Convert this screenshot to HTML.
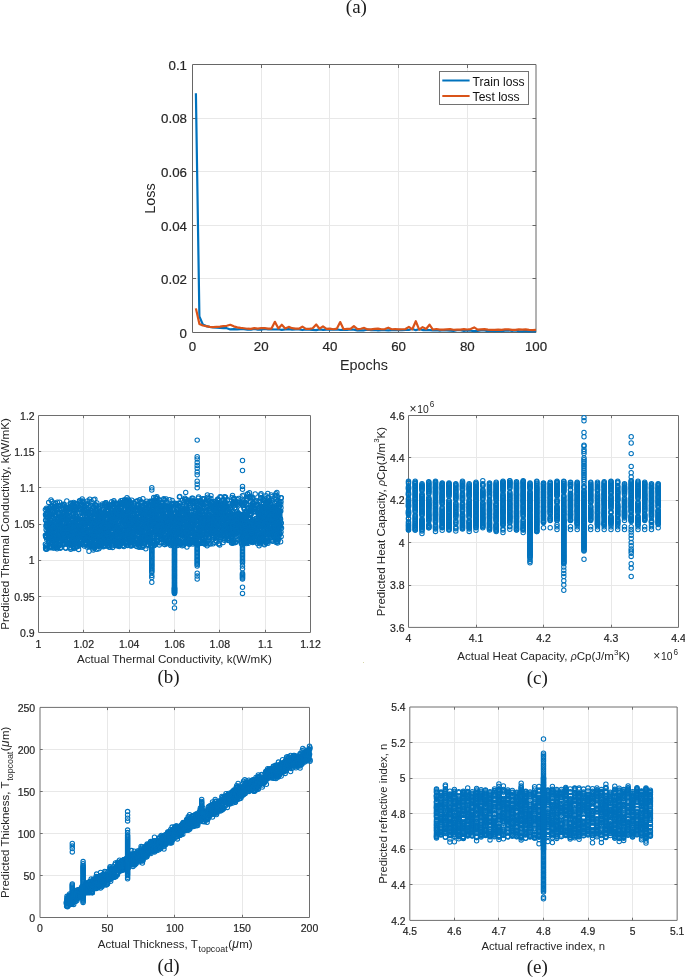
<!DOCTYPE html>
<html lang="en"><head><meta charset="utf-8"><title>Figure</title>
<style>html,body{margin:0;padding:0;background:#fff}svg{display:block}</style></head><body>
<svg width="685" height="977" viewBox="0 0 685 977">
<defs><marker id="mk" markerUnits="userSpaceOnUse" markerWidth="8" markerHeight="8" refX="4" refY="4" overflow="visible"><circle cx="4" cy="4" r="2.2" fill="none" stroke="#0072BD" stroke-width="1.05"/></marker></defs>
<rect width="685" height="977" fill="#fff"/>
<g font-family="'Liberation Serif', 'Times New Roman', Times, serif" font-size="19" fill="#1a1a1a" text-anchor="middle">
<text x="356.4" y="13.3">(a)</text>
<text x="168.5" y="682.6">(b)</text>
<text x="537.3" y="683.6">(c)</text>
<text x="168.6" y="971.9">(d)</text>
<text x="537.3" y="973.2">(e)</text>
</g>
<path d="M261.5 64.5V332.5M329.5 64.5V332.5M398.5 64.5V332.5M467.5 64.5V332.5M192.5 278.5H536.5M192.5 225.5H536.5M192.5 171.5H536.5M192.5 118.5H536.5" stroke="#e8e8e8" stroke-width="1" fill="none" shape-rendering="crispEdges"/>
<path d="M192.50 64.50H536.00V332.50H192.50Z" stroke="#666666" stroke-width="1" fill="none"/>
<path d="M261.5 332.50v-3.5M261.5 64.50v3.5M329.5 332.50v-3.5M329.5 64.50v3.5M398.5 332.50v-3.5M398.5 64.50v3.5M467.5 332.50v-3.5M467.5 64.50v3.5M192.50 278.5h3.5M536.00 278.5h-3.5M192.50 225.5h3.5M536.00 225.5h-3.5M192.50 171.5h3.5M536.00 171.5h-3.5M192.50 118.5h3.5M536.00 118.5h-3.5" stroke="#666666" stroke-width="1" fill="none"/>
<polyline points="195.9,93.18 199.4,316.42 202.8,324.46 206.2,326.07 209.7,326.87 213.1,327.41 216.5,327.68 220,327.94 223.4,328.21 226.8,328.21 230.3,329.43 233.7,329.16 237.2,329.35 240.6,329.15 244,329.15 247.5,329.70 250.9,329.77 254.3,329.02 257.8,329.58 261.2,329.63 264.6,328.93 268.1,329.45 271.5,329.28 274.9,329.49 278.4,329.28 281.8,329.83 285.2,329.40 288.7,329.20 292.1,329.55 295.6,329.37 299,329.45 302.4,330.04 305.9,329.41 309.3,329.59 312.7,329.89 316.2,330.16 319.6,329.40 323,329.79 326.5,329.58 329.9,329.45 333.3,329.63 336.8,329.45 340.2,329.97 343.6,329.55 347.1,329.97 350.5,329.53 353.9,329.60 357.4,330.36 360.8,330.34 364.2,330.29 367.7,329.61 371.1,330.12 374.6,329.97 378,330.29 381.4,330.12 384.9,330.26 388.3,330.31 391.7,330.11 395.2,330.13 398.6,329.86 402,330.09 405.5,329.88 408.9,329.97 412.3,329.02 415.8,330.18 419.2,329.28 422.6,330.05 426.1,329.97 429.5,330.05 432.9,330.38 436.4,330.27 439.8,330.76 443.3,330.20 446.7,330.47 450.1,330.76 453.6,330.99 457,330.27 460.4,330.16 463.9,331.03 467.3,330.38 470.7,330.77 474.2,331.03 477.6,330.92 481,330.50 484.5,330.42 487.9,331.22 491.3,330.71 494.8,331.26 498.2,330.65 501.7,331.04 505.1,330.54 508.5,330.47 512,330.94 515.4,330.50 518.8,331.16 522.3,331.40 525.7,330.94 529.1,331.49 532.6,331.36 536,331.18" fill="none" stroke="#0072BD" stroke-width="2.2" stroke-linejoin="round"/>
<polyline points="195.9,308.38 199.4,323.92 202.8,325.53 206.2,326.07 209.7,326.87 213.1,327.14 216.5,326.87 220,326.60 223.4,326.07 226.8,325.80 230.3,324.73 233.7,326.34 237.2,327.41 240.6,327.94 244,328.28 247.5,328.72 250.9,328.85 254.3,328.09 257.8,328.63 261.2,328.04 264.6,328.11 268.1,328.61 271.5,328.55 274.9,321.78 278.4,328.41 281.8,324.73 285.2,328.52 288.7,326.87 292.1,328.20 295.6,328.62 299,328.71 302.4,326.60 305.9,328.92 309.3,328.88 312.7,328.26 316.2,324.46 319.6,328.69 323,326.34 326.5,328.85 329.9,328.71 333.3,329.25 336.8,328.71 340.2,322.05 343.6,329.27 347.1,328.75 350.5,328.92 353.9,326.07 357.4,329.06 360.8,328.74 364.2,327.94 367.7,329.41 371.1,329.39 374.6,328.83 378,328.58 381.4,329.26 384.9,329.09 388.3,327.68 391.7,329.25 395.2,329.22 398.6,329.29 402,329.25 405.5,329.05 408.9,326.87 412.3,329.29 415.8,321.24 419.2,329.65 422.6,327.14 426.1,329.02 429.5,324.73 432.9,329.53 436.4,329.00 439.8,329.55 443.3,329.61 446.7,329.40 450.1,329.17 453.6,329.74 457,329.55 460.4,329.56 463.9,329.10 467.3,329.49 470.7,329.11 474.2,327.41 477.6,329.63 481,329.35 484.5,329.15 487.9,329.57 491.3,329.80 494.8,329.92 498.2,329.55 501.7,329.88 505.1,329.32 508.5,329.31 512,329.94 515.4,329.86 518.8,329.38 522.3,329.56 525.7,329.42 529.1,329.87 532.6,330.08 536,329.95" fill="none" stroke="#D95319" stroke-width="2.2" stroke-linejoin="round"/>
<g font-family="'Liberation Sans', Arial, Helvetica, sans-serif" font-size="13.3" fill="#262626" stroke="#262626" stroke-width="0.2">
<g text-anchor="middle">
<text x="192.5" y="350.7">0</text>
<text x="261.2" y="350.7">20</text>
<text x="329.9" y="350.7">40</text>
<text x="398.6" y="350.7">60</text>
<text x="467.3" y="350.7">80</text>
<text x="536" y="350.7">100</text>
</g><g text-anchor="end">
<text x="187" y="337.7">0</text>
<text x="187" y="284.1">0.02</text>
<text x="187" y="230.5">0.04</text>
<text x="187" y="176.9">0.06</text>
<text x="187" y="123.3">0.08</text>
<text x="187" y="69.7">0.1</text>
</g></g>
<g font-family="'Liberation Sans', Arial, Helvetica, sans-serif" font-size="14.4" fill="#262626" text-anchor="middle">
<text x="364" y="369.7">Epochs</text>
<text transform="translate(155.2 198.5) rotate(-90)">Loss</text>
</g>
<rect x="439.5" y="71.5" width="89" height="33" fill="#fff" stroke="#727272" stroke-width="1" shape-rendering="crispEdges"/>
<path d="M442.3 80.5H469.6" stroke="#0072BD" stroke-width="2"/>
<path d="M442.3 96H469.6" stroke="#D95319" stroke-width="2"/>
<g font-family="'Liberation Sans', Arial, Helvetica, sans-serif" font-size="12.1" fill="#111"><text x="472.6" y="85.6">Train loss</text><text x="472.6" y="101.2">Test loss</text></g>
<path d="M83.5 415.5V632.5M129.5 415.5V632.5M174.5 415.5V632.5M219.5 415.5V632.5M265.5 415.5V632.5M38.5 596.5H310.5M38.5 560.5H310.5M38.5 524.5H310.5M38.5 487.5H310.5M38.5 451.5H310.5" stroke="#e8e8e8" stroke-width="1" fill="none" shape-rendering="crispEdges"/>
<path d="M38.50 415.50H310.50V632.50H38.50Z" stroke="#6e6e6e" stroke-width="1" fill="none"/>
<path d="M83.5 632.50v-2.7M83.5 415.50v2.7M129.5 632.50v-2.7M129.5 415.50v2.7M174.5 632.50v-2.7M174.5 415.50v2.7M219.5 632.50v-2.7M219.5 415.50v2.7M265.5 632.50v-2.7M265.5 415.50v2.7M38.50 596.5h2.7M310.50 596.5h-2.7M38.50 560.5h2.7M310.50 560.5h-2.7M38.50 524.5h2.7M310.50 524.5h-2.7M38.50 487.5h2.7M310.50 487.5h-2.7M38.50 451.5h2.7M310.50 451.5h-2.7" stroke="#6e6e6e" stroke-width="1" fill="none"/>
<polyline points="152.1,505.6 155.3,519.8 88.9,520 232.6,529.5 66.7,530.5 277.3,541.5 190.7,543 170.1,536.2 102.4,526.6 149.3,540.4 163.3,528.2 153.3,502.5 280.5,525.3 99.5,543.3 226.3,506.6 136.6,546.4 45.4,509.6 156.3,498.6 229.2,538.8 123.9,546.5 73.2,542.8 59.4,524.5 151,513.8 76.2,518.4 72.8,538.1 109,547 95.1,510.4 196.9,501.5 95.7,513.8 123,542.5 66.6,511.1 102.7,535.6 271.8,516.8 250,535.4 259.9,516.3 104.2,514.9 267.4,500.9 253.7,527.8 54.4,504.9 211.7,508 186.2,536.3 215.4,533.2 177.4,532 262,540.9 108.9,543.4 86.9,522.5 76.4,509.4 276.9,528.2 208.6,523.7 49.5,528.1 210.9,498.4 217.8,500.4 63.1,516.3 257.9,531.9 211.5,517.6 207.1,529.8 251,508.2 249.2,515.3 135.6,530.4 196.3,543.8 217.3,511.6 182.5,508.3 65.1,517.1 158.9,515 162.7,524.3 262.7,541.1 116.4,526.4 259.2,518.3 149.7,533.5 92.2,512.5 261.2,511.4 136.1,529.5 162.6,522 245.8,517 85.2,535.1 95.9,520 161.9,508.9 277.2,538 52.7,532.3 55.1,537.2 232.2,536.7 152.7,509.6 101.4,544.2 193.9,516.8 200,529 271.7,520 87.5,526.7 214,531.4 127,517.6 168.2,526.1 232.3,534 65.9,548.3 193,518.2 134.3,508.1 233.5,498.7 215.8,530.2 196.8,521 276.9,492.4 232.1,503.7 247.4,538.5 149.4,512.3 160.4,510.2 60.4,525.8 231.4,536.1 167.3,519 243.7,513.9 269.5,531.9 169.7,513.4 196.2,507.7 177.6,527.8 244.9,527.8 94.5,517.5 180.6,521.2 164.1,528.9 51.9,501.4 178.2,514.7 60.9,530 271.3,513.5 108.9,540.6 147.7,518.4 120.2,519.6 263.8,508.3 50.7,538.1 207.6,528 191.7,512.6 74.3,536.4 92,528.1 134,522.9 83,520.2 196.1,507.3 189.8,532.1 100.3,521 119.9,506.7 96.8,549.2 76.9,516.3 106.6,511 144.9,520.5 207.1,534.6 206.5,518.5 274,519.6 224.4,513.5 89.9,542.1 54.1,525.9 179.6,536.1 93.5,507.3 67.8,507.2 154.4,528.2 122.5,523.8 146.9,512.6 244.7,522.7 219.9,534.5 84.3,546 256.3,522.6 211.7,531.8 186.9,502.1 235.4,503.6 221.1,531.9 237.7,504.1 253.1,522.2 141.1,543.2 62,527.6 47.8,520.9 192.7,503.5 202.6,515.3 179.8,527.4 281.5,527.9 276.8,514.9 219.8,525.7 57.2,531.7 68.6,509.1 175.2,503.1 179.4,496.9 236.5,516.9 224.6,503.1 83.1,539.6 162.3,505.5 144.7,519.7 131.6,517.7 177.7,513.6 115.2,535.5 55.4,515.8 137.4,519.3 222.1,500.7 268.4,502.8 146.7,503.7 102.9,506.7 216,501.3 238.2,514.5 152.9,542.5 170,525.5 203,532.1 182.8,510.9 170.7,545.5 218.7,538 256.1,530.1 109.4,534.5 178.7,536.7 90.1,505.3 261.6,535.4 54.6,536.2 145.7,517.8 62.4,518.9 175.4,519.2 133.4,536.4 126.5,525.8 73.6,532.5 192.6,523.5 106.3,518.7 132.4,519.2 174.9,526.9 262.8,525.8 68.2,526 178.6,514.9 115.9,526.2 63.3,519.5 64.6,516.8 209.2,537 129.8,530.8 212.8,504 267.3,520 148.7,529.8 139.7,546.3 103.9,530.7 131.1,529 91.3,512.9 173,531.8 224.6,527 111.8,524.1 173.8,503.2 199.1,514.7 231.4,539 219.4,520.3 65.3,520 198.6,534 226.1,510.1 138.4,504.2 204.1,520.4 215.6,512.8 261.4,506.4 202.8,519.3 255.2,494 169,523.3 144.6,513.6 279.4,533.9 93.6,534.1 274.3,528.1 72.4,538.7 228.6,539.9 153.7,524.8 71,537.9 100.9,529.9 185.8,535.9 111.7,514 118.9,511.2 158.5,507 261.2,518.3 271.3,531.9 57,548.8 167.1,502.4 200.6,542.9 156.9,510.9 213.8,517.5 82.4,533.2 106.6,541.7 279.9,518.2 80.9,530.5 45.6,520.2 64.8,517.1 68.2,527.4 271,537.8 247.8,508.4 143.8,512.4 94.5,524.3 82.5,519.5 118.9,542.5 117.5,515.6 130.3,520.2 154.4,545.6 199.8,527.4 213,519 153.5,502.7 234.1,516.2 113.9,523.1 115.7,529.2 202.8,534.8 218.1,502.7 178.2,534.8 67.1,543.2 205.4,510 87.8,511.4 185.3,534.2 82.4,529.6 62.5,539.8 198.2,520.6 239.2,528.1 142.6,528.1 210.6,544.1 49.7,533.3 199,527.4 165.6,537.4 240.2,515.6 258.6,526.6 163.5,514.2 278.4,510.6 242.6,501.9 193.4,540 103.1,516.8 123,514.4 130.6,540.1 275.2,502.6 173.6,520.4 107.7,511 187.4,508.7 113.5,529 102.2,511.2 89.1,543.3 52.9,506.1 267.2,528.5 219.5,517.6 235.2,533.9 155.8,528.3 179.8,521.9 107.6,532 196.9,515 79.5,500.7 156.3,518.2 208.1,525.2 280.2,534 247.3,523.5 179,537.5 147.4,529 121,515 257.9,536.6 117.3,537 61.8,528.6 164,542.2 209.4,532.9 117.6,535.8 61.5,516.1 250,507.6 97.7,531.5 179.2,512.6 74.5,507 45.4,535.2 122,507.8 237.9,527.1 183.6,542.5 257.5,520.5 265.9,495.8 94.1,507.5 257.1,506 128.9,538.1 253.1,497.9 253.2,537.3 216.7,504.6 250.7,528.5 77.2,519.8 64,534.4 213.1,535.3 100.9,532.4 232,514.3 254.2,522.9 264.2,515.7 110.7,505.5 149.3,522.4 56,515.5 112.5,512 65.9,515.5 103.4,523 89.3,526.4 154.3,527.1 136.2,533.4 176.6,526.2 130.2,525.3 164.7,537.7 206.9,502.7 86.4,522.4 100.9,513.6 231.1,513.5 101,536.9 182.3,542.4 186.3,543.1 87.8,545.8 162.5,525.7 107.4,536.7 62.4,540.4 232.3,536.2 118.8,532.4 192,532.4 184.3,509 85.8,539.9 208.4,530.2 231.1,525 131.4,504.3 55.2,515.6 278.2,521.7 221.2,532.5 255.5,525 115.7,542.6 53.4,547.7 105.1,535.9 154.3,500.3 124.9,500.5 198.8,528.8 209.4,522.9 184.8,535.1 244.4,508.8 96.2,538.6 175.1,535.4 96,533.4 150.9,545.1 249.1,525.6 62.5,534.6 49.7,536.7 138.1,521.7 214.2,527.6 81.6,504.2 259.5,527.9 136.1,507.9 122.1,542.9 168,527.6 101.6,539.8 185.9,530.5 145.5,539.2 212.2,512.2 202.6,534.6 111.5,535.9 249.8,529.5 126.8,543.7 51.1,524.8 179,518.3 203.7,526.6 96.4,540.4 250.4,515 66.5,530.7 59.5,533.6 162.7,537.7 140.4,538 202.4,539.3 126,539.1 182.9,543.9 176,517 131.3,528.3 58.2,522.8 156.1,533.9 50.9,510.2 178.9,515.7 89.2,520.6 270.8,516.7 267.9,522.1 193.5,534 110.5,523 253.1,503.1 54.3,526.3 118.2,504.5 80.7,537.2 205.9,543.2 173.7,534 161.9,539.2 177.7,530.1 274.1,526.4 254.6,511.3 209.5,508.2 83,533 161.2,528.8 112.8,534.9 104.2,538.6 166.6,541.6 61.5,517.7 71.9,514.6 158.8,507.9 250.7,531.1 165.2,528 138,527.6 122.5,513.5 244.3,509.3 179.3,514 192.4,524.2 134.3,532.1 99.9,545.7 183.6,545.3 144.3,516.5 139,547.3 73.3,535 218,499 123.3,522.7 159.4,531.4 234.4,526.5 191.2,516.6 277,511.5 174.2,522.8 70.6,503.6 160.6,530.8 49.8,541.6 193,533.9 159.2,533.5 57.4,510 118.4,538 159.5,500 143.2,535.3 138.8,521.9 200.4,529.3 249.5,492.6 242.2,523.3 85.2,543.5 130.1,525.7 118.5,545.3 94.9,499.1 232.4,527.5 139.6,519.8 278.2,500.5 140.3,541.5 104.5,516.2 99,530.7 200.5,523.7 131.4,532.2 259.1,537.7 124.4,521.8 95.2,542.3 87.2,540.6 128,545 164,530.8 172.2,500.5 253.3,509.7 70.9,503 141.7,528.8 87.3,518.1 269.1,533.5 129.7,501.3 197.4,517.3 254.9,530.7 193.8,519.4 72.3,533.2 202.5,527 99.6,538.2 180.6,542.6 193.5,518.4 185.7,492.4 219.6,511.5 279,504 75.2,503.1 100.6,541.6 241.2,542.2 166.1,498.9 104.5,539.2 152.5,508.1 91.6,519.4 62.7,514.2 161.2,510.6 247.3,542 233.5,526.8 69,532.6 249.6,530.3 73,530.7 245.9,521.2 278.6,514.2 252.3,526.1 91.8,530.3 125.5,518.9 111.1,527.5 209.4,537.7 209.2,537.6 72.7,503.8 280.3,518.3 219.2,529.6 141.7,518.4 145.6,535.9 164.9,500.3 211.5,518.4 112.6,532.4 205.1,503.6 136.9,509.5 187.3,541 144.3,526.3 270.7,511.7 204,525.8 76.5,529.3 126,517.9 246.1,528.3 257,526.2 133.7,528.7 203.4,505.1 269.6,514.3 156.1,525 119.9,545.7 275.9,493.8 241,534.2 61,530.5 200.3,501.3 94.8,540.4 138.5,545.1 65,520 192.4,526.1 217.9,507.8 73.6,546.3 248.3,543.3 171.9,539.5 231.7,520.9 74.7,541.5 66.2,534.9 228.9,524.9 58.1,528.5 177.1,508 69.9,528.1 81.9,501.4 249.3,497.1 47.8,513.4 218.8,518.6 52,535 273.5,513.7 245.5,524.3 63.8,542.6 262.3,520.7 199.8,514 163.6,530.6 138.5,513.9 106.3,528 157.9,526.4 151.8,509.4 59.9,524.4 139.7,540.9 133.1,524.8 99.7,529.8 141.3,502.7 185.4,499.1 116.4,533.3 184.5,522.7 167.2,522.6 104.8,512.6 145.8,525.8 140.3,516.3 65.5,547.8 238.8,517.1 197,511 56.6,547.5 196.1,503.8 223.1,542.5 219.3,513.9 277.6,530.1 63,544.3 134.5,526.8 73.2,516.1 62.2,512.3 202.7,538.5 73.3,506.9 177.6,520.5 95.2,523.8 243.5,504.9 156.9,526.3 134.5,517.6 208.2,510.1 70.2,534.2 84.6,526.4 84,521.8 168.1,520 244.2,517.2 158.8,499.7 210,532 217.8,531.9 60.5,540.5 147.5,516.7 177.5,545.6 99.9,525.6 69.5,511.5 53.6,540.8 124,505.4 225.9,529.7 68.4,528.3 171.7,520.2 73.8,546.8 263.5,533.6 131.3,546.1 217,532.3 50.1,537 114.5,540.3 159.8,532.5 110.9,509.1 83.1,511.1 247.2,538.8 171.6,530.5 262.4,523.8 266.5,507.9 100.4,530.6 217.5,499.4 179,534.1 269.6,501.2 200.5,505.1 69.4,542.1 278.8,503.9 59.8,527.6 180.1,544.1 247.3,527.8 169.8,521.9 129,537.1 211.8,522.4 63.9,523.8 275,535.4 116.2,516.1 267.1,541.5 263.9,521.9 161,527.5 207.3,541.9 65.7,506.9 52.8,511.1 271.4,539.9 241.3,538.6 168.1,525.7 45.5,514.5 275.7,540.3 141.6,530.4 48.8,531 169.6,515.6 152.7,507.4 86.8,535.9 158.4,514.3 123.9,517.9 106.8,535.3 252.4,532 116.5,515.1 204.5,529.1 225.6,533.4 143.2,502.4 129.5,518.4 77.3,529.8 230.1,508.9 134.9,520.2 220.4,508 48.6,531.7 60.7,525.8 252.7,542.6 126.1,501.7 90.8,517.9 253.7,541.8 269.5,525.5 73.7,507.5 62.2,532.7 56.9,539.8 74.3,524.2 179.4,544 64.5,544 118.4,531.8 263.6,534.7 123.3,533.1 232.5,495.4 155.1,504.7 276.3,508.6 139.9,538.2 86.2,539.9 95.3,537.1 234.1,514.6 155.1,544 117.2,534.7 191.4,523.5 192.7,528.4 254.1,534.1 154,506 100.4,547.1 253.6,520.1 277.8,533.8 216.2,518.1 82.5,501 127.3,524.5 263.2,525.4 45.7,536.5 180.9,517.9 154.5,523.6 159.1,519.3 149.9,511 100.7,529.9 233.8,504 164.3,520.9 268.7,520.8 113.9,536.7 91.7,511.3 235.1,542.4 207.1,529.4 234.6,507.7 116.9,507 50.7,533.2 232.3,541.2 260.5,495 71.1,547.9 118.7,516.4 224.4,496.8 59.1,519 226.8,516.2 268.1,532.2 161.5,529.5 50.7,514.2 99.3,526.3 167.1,532.7 89.5,543.1 207.4,495 113.9,500.8 272.6,527.2 168.7,542.8 249,521.8 221.2,534.3 182.5,530 61.8,532.4 169.7,499.8 143.2,535 157.2,498.3 225.4,515.4 266.9,517.7 104.6,504.1 169.9,511.8 58.8,524.3 109.7,529.4 226.4,532.9 212,524.6 70.5,506.9 255.1,538.7 108.9,532.8 145.8,513.5 140.5,525.4 206.2,511.2 75.7,527 49.3,531.3 156,504.3 246.6,517 119.8,502.2 117.1,509.2 165.5,527.5 254.8,508.1 212.5,527.5 148.5,531.5 192.6,530.7 227.8,522.4 253,525.8 257.4,543.5 220.3,512 269.6,515.3 203.3,515.5 98.7,546.3 126,534.2 49.3,515.5 106.6,526.6 280,502.1 59.4,520.4 239.3,534.1 213.5,517.2 221.6,532 211.9,519.9 278.4,507.8 122,520.7 179.3,523 84.8,531.3 256.3,528 144.5,519.3 154,502.7 179.8,496.5 224.5,529.9 208.7,520.9 109.9,523.3 51,520.1 80.4,510.1 265.8,533.9 73.1,513.6 219.8,522 209.5,508.3 248.3,512 210.5,505.7 96.9,533.1 149.7,535.1 179.9,519.5 97.9,529.1 80.8,501.9 240.8,520.6 205.2,528.1 212.1,505.5 251.3,526.4 99.3,514.7 60.1,525.5 173.6,524 128.7,502.7 249,537.6 50.2,526.7 202.8,518.7 121.4,533.4 177.9,528.7 104.1,535.1 49.1,522.8 108.8,510.3 156.1,531.4 254.8,533.8 208.8,525.6 137.4,525.4 170.2,510.8 256.1,540.8 116.4,512.2 191.8,535.5 250.5,533.6 206.8,525.7 139.2,507.9 279.4,533.5 242.6,531.6 274.6,519.2 118.5,545.7 63.1,504.3 80.3,519.9 71.4,507.6 148.2,537.5 86.2,508.7 204.5,524.2 173.7,519.6 194.5,534.2 200.4,540.3 225.2,501.9 177.3,517 107.2,535.1 216.3,522.7 233.7,533.8 52.4,527.7 271.6,530.2 240.8,515.1 190.6,500.9 178.3,509.1 104.9,524 274,529.3 262,513.6 60.9,537.4 113.8,536.2 203.5,543.3 135.8,530.7 161.5,522 56.8,506.2 133,539 185.2,525.8 87.9,525.5 226.2,532.4 90.1,512.2 53.2,527.9 244.6,515.3 221.4,525.4 240.2,535.3 54.2,510.7 135.3,543.2 245.2,527.2 261.7,536.8 113,541.1 92.7,525.9 171.8,537.8 179.5,527.5 157.3,518.6 91,546.1 255,518.9 137.9,505.4 76.5,517.1 133.2,525.3 112.5,514.2 230.5,526.1 263.7,524.8 246.7,504.2 220.2,507.8 130.8,508.2 181.6,531.2 281.2,536.4 79.2,523.1 76.4,546.9 60,531.3 188.6,524.7 247.8,496.9 131.7,520.8 92.2,532.2 45.6,547.7 122.8,503.7 195.9,513.1 100.2,515.8 247.6,494.2 120.3,532.5 220.5,513.6 81.2,522.9 190.9,542.1 143.1,514.1 180.5,527.4 273.9,537 53.7,512.9 206.8,506.8 133.2,518.2 51.3,546.4 83.5,524.3 75.6,525.4 73.7,537 217.4,536.7 249.1,528.2 275.6,508.1 194.8,543.1 157.8,519.1 165.6,541.9 76.4,541.1 232.5,523 164.7,544.4 138.5,536.8 158.6,502.2 56.2,544.2 205.4,536.9 145.3,526.2 225.7,530.1 132.2,527.2 254.5,536.2 77.4,527.8 222.2,514 95.8,520.9 57.3,502.3 71.1,519.7 156.3,514 232,540.5 187.8,530.9 261.9,514.1 62.7,517.3 121,532 258.7,513 78.3,506.9 249.6,518.4 120.3,514.3 224.6,524.8 209.8,522.4 154.8,540.6 85.3,542.5 131.4,537.9 275.5,522.9 75.7,539.9 227.1,532.2 252.3,497.6 142.3,517.7 128.6,509.7 234.2,531.8 244.6,514.7 104.6,541.9 233.9,527.5 72.9,520.2 256,530.9 224.6,505.3 128.6,536.9 114,534.1 217.5,515.7 234.9,534.2 73.6,513.7 187.7,524.5 186.7,542.3 144.7,503.8 130.3,519 250.3,536.5 236.1,518.6 68.3,529.9 82.2,498.9 224.3,539 157,529.5 170.5,522.4 213.7,529.9 179.9,524.3 79.6,540.1 271.8,522.6 155.2,532.8 229.2,506.5 235.1,519 67.3,533.2 61.7,515 184.9,535.7 93.3,535.6 204.8,537.4 92,522 46,548.7 135,510.3 276,508.9 238.5,498.4 99.9,524.7 260.2,536.2 128.6,518 215.4,534.7 155.8,525.4 207.2,521.3 122.4,539.5 56,532.4 53,529.7 267.9,515.4 132.4,539.5 184.7,524.4 135.5,540.8 48.9,528.3 232.1,534.4 119.8,513 219.3,523.6 129.2,511.9 107.1,517.2 271.8,496.7 279.5,506.7 73.9,528.4 243.5,518.5 249.7,539.8 112.8,528.2 267.9,504.2 238.9,531.8 218,533.2 60.2,530.1 174.3,520.2 114,517.4 124.6,529.6 109.1,533.5 115.7,544.5 158.8,507.3 130.4,523.2 51,514.7 176.7,529.5 222.7,509 242.7,526.4 154.3,520.2 169.4,540.4 248,509.9 190.8,523.3 157.5,504.4 84.2,540.6 223.4,511.4 117.8,529.6 47,517 252.9,524.5 212.8,521.3 59.6,502.2 125.2,508.1 266,522.5 109.9,526 71.2,529.8 157,519.4 267.4,541.9 103,519 188.5,501.6 119.1,541.9 94.8,534.6 243.9,532 102.5,522.6 69.5,547.8 214.6,511.2 226.5,531.1 169.3,532.5 80,501 98.8,548.7 245.7,532.3 179.1,512.9 242.7,521 217.9,504.9 279.3,512.2 202.4,524.6 132.1,509.2 216.2,516.7 154.5,525.6 206,538.6 46.2,537.5 98.9,528.8 209.5,526.1 250.2,525.7 218.1,530.2 62.2,522.9 58.1,518 188.5,533.3 272,513 48.8,530.7 196.1,532.5 46.4,535.9 192.8,498.1 279.3,502.8 139,531.3 128.3,499.2 110.2,521.7 138.6,519.9 145.2,522.6 125.5,501.3 48.7,510.1 114.2,523.7 108.1,543.2 127.8,511 227.2,526 185.8,526.1 76.1,532.4 243.7,543.1 192.8,515.6 77.1,503.9 136.2,516.9 106.6,533.3 188.7,515.5 259.1,545.7 262.9,506.4 66.5,525.7 269.4,510.8 169.8,510.6 59.6,527.8 238.6,523.3 51.9,518.8 263.9,520.8 72.8,531.9 227.5,525 169.5,532.1 255.2,508.9 131.9,545.3 272.9,531.4 277.2,518 56.9,527.7 192.2,500.9 80.1,526 144.5,504.7 119.4,521.3 171.1,542.9 189.2,511.9 100.2,524 242.1,524.1 273.7,517.8 263.4,539.4 132.4,520.4 55.3,526.7 128.8,530.4 93.4,520.5 200.7,520.7 58.6,513.5 107.3,528 232.5,518.9 172,517 269.2,522.4 159.1,521.1 66.5,523.4 143.7,539.9 266.2,516.7 277.8,510.1 267.8,541.2 75.2,513.2 188.5,538.8 197,537.8 185.6,532.3 234.5,519.3 79.3,545.6 250.2,517.9 236.3,503.5 242.5,522 126.9,513.2 157.1,500.4 147.1,511.6 253.7,527 109.5,515.2 270.3,535.1 179.7,524.4 64.2,512.9 219.9,519.4 153.3,542.4 231.7,525.1 79.6,544.2 73.6,529.1 77.7,543.8 176,532.3 243.6,536.3 197.9,519.6 147.2,525.3 268.1,523.7 177.3,504.6 94.1,545.7 52.1,527.1 251.1,541.2 181.4,517.8 260.7,526.1 113.7,515.5 106.3,537 127,497.7 106.1,530.1 54.7,525.6 102.4,513.4 78.8,530.5 265.6,514.7 242.4,495.8 182.8,527.8 179.9,516.7 249.4,529.2 98.5,530.8 147.8,538 188.4,514.9 177,534 74.5,509.7 268.9,516.9 167.7,536.7 231.7,532.8 111.1,537.8 64.1,540 197.1,528.9 192.8,517.6 115.1,516.8 96.2,546.3 190.9,511 113.4,527.6 218.8,538 89,551.3 192,539.9 49.4,529.2 215,523 220.6,534.8 195.1,515.2 177.6,515.4 211.5,501.8 158.9,522.9 129.9,507.9 87.2,523.5 280.7,504.4 46.7,549.3 151.2,532.4 129.3,508.7 72.2,527.2 175.9,524.9 186.9,503.2 186.8,520.5 250.2,514.3 160.5,537.8 100,528.5 187.3,517.4 157.1,524.5 276,526.9 105.4,534.9 148.5,527.8 107.8,509.7 148.9,520.4 168.8,520.5 269.7,500.1 49,513.3 110.4,538.5 162.3,511.4 50,547.1 57.9,526.8 274.1,515.6 260.3,533.7 102,526 71.3,535.7 161.4,526 109.9,522.4 89.6,517.6 99,524.8 183.7,517.6 280.6,519.3 87.3,519.4 69.6,543.6 173.4,533 226.5,536.3 205.8,500.7 150.4,515.1 243.3,524 69.8,525.8 88.9,534.6 268.1,506.6 268.4,508.6 161.6,539.2 200.8,509.1 207.8,520.8 129.5,512.8 46.9,526.3 80,529.4 103.8,518.9 147,541.8 175.5,523.2 105,506.1 158.7,519.3 82.1,524.2 75.4,508.8 273.1,540.7 218.7,520.5 56,523.6 229.2,521.8 100.6,512.5 187.9,535.9 61.4,525.3 186.1,516.8 178.5,541.5 170.8,516.8 278.2,521.2 175.7,539.7 201.4,517.3 175,540.5 146.7,532.1 209.9,528.7 151.1,518 223.8,517.4 236.4,514.3 150.8,528.8 119.4,538.4 168.1,543.8 111,505.8 77.7,523.3 275,523.6 253.3,529.1 267,521.7 239.9,519.5 67.6,526.3 238.3,513.9 78.6,544.4 182.5,516 213.7,503.2 215.9,505.8 87.8,523.4 186.9,547.1 155.7,512.4 193.7,519.2 175.5,524.1 155.4,520.1 80.5,541.8 51.7,516.7 140.4,538 112.9,536.8 127.5,526.9 206.6,512.1 82,530.8 124.4,538.8 139.8,511.5 128.9,504.5 146.4,545.7 261.1,493.6 185.3,528.3 122.8,512.1 62.9,526.9 244.2,523.5 80.2,527.9 142.9,498.7 109.5,505.6 127.6,522.8 203.6,498.6 162.3,513.4 204.6,541.1 87.2,538.9 113.1,544.8 169.2,524.2 217.3,536.9 161.2,511.2 164.9,528.5 51.8,526.5 137.3,519.5 172.8,541 266.2,542.4 173.9,534.9 85.9,535.3 150,519.5 71.9,527.3 158.5,511.5 168.3,527.7 45.7,546.2 272.5,541.3 172.7,532.5 70,521.4 141.9,534.9 94.4,528.4 169.6,534 214.3,522.7 280.2,511.7 218.7,515.8 138.8,529.2 51.3,536.2 176.8,519 208.7,515.1 264.9,532.1 161.1,527 87.6,513.1 167.1,518.3 241.5,514.5 88.3,527.2 84.5,538.8 84.9,519.5 202.7,502.9 145.3,505.7 198.6,511.7 220.2,539.8 218.2,504 187.1,512.2 86.7,538.6 63,516.5 71.6,529.7 246.7,533.4 99.6,511 244.3,520 47.6,534.3 271.3,534.5 218.7,509.9 108.6,510 274.5,526.9 220.1,526.5 241.7,542.2 154.4,517.7 231.5,525 267.5,503.2 252.7,540.6 187.3,514.3 216.3,528 85.1,535.1 110.2,515 175.7,541.7 231.3,522.1 242.8,517.2 154.6,509.8 93.6,527.4 57.2,522 188.1,540.7 177.7,531.1 98,525.9 131.9,524.6 204.5,517.4 106.3,524.8 219.2,512.8 170.7,509.8 130,518.9 75.6,543 199,504.3 235.8,527.8 121,541 251.2,541.5 276.8,508.1 152.3,502 157.1,506.1 125.2,524.6 64,543.6 231.6,543.1 228.9,509.2 195.1,536.2 79.1,528.7 113.5,503.4 224.6,538.3 263.3,516.2 183.4,529 78.5,538 238.7,524.2 128.6,500.4 91.8,545.9 166.7,538.5 165.4,535.3 183.1,514.1 57.7,535.3 114,526.3 67.7,527.8 62.4,506.9 89.4,523.5 196.5,534.2 188,542.5 209.3,515.7 235.7,522.6 187,518 193.2,533.6 101.6,543.8 182.6,506.7 271.8,500.1 192.7,527.3 130.6,542.5 102.8,527.3 159.1,505.4 254.5,507.6 128.8,526.1 220.1,535.4 144.3,514.6 104.8,512 186.6,534.6 216.7,525.9 262.3,538 201.4,520.7 267.6,533.3 163.7,514.2 195.5,534.6 191.5,514.8 156.2,515.4 275.2,514.9 190.2,537 279,523.5 148,535.5 281,532 100.1,543.3 263.6,520.8 255.4,540.9 263.5,500.3 114.1,538.4 223.2,529.7 259.1,519.6 193.2,526.3 271.2,524.2 86.2,522.6 121.5,542 207.2,521.1 74.5,505.7 130.5,511.1 50.9,527.7 126.3,505.8 59.8,520.5 270.3,533.3 153.9,542.1 178.5,520.2 183.6,524 66.9,534 143.2,537.8 62.8,516.9 262.4,515.3 131.5,531.4 186.7,505.8 77.7,543.3 177.6,514.4 129.3,507.9 75.1,525.1 58.8,541.8 214.5,516.6 75.7,543 111.9,522.9 199.7,530 94.7,521.2 132,537.2 144.6,543.1 156.7,520.3 105.6,515.5 65.2,536.6 114,537.5 181.4,533.8 107.6,510.8 207.4,521.2 119.3,510.5 242.4,519.8 49.4,533.6 146.5,530.1 75.5,527.2 86.6,521 71.9,537.8 103.5,546.3 276.2,495.8 98.9,523.3 160.2,509.4 102.5,504 54.3,507.3 233.2,525.6 266.6,508.5 172.7,521.8 262.3,525.4 138.5,523.4 121.1,528.7 45.8,549 158.5,533.4 227.8,538.5 146.2,539.6 134.3,513.8 141.5,502.8 261.4,534.2 237.8,528.2 76,520.7 232,526.8 179.2,530.7 238,521.1 179.9,527.3 96.7,508.7 229.7,529.6 237.2,511.5 212.3,502.5 194.5,516.9 91.2,534.2 163,506 246.7,542.2 219.4,525.5 160.8,506.3 133.3,541.8 172.1,504 195.1,536.8 56.8,538.2 164.9,506 58.4,514.1 119.8,527.4 115.2,535.2 67.9,517.1 126.4,535.8 69.5,523.5 189.7,542.1 172.7,516 109.5,519.8 100.1,543.1 192.9,524.1 251.9,536.4 108.7,504.9 267.9,529.4 66.7,537.5 194.5,532 194,519.3 68.9,508.7 155.8,526.8 88.5,512.9 114.5,539.2 52.2,506.3 134,503 184.6,534 159.6,532.5 114.1,516.5 66,525.9 279.1,518.3 203.3,522.4 49.4,546.3 72.6,532.5 157.5,541.3 74,548.6 261.1,533 252.9,535.5 198.6,544.1 218.6,543.9 274.6,519.9 145.2,505.6 180.4,525 251,538.2 159.3,544.9 250.7,502 147.3,512.7 48.2,535 96.7,524.8 260.2,529.4 140.1,540.4 219.7,545.1 238.6,513.3 246.9,527 82.4,517 238,506 224.1,536.1 200.7,514.5 96.2,511.3 268.6,511.5 175.1,535.4 100.4,525.2 120.9,508.7 49.8,525.8 269.6,516.1 143,509.5 161.9,521.2 99.6,527.3 50.8,531.8 136.6,523 220.6,510.2 201.1,523.4 145.3,521.5 208.4,521 240.7,529.7 90.9,535.1 270,503.8 273.2,533.9 163.8,498.6 195.6,529.7 179.5,515.1 228.2,526.8 105.8,502.6 151.6,545.8 75.2,543.4 139.8,524.8 276.4,534.1 87.5,537.5 167.1,523.4 142.1,529.8 162.4,519.8 154.6,528.5 273.1,531.6 72,536.9 91.8,521.9 107.8,546 50.6,534.1 181.1,533.3 184.9,498.1 176.2,505 98.6,523.6 260.4,512.3 238.1,532.2 84.3,511.6 176.2,544.1 173.7,544.1 242,503.8 205.2,511.6 144.8,517.1 164.5,509.2 158.7,514.3 202.9,521.6 111.3,537.6 84.8,536.1 111.5,509.5 196.7,524.9 146.4,536.5 94.1,511.7 60.7,539 98.2,520.3 127.2,519.8 172,522.5 191,528.5 240.7,515 71.9,528 206.1,502.4 113.6,526.1 274.6,530.5 195.1,528.9 76.4,543.7 149.7,534.4 266.3,511.7 60.8,533.7 269.9,505.5 52.2,506.2 132.6,534.3 131,529.2 117.3,525.9 88.5,522.3 180.8,532.3 268,528.4 143.8,536.1 248.6,518.7 189.2,525.4 76.6,516.2 247,498.8 153.7,542.8 162.1,510.6 61.2,518.1 243.1,505.6 224.8,512.5 167.3,506.2 244.7,522.7 54.4,534.8 164.7,521.1 147.8,510.9 200.7,534.9 101.4,528.3 164.4,519.3 115,545.5 195.3,518.3 183.9,501.8 119,541.2 102.1,529.3 219.9,505.2 83.8,522.7 171.1,533.7 194.5,506.8 181,520 268,527.3 118.1,513.2 198.4,513.5 252.8,541 187.4,536.5 141.4,506.5 186.5,529.4 155.3,525.5 116.6,504.5 196.4,521.4 146.2,538.3 112.2,545.7 106.6,526.4 174.3,525.7 267.8,518.6 131.1,533.9 150.4,541.5 131.6,517.3 67.7,532.6 175.1,513.4 117.1,521.2 55.2,510.5 207.9,515.8 130.4,533.8 172.8,522.2 179.9,506.9 158.7,532.7 263.7,524.2 274.2,518.6 229,538.3 107.1,545.7 215.5,526.6 219.1,543.8 263,504.1 233.5,533.5 218.1,519.8 52.4,539.7 248.1,541.4 138.7,506.8 254.9,501.7 107.6,528 225.6,537.7 103.3,521.9 265.4,535 198.9,509.9 131.6,521.2 240.3,518.9 150.5,506.2 126.1,506.3 276.9,514.7 76.1,539.7 96.9,510.7 188,523.8 219.9,519.4 116.8,543 114.2,542.4 54.5,546.8 145.5,507.6 55.4,503.4 241.4,531.7 189.5,543 76.1,534.9 105.1,546.1 126.2,533.7 142.5,527.4 259.9,507 171.5,513.7 199.5,501 67,519.6 215.6,540.5 55.7,527.3 249.8,510.4 209.6,510.4 159.7,522.4 223.2,523.1 242.5,505.4 128.2,515.9 180.8,537.3 144.7,512.2 209.7,525.7 261.2,535.4 244.6,519.8 140.4,532.1 60.5,524.2 155.7,531.6 59.9,512.5 113.5,538.3 267,530.5 132.2,522.8 259.9,541.9 267.8,509.9 129.6,517.6 105.5,532.6 88,531.6 111.9,513.2 227.5,499.7 95.2,532.9 94,517.1 76.7,534.6 154.5,544.7 146.8,501.1 227.2,512.3 165.1,538 220.2,505.1 172.8,544.1 150,501.2 167.2,521 244.5,518.1 169.5,539.3 260.1,543.7 180.2,530.3 123,529.7 131.9,542.4 76.5,504.5 131.1,537.9 221.1,497.1 271.9,534.5 208.5,539.9 152.1,529.6 204.7,508.1 56.4,540 116.2,519.8 213.2,528.4 54.3,542.2 86.8,540.3 246.2,521.6 230.6,521.2 55,508.5 179.2,517.1 163.9,517.5 213.3,525.3 276,542.2 91.1,511 148.2,513.3 77,508.1 90.1,544.2 108.3,537.2 206.8,517.1 94.3,525.2 229.1,524.9 72.2,523.3 86.7,505.4 150.5,543.4 107.3,519.9 81.7,540.7 220.2,527.1 110.5,521.9 76.6,520.6 111.4,520.3 86.8,543.7 247.8,541.2 129.4,524.2 46.5,523.7 89.8,499.1 76.2,515.2 242.5,521.7 50.7,512.8 245.3,502.5 237.4,504.6 48.5,538.9 94.9,544.4 273.4,512.1 128.4,537.9 224.9,523.5 86.2,533 193.7,501.6 155,522.3 194.3,501.2 279.2,515.5 215.1,510.1 248.6,517.9 199.9,541.4 88.3,519.8 247.4,534.9 144.4,534 160.8,522.1 156.6,537.2 201.2,502.4 270.6,519.8 66.2,535.8 111.1,516.8 200.3,533.6 279.7,511.3 103.4,546.8 148.4,536 229.9,533.8 126,503.2 143.6,543.1 178.3,530.4 121.5,502.6 116.2,532.4 208.6,533.4 54.4,521.9 115.7,510 274.2,538.3 242.8,516.5 242.5,534.6 277.9,533.4 209.3,543.2 50,538.7 202.4,498.7 52.3,542.3 119.3,512.2 173.6,514.1 80.5,524.5 228.2,540.5 241.2,542.2 130.3,503.1 60.4,522.4 279.7,532.1 49.8,532.5 127.7,508.3 281.3,497.7 154.5,531.3 230.5,508.3 226.2,530.1 63.3,513.4 271.7,512.9 224.3,520.6 60.1,524.9 129.9,520.8 109.7,521.1 269.8,507.9 57.2,518.2 64.9,518.1 255.2,511.6 198.6,496.9 108.4,514.1 130.9,510.1 224,514.7 278.8,517.3 200.2,532.6 87.1,523.1 123.3,512.6 83.2,524.7 239.7,538 95,505.2 235.8,542 177.3,520.6 244,507.8 153.7,538.3 101.7,534.4 173.8,532.7 71.4,508.8 148.9,539.3 277.7,507.6 55.6,527.1 152.8,508.4 180,519 110.1,528.3 70.8,544.5 58.3,526.6 272.9,519.2 162.2,510.4 107.4,544.1 102.5,516.2 158.5,534.1 129,532.4 167,527.9 72.6,524.7 260.5,523.2 256.3,529.2 245.5,525.9 59.9,530.4 89.2,546.5 210,524.2 235.6,502.1 263.8,518.5 146.8,521.3 132.1,517.3 202.4,533 168.4,515.8 209.1,524.8 237.8,502.8 274.2,520.6 89.7,524.1 256.3,502 241.5,540.9 281,507.8 248.8,541.3 250,497.6 201.4,503.4 189.7,544.2 166.8,522 171.5,534.9 80,534 156.8,501.6 266.8,528.7 143.2,541.1 175.6,534.2 235.5,518.3 200.2,510.2 262.8,498.9 73.5,541.6 81.3,512.6 231.1,519.1 221.9,527 63.5,538.8 156.5,500.6 201,526.6 163.1,515.5 57,547.5 137.5,534.8 50.8,520.4 123.1,504.1 177.7,532.8 278.2,540.1 145.7,536.2 146.3,505.1 168.3,521.1 185,509.5 152.8,529.8 226.3,517.1 276.6,510.7 55.7,547.4 202.4,530.9 173.4,539.1 174.4,520.4 193.9,519.7 261.5,510.3 215.1,516.3 273.5,532 149.2,533.2 125.1,537.4 167,529.4 242.8,526 45.4,544.3 165.1,524.3 223.9,505.5 130.2,534.2 76.2,541.7 80.2,516.2 276.5,530.9 274.3,530.1 233.4,542.5 256.1,500.5 198.5,523.3 116.5,503.6 139.7,507.5 123.5,516 76.1,533.8 270.8,521.8 58.5,540.5 227.6,529.2 86,542.8 269.1,513 275.9,522.4 111.7,501.7 51.7,525.4 101.2,545.1 203.2,531 69.3,512.4 96.7,544.9 179,505.5 91.1,509.9 59.7,527 114,524.8 52.2,535.6 134.5,515.2 143.4,539.7 265.4,511.9 176.8,508.7 170.2,512.7 163.7,499.6 156.6,512.3 150.3,513.7 257.2,511.8 177.9,534.9 111.9,504.4 51.4,539.1 238,531.4 118.1,517.3 221.6,527.7 52.3,542.4 251,525.6 277.6,541.6 252,528.6 92.5,520.6 257.4,534.5 235.6,527.5 231.7,542.5 139.7,515.7 280.5,527.1 89.5,523.1 215.3,511.3 188.1,521.4 142.4,522.3 201.7,512.1 83.2,531.3 143.1,545.4 56.9,528.2 161.5,532.4 67.7,516.3 99.3,518.9 277.5,542.9 213.8,536.3 182.8,508.4 52.5,515.8 66.4,514.7 278,516.3 230,515.3 173.2,518.9 150.4,512.5 198.1,543.6 164.2,510.9 260.2,541.2 250.7,498 187.2,527.4 195.8,518.4 162.1,502.7 167.4,531.7 274.1,508.3 71.7,520.6 63.9,518.2 127.5,528.7 81.3,507.2 195.7,509.3 242.9,533.8 121.4,506.6 64.3,511.5 118.6,521.1 50.4,528.9 195.4,511.8 89.1,501.2 155.5,543.6 93.3,549.9 219.7,517.2 93.7,516.2 94.3,546.2 121.2,540.8 68.3,543.7 266.4,525.8 60.4,505.4 90,530.9 260.8,535.8 62.6,527.1 223.4,507 83.1,534.7 179.3,520.9 105.6,541.3 231.6,520.6 201.1,535.3 141.7,528.5 188.7,503.5 196.5,536 132.5,515.3 171,528.7 120.4,539.6 140.6,511 52.5,524.8 200.7,531.3 187.6,520.6 111.6,524.5 275.5,508.7 192.5,520.3 278.8,537 115.6,538.7 245.7,542.1 155.8,531.1 246.8,499.9 125.4,519.8 118.8,510.1 70.2,523 248,524.1 179.4,512.3 231.4,523.6 66.7,535.6 210.2,517 252.8,503.2 109.8,542.4 224.1,506.1 148.2,510.3 122.7,545.4 116.6,524.8 182.9,543.7 254.8,511 256.6,524.2 95.3,504.8 274.7,514.1 113.8,534 280.4,521.2 65.7,536.2 65.5,529.1 55.2,507.4 130.7,513.9 99.6,521.7 273.6,507.4 231.7,520.5 181.9,515.2 182.5,511.3 88.4,520 257.1,541.8 169.3,540.9 131.8,500.1 253,541.8 275.9,516 270.6,525.8 81.2,531 178.4,542.6 167.4,525.4 124.6,499.8 162.1,517.4 55.7,538.6 137.9,535.7 148.6,534.2 215.3,506.9 142.5,512.4 134.2,545.2 87.4,501 66.4,511 194.4,506.9 114.1,512.7 246.5,500.2 94.9,524.7 178,524.2 229.4,524 204.9,520.4 105.4,526.3 108.6,506.4 100.4,520.2 128.2,522.2 244.8,531.2 241,518.2 226.3,530.1 186.7,515.4 233.2,531.5 228.1,531.1 203.1,517.5 59.6,545.3 172.4,542.6 259.9,526.8 228.3,531 96.9,502.9 198.1,498.2 179.4,513.7 107.1,522.7 84.3,506.3 88.4,518.4 164.3,529.2 122.6,545.6 262.3,525.7 157.3,519.6 208.4,515.5 239.8,530.7 104.9,512.9 73.7,534.3 208,530.4 128.9,503.3 154.1,528.4 103.4,540.1 136.9,535.3 75.6,514.6 87,547 85.2,512 55.5,539.6 182.7,512.1 243.9,530.1 243.7,535.9 235.4,542.4 91.1,546.1 73.2,506.6 223.7,525.8 174.9,541.6 90.4,544.9 275.5,495.1 242.4,503 271.3,516.6 271.1,499 163.6,521.8 67.9,519.6 93.7,499.7 119.1,534.6 218.4,528.5 183,523.8 179.1,518.4 79.1,541.5 167.7,504.9 94,514.1 112.1,536.1 211.8,502.9 82,525.9 124.2,541.2 164.7,544.4 192.2,528.1 111,526 171.5,506.6 63.8,509.1 130.4,522.2 87.3,534.2 116.7,545.7 183,535 90.8,522.3 120.3,531.1 135.8,501.5 131.1,519.5 124,532.6 260.5,511.6 264.9,509.2 229.1,503.5 78,505.7 169.3,524.1 140.2,542.1 218.8,523.6 224.7,514.9 232.9,519.4 48.7,502.4 103.3,533 231.1,513.5 277.3,534.2 81.1,509.4 275.3,525.9 89.8,526.1 232.1,497.5 229.4,526.4 128.1,532.7 93.4,526.3 85.5,540.1 95.4,529 125.2,538 140.6,532.5 55.8,522.2 77.5,521.9 275.2,517.9 84.3,525.8 65,527.3 145.8,530 199.5,513.4 148.6,544.7 186.8,525.8 100.1,519.4 146.7,524.4 69.7,524.4 119.2,503.5 59.7,524.1 207.3,535.2 150.6,530.8 87,535.4 232.8,543.2 177.3,507.6 223.7,528.9 255.4,538.5 203.1,538.3 247.5,533.9 170.2,530.1 151.7,501.3 147.3,508.3 51.3,539.3 228.5,526.6 94.2,548.5 102.1,538.3 100.9,527.7 191.2,524.9 259.8,528.4 73.6,527.5 156.7,531.9 191.8,520.7 95,539.7 165.3,506.9 114.4,518.6 202.1,543.3 205,544.3 109.9,537.2 194.5,524 131.9,520.4 216.7,537.4 190.5,542.7 267.6,528.8 186.7,499.4 121.4,534.4 110,541.6 176.7,510 216.5,525.7 260.3,513.6 264,535.6 50.2,507.9 253,541.6 70.6,534.8 130.2,518.5 267.4,523.5 213.9,514.2 193.4,542.4 99.4,508.6 184.3,537.6 274.4,513.8 170.7,505.8 62.9,508.5 180.5,535.1 133.3,517 206.3,516.8 112.5,530.9 264.9,512.5 50.5,543.8 103.4,524.5 90.4,539.9 240.9,540.8 177.3,512.8 152.5,504.4 228,518.6 94.2,544.1 202,525.9 147.4,512.9 103.7,529.1 248.2,517.9 72.8,544.8 203.3,521.6 246.5,510.9 240.9,517.7 120.5,517.3 192.2,531.4 264.8,542.2 160.5,515.7 160,536.1 222.3,510 90.9,541.6 86.1,535.1 270.5,519.4 67.2,529.2 69.7,533 68.5,521.4 62.3,537.1 198.8,527.1 60.7,517.8 263.4,536 147.2,539 205.8,511.3 236.1,514.7 251.1,508.3 180,523.1 89.8,533.2 127.4,545.4 150,501.9 187.1,536.5 169.3,514.8 75.9,508.6 222.6,516 187.7,537.4 150.4,537.8 64.1,504.5 137.2,518.9 151.8,529.9 160.7,535.3 125.1,542.8 256.4,520 127.6,501.1 147.5,513.4 207.1,545.7 186.5,522.2 108.7,541.4 234.6,514.7 197.4,518.1 71.1,531.9 129.3,523.7 71.5,543.9 210.8,522.5 46.2,520.3 267.9,533.6 223.7,527.6 158.8,525.2 128.2,520.6 148.3,522.2 98.6,532.8 214.9,522.2 45.9,516 124.9,513.9 222.8,522.3 65.6,536.2 233.7,540.9 194.2,537.9 129.5,523.3 252.5,503.4 136.6,538.5 146.9,540.2 119.2,546.6 144.6,524 123.9,530.3 226.4,533.2 179.2,506.6 237.3,521.3 231.4,537.3 135.4,516.9 229.6,511.8 58.2,546.7 206.7,520.8 57,508.6 96.4,514.4 266,533.1 140.2,511.9 168.2,523.8 158.5,533.6 73.3,538.6 275.7,526 97.9,535.8 166.1,524.4 242.6,516.3 166.1,502 265.1,533.2 94.4,522.8 245.6,512.1 138.1,505.2 248.3,536.3 176.4,504 122.7,543.2 160.6,539.1 210.7,508.2 262.5,518.5 149,517.9 141.5,534.6 80.5,520.1 260.7,498.6 70.1,525.6 127.1,537.2 210.8,502.5 50.8,538.6 163.7,505.6 167.8,507.4 201.4,520 73.3,538.1 166.2,506.3 94.7,529.3 120.3,544.7 128.5,526.9 242.3,502.2 264.4,518 251,504.9 116.9,544.2 252.5,541.3 191.5,531.1 261.6,519 98.4,512.8 171.8,504.4 110.9,515.4 144.5,537.9 215.1,519.7 84,526.5 81.6,533.9 65.5,532 108,534.1 216.3,521.4 198.6,508.6 224.2,540.2 62.5,522.2 55.2,541.7 151.3,525.1 224.1,531.2 161.9,518.6 138,500.7 262.9,506.9 69.5,529.3 260.2,519.9 232.1,511.7 281.3,523.1 174.9,517.9 276.9,520.8 213.4,537.8 234.3,532.8 141.4,501.8 212.5,532.4 279,515.6 85.1,527.8 248.7,522.3 90.4,524.1 207.5,533.6 166.1,543.5 185.7,508.1 225.5,517.9 181,519.2 202.6,523.5 61.7,535.7 213,522.4 96.8,521.7 270.1,507.1 188.4,516.5 55.5,547.6 213.5,524.4 277.8,522.8 48.1,508.8 91.5,515.9 217.7,513.5 242.4,525.7 181.4,531 179.5,533.6 129.7,533.2 179.1,503 209.3,530.3 137.6,511.8 88,526.8 180.4,543.9 52.1,542.6 60.2,544.8 162.1,536.5 234.5,498.4 145.6,531.1 62.3,537.1 98,515.4 125.3,502.6 227.3,500.7 103.8,537.1 121.6,522.9 75.1,528.6 172.5,523.4 196.9,506.2 236.1,518.1 46.7,539.2 253.7,524.9 94.7,521.1 223.3,533.1 166.3,513.5 237.5,540.1 133.4,509.4 270.5,516.2 168.9,534 190.5,516.9 115.1,527.1 56.9,526 247.3,507.7 277.9,524.5 123,516.1 219.9,507.9 197.6,507.6 252.9,506 107.5,528.1 242.1,519.1 174.8,528 271.9,519.9 83.7,513.9 179.6,503.2 88.5,509.3 240.5,517.6 268,543.2 139.5,545.1 247.3,538.8 224.2,535.1 259.4,520.4 162.1,532.5 251.2,496.8 167.4,521.6 265.6,513.5 238.2,523.9 213.8,528.6 99.9,536 241.7,528.1 166.5,517.7 247.6,528.1 240.7,521.7 209.1,503.8 60.3,548.2 233.3,499.2 191.5,536.6 252.6,538.2 256.2,504.4 271.2,508.6 95,541.2 193.4,525.5 51,499.9 125.1,512.4 161.2,542.7 131.6,509.8 93.5,523.8 96.6,541.8 158.8,533.3 211.6,530.5 162.3,503.5 125.3,505.4 168.1,524.1 279.4,524.5 263.8,538.1 144.5,523.8 133.1,514.6 253.6,529.3 65.3,530.2 257.2,511.7 56.8,519.8 262.3,533.2 225,507.7 151.6,501.5 102.5,531.8 57.5,535.8 187.1,510.2 262.2,508 67.4,544.3 151.3,522.4 250.2,523.2 159.9,513.8 254.7,505 123.4,519.4 171.7,544.6 156,518.1 120.4,535.1 246.2,528.3 217.5,528.8 216.2,541.3 105.4,523.7 142,533.1 151.5,520.1 215.1,526.3 236.4,512.2 214.9,542.4 118.3,517.7 63.3,517 54.7,535.8 141.8,511.5 261.5,512.4 244.7,522.1 51.7,523.9 256.4,523.7 192.1,541.3 141.8,519.6 256.2,518.7 154.4,536.5 151.9,516.2 114.8,527.8 89.7,522.4 243.8,537.6 129.4,540.6 251.3,521.4 69.6,538.9 277.6,526 63.8,526.2 61.3,531 186.9,533.2 125,516.6 278.5,512 233.6,540.3 166.2,518.5 225,508.3 213.6,533.1 152.2,518.8 170.2,512.5 50.6,538.2 167.1,508.1 70.8,507.1 103.2,531.2 196.2,537.6 127.2,511.8 268,537.6 153.7,497.5 149.6,517.5 95.3,538.5 169.2,508.5 95.5,526.7 161.3,528.1 106.4,529.3 106,502.8 74.6,532.9 202,512.6 184.6,519.9 277.3,536.3 54.4,507.7 267.5,522.5 95.6,513.9 52.6,538.6 191.5,516.7 226.1,504.5 48.6,541.5 206.8,517.6 58.7,515.9 198.5,537.2 146.6,522 115.1,512.6 133.4,541.1 272.4,521.2 84.3,531.9 89.3,531.6 196.8,501.3 244.5,522.7 218.7,505 274,527.4 274,509.8 234.7,522 123.2,515.5 51.1,523.3 157.5,509.4 210.3,517.9 145.5,528.6 275.8,516.1 170.9,516.9 121.2,516.3 188.1,518.2 99.4,527.9 170.4,533.2 271.7,518.3 94.8,530.4 233.4,502.8 147.9,528.3 209.8,515.1 99.2,526 48,527.5 274.1,538 274.2,514.4 179.3,524.5 197.4,519.8 164.1,539.8 197.4,544.5 120.2,504 239.3,520 222.2,514.6 84.1,526.6 166.6,538.9 104.2,523.4 268.8,533.1 170.7,544 164.8,516.8 165.6,525.7 67,511.1 259.5,543 168.9,507.3 154.8,534.2 130.6,518.4 211.6,533.7 65.1,517.5 153.9,513.3 109.2,526.6 60.4,505.4 115.9,503.2 226.2,526.5 201.9,531.1 91.9,535.8 51.3,530 220.1,496.6 200.6,515.6 249.3,522.3 105.4,530.8 104.8,527.4 49.2,525 257.2,523.8 50.4,530.3 49.8,533.2 276.9,511.3 95.3,513 263.5,500 248.4,521.4 46.5,545.4 126.6,542.5 60.2,544.9 77.4,528.1 145.7,508.3 85.9,544.8 243.1,517.4 166.1,512.8 171,536.2 96.5,530.8 123.3,503.3 73.6,502.5 106.7,506.7 160.8,530.7 190.4,505.2 262,539.5 216.7,506 160.4,532.8 176.4,543.3 171.7,531.7 245.8,533 132.2,541.5 234.2,514.5 88.8,538 263.1,533.1 126.9,529.3 207,514.8 239.4,532 64.1,537.3 70.7,518.9 220.9,519.6 196.8,533.7 168.5,522.6 77.5,525.8 225,501.9 216,530.8 125.8,525.4 62.6,505.4 47.2,530.8 278.5,528.8 159.9,526.8 252.2,506 259.7,506.7 261.2,514.4 265.3,514.3 229.2,540.2 201.3,503.1 142.2,506.4 133,539.4 254.7,527 165.2,510.1 119.4,513 72.1,537.1 176.1,529.2 255.2,530.2 129.6,536.7 53.6,541.8 52.4,543.3 96.7,533.3 70.4,522.7 134,525.9 111.7,535.2 66.8,501 45.9,526.1 99,530.5 124.5,512.7 135.4,526 211.1,533 182.4,500.4 206.3,529.9 281,501.7 157.4,522 115,508.2 258.1,513.7 202.3,510.7 188.7,543.9 254.8,521.9 81.1,543.7 250.5,518.2 240.6,522.6 69.2,522.5 277.9,535.2 103.2,514.7 174.1,512.1 135.7,542.2 228.9,526.5 213.1,543.8 164.1,529.4 96.4,505.3 161.8,513.1 218.2,524.8 230.4,532.1 163.9,528.9 73.9,530.8 87.2,533.5 47.3,509.8 174.9,512.7 142.6,507.6 163.5,530.3 81.5,528.8 151.8,511.6 50.5,534.4 70.8,509.5 263.2,520 47.9,523.2 191.9,498.3 105.2,514.4 128.9,522.5 203.9,507.6 201.5,524.1 203.2,526.6 265.8,502.6 106.8,505.4 196.5,543.1 138.5,521.2 276.3,501.5 263.6,503.8 213.2,536.9 190.3,517.2 116.6,531.1 211.9,535.8 153.5,507.7 53.8,548.1 255.6,521 132.9,538.4 207.6,525.5 150.8,530.8 247.9,493.6 211.8,521.7 131.1,502.6 264.8,526.7 170.3,527.1 119.6,510.3 180.8,531.4 111.1,519.4 117.6,511.1 76,503.6 204.4,498.9 171.8,521.3 206.8,531.2 134.9,519.5 156.3,536.9 188.8,527.9 264.9,527.3 200.7,533.4 245.9,530.9 86.8,530 226.9,519.9 89.8,541.2 101.5,514.5 214.9,505.2 71.6,518.7 75.8,529 86.9,535.6 173.6,520 123,518.5 242.4,538.6 257.1,538.5 221.6,521 146.4,525.7 72.2,538.4 244.2,518.3 138.1,520.6 186.1,504.9 58.5,532 174.3,536.5 169.8,527.8 274.2,530.8 121.3,508.8 235,503.6 162.6,537.3 95.5,523.2 194.2,537.2 98.5,517.8 145.8,548.8 254.5,530.4 57.7,526.7 71.5,534.3 86.3,531.6 127.8,537.5 153.2,516.5 267.1,521.2 51.9,539.5 81.6,504.7 49,533.5 133.6,506.7 155.3,497.4 155.8,503.5 257.2,526.7 275,533.7 156.5,519.2 66.7,508.9 52.2,530.1 186.6,529.8 270.6,506.9 71.6,519.1 139.6,528.4 59.5,543.9 151.1,537.9 152.6,524.6 127.4,516.3 133.2,536.7 72.6,524 46.6,524.7 68.9,532.6 128.9,539.4 59.7,541.4 91.6,540.3 79.8,537.6 179,514.1 171.1,507.7 179.8,522.8 56.4,510.2 137.9,543.8 149.4,518.2 278,496.7 239.2,516.5 157.9,536.3 278.2,537.9 210.3,508.4 244.2,503.1 129.7,507.8 233.6,520 82.5,520 70.8,549.2 152.2,511.3 259.5,541.4 119.1,514.6 92.7,546.3 46.4,508.1 144.4,537.2 149.3,535.8 152.6,503.5 145,542.4 214.1,517.8 271.6,533.7 142.4,547.2 117.6,536.8 186.9,532.1 177.5,525.1 212.5,508.6 175.2,527.8 215.1,501.5 211,495.6 274.5,503.6 266.3,526 69.8,530.7 147.2,536.4 244.5,502.6 77.4,535.7 59.5,542.6 49.6,534.5 176.9,544 142.1,528.5 101.5,536.6 134.3,503.7 223.3,530.6 218.2,504.1 62.6,533.5 66.3,534.4 100.8,537.3 158.3,522.3 277,536.8 82.9,506.2 237.9,499.8 55.9,540 234.9,535.2 139.7,510.5 229,532.5 84.7,506.3 279.8,526.4 216.4,522.2 277.9,513.5 188.8,516 162,504.2 135.4,520 76.3,542.3 99.7,545.2 258.7,514.3 272.5,523.3 272.4,525.6 232.5,504.1 49.9,524.8 55.4,506.5 127.6,508.9 86.5,534.2 239.2,501.2 62.8,541.3 269.5,531.1 131.6,520.1 143.9,522.1 245.2,516.3 268.6,501.3 171.9,536.8 225.4,497 244.3,525.8 186.1,526.5 182.2,545.8 114.1,502.2 245,503 233.5,523.8 222.9,515.8 187.6,524.6 118.2,508 87.9,503.6 227.1,538.6 102.5,544.4 74.5,541.5 52.9,530.3 186.9,541.1 75.1,521.2 112.7,531.5 249.8,532.5 232.6,516.4 263.1,526.9 127.5,543.7 130.9,509.4 277.2,519 58.9,534.3 275,521.8 132.3,523 232.6,512.3 246.5,540.5 241.8,539.6 49.4,535.1 213.3,506.7 240,516.5 80.8,517.7 143.3,512.1 157.1,530.7 47.5,514.3 53.8,503 275.4,530.1 264.3,521.5 264.3,498.2 179.8,511.6 215.1,528.6 241.2,529 60.8,516.3 52.7,505.9 130.3,545.7 235.1,517.6 112.6,516.4 202.8,543.3 194.6,502.5 184.5,541.7 58.7,517.9 167.1,537.3 84.1,526.6 199.5,534.1 133.9,520.6 243.9,528.8 260.5,528.6 238.1,539.7 75.8,524.3 166.7,533.7 48.9,538.6 153.8,519.1 259.2,513 179.7,533.1 73,527.1 116.9,527.1 136.9,523 132.8,529.1 138.6,512.6 110.4,513 133.6,527.6 72.9,546.4 86.6,537.8 256.3,530.6 108,533.4 136.3,531.3 58.6,530.5 259.1,516.2 160,509.4 88.3,537.1 129.1,536 92.2,537.3 87.8,538.3 240.8,529.3 75,535.5 206.1,517.7 169.5,516.3 103.9,523.9 206.7,530.1 141.7,513.3 71.7,539 212.6,514.1 232.1,516.7 259.1,501.3 113.9,508.5 66.8,516.9 183.9,527.8 240.5,528.3 104.2,513.2 112.2,510.8 234.6,520 86.2,509.9 178.1,526.9 136.6,526.7 222.4,534.9 110.4,524.1 58.8,535.2 254.4,536.7 253.5,502.9 181.5,510.9 108.3,507.7 65.7,508.2 159.7,542.8 279.9,515.1 249,535.8 108.7,507.8 254.8,525 192.2,536.2 146.5,503.1 94.6,521.3 167,528.4 250.3,535.4 138,532.2 106.2,503.9 120.4,529.9 191.4,500 173.7,525 261.1,497.7 267.3,526.8 276.3,499.1 61.2,520.9 251.8,533.3 51,525.8 101.1,517.8 78.6,549.4 261.2,536.8 108.9,542.1 46.1,529.7 213.4,539.3 141,529 144.7,528.5 86.3,513.4 244.5,538.9 100,528.6 124.2,524.9 127,529 173.9,531.6 45.8,535.6 234.3,533.5 152.4,513 52.5,543.4 51.6,543.3 74.2,505.1 277.1,530.9 138.3,513.7 158.3,523.4 147.2,539 83.2,526.4 53.2,537.8 207.9,497.2 184.9,519.9 242.6,526.7 221.6,513.5 86.1,512.7 227.6,511 86.8,524.2 178,545.1 86.6,504.2 109.7,543.8 265.9,517.1 202.7,508.2 247.5,513.9 96.9,529.5 225.6,497.6 268.5,513 114.4,528.7 70.2,516.6 90.6,543.3 159.4,534.8 213.4,521.1 92.2,528.3 128.3,507.1 180.2,522.7 172.1,533.4 135.2,520.5 279,526.1 61,537 176.4,520.1 136.8,518.6 245.5,532.1 78,518.4 135.5,528.3 215.2,527.2 196.1,516.1 122.4,500.4 275.1,531.3 108.2,541.6 279.3,524.9 200.5,503.1 167.6,522.2 54.1,529.6 269.1,517.9 147.5,506.8 50.8,521.2 151.8,520.6 234.9,530.2 127.8,505.9 83.3,536.1 104.1,521.5 173.8,520.9 73.4,547.2 101.3,533.1 193,543.9 268.2,522.7 62.2,515.4 257,522.6 248.9,528.7 140.9,546.9 168.2,522.3 177,525.5 258.2,508.7 96.3,528 280.6,541.7 118.5,536.5 235.6,523.9 49.9,536 135.8,530.6 249.4,527.5 177.2,516.2 221.2,513.2 116.3,511.6 70.3,526.1 225.5,514.6 173.9,535.9 252.6,531.3 239.4,528.7 125,529.7 77.9,536.2 196.3,540.1 54.1,517.7 114.4,520.8 83.5,522.3 233.9,504.9 153.1,541.3 119,529.3 263.5,509.4 208.1,544 180.5,503.4 251.7,525.3 187.4,500.7 78.2,509.8 246.5,543.6 170.4,507.3 76.3,535.5 157.4,522.2 59.2,533.9 48.8,541.7 140.5,517.1 138.9,539.4 196.2,527 249.9,519.1 224.1,499.8 168.4,528.6 71.8,528 54.1,525.8 158,538.9 236.8,530.6 107.2,543.4 258.5,514.9 65.3,537.1 199.5,539.4 146.6,520.4 49.3,507.8 83.9,528.4 66.1,520.8 134,518.7 106,538.6 219.8,518.2 73.7,547.7 139.4,541 206.6,524.7 49.2,547.7 223.3,523.2 232.2,519.5 54.1,546.4 265.8,541.5 94.4,547.5 148.7,544.9 64.2,537 169.6,535.4 106.4,518.4 190.8,537.4 117.4,534 141.3,525.4 147.9,544.2 153.3,520.3 68.4,533.7 157.2,506.2 98.3,535.9 187.6,521.1 90.6,545 65.9,528.4 239.1,518.9 208.9,500.8 238.1,513.8 99,507.2 247.2,531.9 274.5,535.8 92.4,505.8 118.9,519 207.9,522.1 190,507.6 246.7,535.9 91.1,502.9 96.7,544.7 231.3,529.9 101.1,519.6 260.8,528 189,527.3 247.1,538.1 93.6,537.5 201.9,519.5 206.4,503.6 103.4,509.2 131.9,514.4 108.3,546 189,529.3 268.6,540 131.5,533.8 74.6,524.2 207.1,513.6 264.7,501.2 89.7,530.8 232.4,515.8 88.4,511.2 171.8,524 163.6,522 236.8,525 55.5,542.6 71,544.3 112.9,527.2 203,504.6 64.1,506.2 105,523.9 183.4,535.8 255,527.7 230,528.3 252.8,537 236.9,522.4 116.6,507.9 184.9,512.4 85,513 184.7,499.7 142.4,529.3 208,519.9 199.1,511 255.5,534.8 53.1,527.6 133.7,511.2 159.5,528.3 91.6,536.6 244.5,542.9 203.6,519.1 68,530.2 251.5,513.7 205.6,521.5 264.5,544.8 243.9,495.3 221.2,504.3 74.5,524.1 156.9,496.6 214.4,507.5 85,527.4 259.3,526.8 83.9,519.4 266.7,537.3 226.1,527.7 227.7,519.6 214.7,512.6 60.1,534.8 195.1,515 79.7,540.4 195.8,529.8 120.9,500.8 108.6,528.6 138.1,528 121,530.5 169.5,542.4 268.5,497.8 62.4,512.6 268.8,521.1 85.2,521.5 144.2,516.4 231.7,507 266.3,524.3 266,530 185,516.5 111.1,517.1 216.8,533.2 199.9,512.5 96.3,534.3 243,500.8 261.3,503.8 246.5,519.4 234.3,501.5 134.9,543.7 228.1,535.4 258.2,527.4 162.2,511.3 154.1,524.6 229.3,540.2 125.3,531.6 149.6,523.8 70.1,536.2 46.3,514 224.3,507.7 122.8,517.9 94.8,546.4 141.3,531.2 275.2,513.7 215.9,536 266.5,525 261.1,511.9 168.9,515.9 107.8,515.7 275.2,507.1 56.6,521.2 236.6,518.4 100.3,505.9 139.3,532.8 98.8,511.7 117.5,544.4 223.1,531.2 216.6,525.3 280.8,511.1 133.7,533.9 72.2,529.3 95,541.9 186.3,526.7 182.7,525.2 85.2,531.4 171.2,512 70.8,503.8 133.4,523.8 161.6,531.8 174,542.3 227.7,517.6 226.8,509.9 251.3,539.5 109,526.2 253.6,528.7 140.2,539.2 241.4,543.7 133.1,535.6 209,498.1 166.1,514.9 142.7,519.3 219.5,502.8 256.2,526.4 220.5,537.6 263.1,509.8 266.6,536 268.4,534.9 253.8,511.9 122.3,525.8 244.1,523.4 177.4,508.6 156.5,528.9 82.1,511.7 71.3,534.8 69.2,515.2 198.4,539.3 180.7,534.1 104.4,530.6 176.5,538.3 218.1,526.1 171.3,515.9 141.1,524.2 279.7,524.1 232.5,525.6 47.9,518.4 50.5,531.1 271.4,514.5 190.4,507 98.3,544.6 216.1,506 156.5,543.2 81.8,521.7 223.5,500.3 184.9,523.2 137.4,505.1 279.2,513.9 262,521.8 75.2,527.2 236.8,522.9 54.2,521.3 76.6,532.8 213.8,523 121,540.8 202.8,524.9 221.6,529.3 112.6,547.4 157.1,515 192.2,528.3 58.9,536.8 196.6,536.1 264.3,523.9 187.7,526 78.1,535.2 141.7,509.6 127.1,524.4 63.5,531.2 136.8,501.1 46.9,514.2 159.8,505.7 271.1,495 225,505.5 264,543.9 56.8,509.8 141.6,514 186,527 139.7,499.8 250.7,521.2 232.5,529.9 104.8,503.6 102,505.7 212,501.4 70.8,532.2 180.9,532.2 138.6,543.5 202.7,519.4 195.3,517.1 95.9,527.9 275.1,505.9 229.7,516.8 139.7,530.3 65.4,528.6 139.7,531 186.8,513.8 271.9,508.5 115.5,524.7 144,515.1 168,532 137,525.6 135,524.4 242.3,534 183.6,540.4 149.8,532.5 64.2,534.3 216.3,524.8 227.2,521.8 80.5,520.1 57.6,505.5 125.3,503.3 220.8,537.9 260,518.3 151.1,512.5 251.6,510.9 47.1,533.7 275.6,527.1 255.3,529.4 281,498 221.6,522.8 65.4,529.1 96.3,530.9 77,526.2 60.5,529.6 267.8,493.4 170.5,535.8 268.7,514.4 51.3,547.8 245,529.6 163.7,527.3 129.6,524.4 107.3,527.7 192.2,503 188.4,501.5 186.1,519 105,527.6 189.7,504.7 92.8,517.4 265.8,537.8 195.8,543.1 256.5,518.4 109.9,547.2 74.4,542.2 133.4,508.1 276.4,534.9 104.6,545.3 138.9,523.8 192,527.2 55.7,540.3 97.1,519.2 158.3,518.8 93.4,517 183.4,513.5 77.7,546.4 131.3,543.9 54.7,529.7 178.4,517.3 100.9,527.8 59.7,526.3 256.2,526.2 245.4,511.7 272.4,518.1 98.3,521.1 211.7,517.8 217.7,513.8 251,513.2 190.8,531.7 233.6,530.2 125.9,541.7 131.6,519.9 205,528 71.4,505.4 251.8,532.6 224.5,527.4 48,517 259.2,525.1 84,506.8 130.7,522.8 70.3,527.8 142.5,516.7 94.9,530.5 208.3,537 279.2,526.1 129.3,520.4 59.1,534 217.7,522.5 202.6,524.2 179.1,533.3 278,511 67.9,528.4 128.9,532.8 82.8,544.6 264.5,513.5 103,535.2 123.4,535.5 60.5,547.4 151.8,516.8 236.3,509.1 137.7,526.8 215.9,513.5 66.6,512.4 196.2,535.4 65.9,542.3 68.3,509.4 49.7,522 164.4,517.4 234.4,518.2 76.5,536.3 251.9,530.4 68.4,542.4 151.8,545.7 151.8,546.9 151.8,548 151.8,549.2 151.8,550.4 151.8,551.5 151.8,552.7 151.8,553.8 151.8,555 151.8,556.2 151.8,557.3 151.8,558.5 151.8,559.7 151.8,560.8 151.8,562 151.8,563.2 151.8,564.3 151.8,565.5 151.8,566.6 151.8,567.8 151.8,569 151.8,570.1 151.8,571.3 151.8,572.5 151.8,490 151.8,487.8 151.8,575.4 151.8,577.5 151.8,582.2 174.5,545.7 174.5,546.6 174.5,547.6 174.5,548.5 174.5,549.5 174.5,550.4 174.5,551.3 174.5,552.3 174.5,553.2 174.5,554.2 174.5,555.1 174.5,556 174.5,557 174.5,557.9 174.5,558.9 174.5,559.8 174.5,560.7 174.5,561.7 174.5,562.6 174.5,563.6 174.5,564.5 174.5,565.4 174.5,566.4 174.5,567.3 174.5,568.3 174.5,569.2 174.5,570.1 174.5,571.1 174.5,572 174.5,573 174.5,573.9 174.5,574.9 174.5,575.8 174.5,576.7 174.5,577.7 174.5,578.6 174.5,579.6 174.5,580.5 174.5,581.4 174.5,582.4 174.5,583.3 174.5,584.3 174.5,585.2 174.5,586.1 174.5,587.1 174.5,588 174.5,589 174.5,589.9 174.5,590.8 174.5,591.8 174.5,592.7 174.5,587.7 174.5,588.4 174.5,589.1 174.5,589.8 174.5,590.5 174.5,591.3 174.5,592 174.5,592.7 174.5,593.4 174.5,602.1 174.5,607.9 197.2,545.7 197.2,547.1 197.2,548.4 197.2,549.8 197.2,551.1 197.2,552.5 197.2,553.8 197.2,555.2 197.2,556.5 197.2,557.9 197.2,559.2 197.2,560.6 197.2,561.9 197.2,563.3 197.2,564.6 197.2,566 197.2,573.2 197.2,576.1 197.2,579 197.2,487.8 197.2,484.2 197.2,481.3 197.2,474.8 197.2,471.9 197.2,468.3 197.2,465.4 197.2,462.5 197.2,458.9 197.2,456.7 197.2,440.1 242.5,545.7 242.5,547.1 242.5,548.6 242.5,550 242.5,551.5 242.5,552.9 242.5,554.4 242.5,555.8 242.5,557.3 242.5,558.7 242.5,560.2 242.5,561.6 242.5,563.1 242.5,573.2 242.5,574.2 242.5,575.1 242.5,576.1 242.5,577 242.5,578 242.5,579 242.5,566 242.5,568.8 242.5,587.2 242.5,593.4 242.5,489.3 242.5,486.4 242.5,470.5 242.5,460.5" fill="none" stroke="none" marker-start="url(#mk)" marker-mid="url(#mk)" marker-end="url(#mk)"/>
<g font-family="'Liberation Sans', Arial, Helvetica, sans-serif" font-size="10.5" fill="#262626" stroke="#262626" stroke-width="0.2">
<g text-anchor="middle">
<text x="38.5" y="647.5">1</text>
<text x="83.8" y="647.5">1.02</text>
<text x="129.2" y="647.5">1.04</text>
<text x="174.5" y="647.5">1.06</text>
<text x="219.8" y="647.5">1.08</text>
<text x="265.2" y="647.5">1.1</text>
<text x="310.5" y="647.5">1.12</text>
</g><g text-anchor="end">
<text x="34.7" y="636.7">0.9</text>
<text x="34.7" y="600.5">0.95</text>
<text x="34.7" y="564.3">1</text>
<text x="34.7" y="528.2">1.05</text>
<text x="34.7" y="492">1.1</text>
<text x="34.7" y="455.8">1.15</text>
<text x="34.7" y="419.7">1.2</text>
</g></g>
<g font-family="'Liberation Sans', Arial, Helvetica, sans-serif" font-size="11.6" fill="#262626" text-anchor="middle">
<text x="174.4" y="663.2">Actual Thermal Conductivity, k(W/mK)</text>
<text transform="translate(9.1 524) rotate(-90)">Predicted Thermal Conductivity, k(W/mK)</text>
</g>
<path d="M476.5 415.5V627.5M543.5 415.5V627.5M611.5 415.5V627.5M408.5 585.5H678.5M408.5 542.5H678.5M408.5 500.5H678.5M408.5 457.5H678.5" stroke="#e8e8e8" stroke-width="1" fill="none" shape-rendering="crispEdges"/>
<path d="M408.50 415.50H678.50V627.40H408.50Z" stroke="#6e6e6e" stroke-width="1" fill="none"/>
<path d="M476.5 627.40v-2.7M476.5 415.50v2.7M543.5 627.40v-2.7M543.5 415.50v2.7M611.5 627.40v-2.7M611.5 415.50v2.7M408.50 585.5h2.7M678.50 585.5h-2.7M408.50 542.5h2.7M678.50 542.5h-2.7M408.50 500.5h2.7M678.50 500.5h-2.7M408.50 457.5h2.7M678.50 457.5h-2.7" stroke="#6e6e6e" stroke-width="1" fill="none"/>
<polyline points="408.5,481.2 408.5,482.3 408.5,483.4 408.5,486.6 408.5,487.5 408.5,488 408.5,488.6 408.5,489.4 408.5,492.2 408.5,493.3 408.5,493.9 408.5,494.4 408.5,494.9 408.5,498.6 408.5,499.2 408.5,500.2 408.5,501.4 408.5,502.3 408.5,503.4 408.5,504.6 408.5,505.2 408.5,505.8 408.5,506.2 408.5,507.1 408.5,510.5 408.5,511.2 408.5,511.9 408.5,512.7 408.5,513.2 408.5,513.6 408.5,514.7 408.5,518.2 408.5,519.1 408.5,521.7 408.5,522.8 408.5,523.8 408.5,524.9 408.5,525.6 408.5,526.6 408.5,527.6 408.5,528.6 408.5,529.8 408.5,529.9 415.2,481.2 415.2,482.3 415.2,483 415.2,483.5 415.2,484 415.2,485.2 415.2,485.7 415.2,486.5 415.2,487.1 415.2,488.1 415.2,488.9 415.2,490 415.2,490.8 415.2,491.3 415.2,492.4 415.2,493.4 415.2,494.2 415.2,495.2 415.2,496 415.2,497 415.2,497.8 415.2,498.7 415.2,499.4 415.2,499.9 415.2,501.1 415.2,502 415.2,502.6 415.2,503.3 415.2,504.3 415.2,505.3 415.2,506.3 415.2,507.3 415.2,508.2 415.2,509 415.2,509.9 415.2,511.1 415.2,511.9 415.2,515.1 415.2,516.1 415.2,517.1 415.2,518.1 415.2,519 415.2,520.1 415.2,521.1 415.2,522 415.2,523.2 415.2,524 415.2,525 415.2,525.8 415.2,526.8 415.2,527.3 415.2,528.2 415.2,528.9 415.2,529.9 415.2,529.9 422,483.7 422,484.6 422,485.6 422,486 422,486.6 422,487.1 422,487.7 422,488.1 422,488.9 422,489.7 422,490.8 422,493.9 422,494.6 422,495.6 422,496.1 422,496.6 422,497.3 422,498.4 422,499.1 422,500 422,500.6 422,501.4 422,502.5 422,503.2 422,503.6 422,504.5 422,505 422,506.1 422,506.8 422,507.5 422,508.2 422,509.3 422,509.9 422,510.7 422,511.4 422,512.2 422,512.9 422,513.8 422,514.5 422,515.5 422,518.7 422,519.8 422,520.4 422,521 422,521.6 422,522.4 422,523.3 422,523.8 422,524.4 422,525.1 422,525.9 422,526.6 422,527.5 422,528.1 422,529.2 422,530 422,531 422,533.5 428.8,481.6 428.8,482.5 428.8,483.6 428.8,484.3 428.8,484.9 428.8,485.9 428.8,487 428.8,487.7 428.8,488.7 428.8,489.3 428.8,490.1 428.8,490.8 428.8,491.6 428.8,492.1 428.8,493.1 428.8,494 428.8,497.5 428.8,498.7 428.8,499.1 428.8,499.7 428.8,500.8 428.8,501.4 428.8,502.5 428.8,503.3 428.8,503.9 428.8,504.3 428.8,505 428.8,505.5 428.8,506.5 428.8,507 428.8,507.7 428.8,508.5 428.8,509.2 428.8,510.1 428.8,511 428.8,512.1 428.8,513 428.8,513.8 428.8,514.8 428.8,515.3 428.8,516 428.8,516.6 428.8,517.5 428.8,518.4 428.8,518.9 428.8,519.5 428.8,520.3 428.8,521.3 428.8,524.8 428.8,525.3 428.8,526.2 428.8,526.7 428.8,527.7 428.8,527.8 435.5,481.2 435.5,481.9 435.5,482.5 435.5,483.1 435.5,484 435.5,484.7 435.5,485.5 435.5,486.4 435.5,487.1 435.5,487.5 435.5,488 435.5,488.8 435.5,489.2 435.5,490.3 435.5,491 435.5,491.5 435.5,492.1 435.5,492.8 435.5,493.3 435.5,493.9 435.5,494.6 435.5,495.4 435.5,496.5 435.5,497.6 435.5,498.5 435.5,499.6 435.5,500.6 435.5,501.5 435.5,502 435.5,502.5 435.5,502.9 435.5,504.1 435.5,504.7 435.5,505.4 435.5,506.3 435.5,506.9 435.5,508.1 435.5,508.8 435.5,509.2 435.5,510.2 435.5,510.7 435.5,511.8 435.5,512.5 435.5,513 435.5,513.8 435.5,514.3 435.5,514.7 435.5,515.2 435.5,515.9 435.5,516.4 435.5,517.5 435.5,518.3 435.5,519.1 435.5,519.8 435.5,520.6 435.5,521.5 435.5,522.1 435.5,525.3 435.5,526.2 435.5,527 435.5,528.1 435.5,528.9 435.5,531.4 442.2,482.9 442.2,483.4 442.2,484.4 442.2,484.9 442.2,485.5 442.2,486.3 442.2,486.9 442.2,487.8 442.2,488.4 442.2,489.1 442.2,489.8 442.2,490.8 442.2,491.9 442.2,492.9 442.2,493.6 442.2,494.5 442.2,495.5 442.2,496.1 442.2,496.8 442.2,497.3 442.2,497.9 442.2,498.6 442.2,499.6 442.2,500 442.2,500.5 442.2,501.6 442.2,502.5 442.2,503.2 442.2,503.9 442.2,507.2 442.2,508.1 442.2,508.9 442.2,509.9 442.2,511 442.2,511.5 442.2,512.6 442.2,513.4 442.2,514.4 442.2,515.2 442.2,516 442.2,517.1 442.2,517.5 442.2,518 442.2,518.8 442.2,519.5 442.2,520.1 442.2,521 442.2,521.9 442.2,522.6 442.2,523.8 442.2,524.8 442.2,525.5 442.2,526.6 442.2,527 442.2,527.5 442.2,527.8 442.2,530.3 449,482.9 449,483.7 449,484.3 449,484.8 449,485.7 449,486.1 449,487 449,487.8 449,488.7 449,489.7 449,490.8 449,491.3 449,492 449,492.5 449,493.1 449,493.5 449,494.4 449,495.5 449,496.6 449,500.4 449,500.8 449,501.9 449,502.6 449,503.7 449,504.6 449,505.1 449,505.8 449,506.5 449,507.4 449,508.4 449,509 449,509.6 449,510.7 449,511.6 449,512.2 449,512.9 449,513.9 449,515 449,515.7 449,516.7 449,517.5 449,518.4 449,519 449,519.8 449,520.6 449,521.7 449,522.4 449,523 449,523.9 449,524.5 449,525.5 449,526 449,526.6 449,527 449,527.8 449,528.9 449,529.8 449,529.9 455.8,483.7 455.8,484.4 455.8,485.4 455.8,486.1 455.8,487.1 455.8,488.2 455.8,489.1 455.8,490.1 455.8,491.2 455.8,491.8 455.8,492.9 455.8,493.9 455.8,495 455.8,495.5 455.8,496.6 455.8,497 455.8,497.7 455.8,498.5 455.8,499.4 455.8,503 455.8,504 455.8,504.7 455.8,505.8 455.8,506.8 455.8,507.3 455.8,508.4 455.8,509.1 455.8,510.3 455.8,511.3 455.8,512.4 455.8,513.1 455.8,514.2 455.8,514.8 455.8,515.3 455.8,516.3 455.8,517.4 455.8,520.6 455.8,521.7 455.8,522.8 455.8,523.9 455.8,527.1 455.8,527.9 455.8,528.7 455.8,531 462.5,481.2 462.5,482.1 462.5,483 462.5,483.7 462.5,484.7 462.5,485.5 462.5,485.9 462.5,486.5 462.5,487.1 462.5,488.1 462.5,488.8 462.5,489.4 462.5,490.1 462.5,493.4 462.5,494.4 462.5,495.4 462.5,496.1 462.5,497 462.5,497.8 462.5,498.6 462.5,499 462.5,499.9 462.5,503.5 462.5,504 462.5,504.7 462.5,505.3 462.5,506.4 462.5,507 462.5,507.8 462.5,508.9 462.5,509.6 462.5,510.8 462.5,511.2 462.5,514.2 462.5,515.1 462.5,515.6 462.5,516.2 462.5,516.8 462.5,517.8 462.5,518.7 462.5,519.7 462.5,520.5 462.5,521 462.5,521.8 462.5,522.7 462.5,523.4 462.5,524.5 462.5,525.4 462.5,525.9 462.5,526.7 462.5,527.5 462.5,528.2 462.5,528.9 469.2,483.7 469.2,484.6 469.2,485.6 469.2,486.6 469.2,487.3 469.2,488.1 469.2,488.6 469.2,489 469.2,489.6 469.2,490.5 469.2,491.6 469.2,492.7 469.2,493.5 469.2,494.2 469.2,494.9 469.2,495.8 469.2,496.7 469.2,499.8 469.2,500.6 469.2,501.5 469.2,502.4 469.2,503.4 469.2,503.8 469.2,504.5 469.2,505.3 469.2,506.4 469.2,507.1 469.2,507.7 469.2,508.3 469.2,509 469.2,509.8 469.2,510.7 469.2,511.4 469.2,512.1 469.2,513.3 469.2,514 469.2,514.8 469.2,515.9 469.2,516.7 469.2,517.3 469.2,520.4 469.2,521.2 469.2,521.8 469.2,522.4 469.2,523 469.2,523.9 469.2,524.6 469.2,525.4 469.2,526.4 469.2,527.4 469.2,527.9 469.2,528.9 469.2,531.4 476,482.2 476,483.1 476,483.7 476,484.2 476,485.3 476,486 476,487.1 476,487.6 476,488.1 476,489 476,489.8 476,490.2 476,491.3 476,492.3 476,492.9 476,493.4 476,493.9 476,494.8 476,495.7 476,496.4 476,497.1 476,498.1 476,499.2 476,499.7 476,500.3 476,501.4 476,501.8 476,502.9 476,503.6 476,504.6 476,505.2 476,506.1 476,506.8 476,507.3 476,508.1 476,509 476,509.6 476,510.5 476,511.2 476,512.1 476,512.9 476,513.9 476,514.9 476,515.7 476,516.2 476,516.9 476,518 476,518.9 476,519.4 476,520.2 476,520.9 476,521.5 476,522.6 476,523.4 476,524.6 476,525.2 476,526.1 476,527.2 476,527.8 476,530.3 482.8,480.6 482.8,483.8 482.8,484.7 482.8,485.4 482.8,486 482.8,489.8 482.8,490.3 482.8,491.1 482.8,491.9 482.8,492.6 482.8,493.5 482.8,494.1 482.8,494.5 482.8,495.2 482.8,495.8 482.8,496.7 482.8,497.7 482.8,498.7 482.8,499.5 482.8,502.6 482.8,503.1 482.8,503.7 482.8,504.8 482.8,505.4 482.8,506.4 482.8,507.3 482.8,508.2 482.8,509.3 482.8,509.8 482.8,510.6 482.8,511.7 482.8,512.3 482.8,513.4 482.8,514.1 482.8,514.6 482.8,515.6 482.8,516.6 482.8,517.3 482.8,517.9 482.8,518.4 482.8,519 482.8,519.6 482.8,520.6 482.8,521.1 482.8,521.9 482.8,522.9 482.8,523.7 482.8,524.7 482.8,525.3 482.8,526.2 482.8,526.7 482.8,527.8 489.5,482.9 489.5,483.6 489.5,484.5 489.5,485.3 489.5,486.5 489.5,487.4 489.5,488.5 489.5,489.4 489.5,490.2 489.5,491.4 489.5,492.1 489.5,492.7 489.5,493.8 489.5,494.9 489.5,495.6 489.5,496.8 489.5,499.9 489.5,500.7 489.5,501.5 489.5,502.4 489.5,502.9 489.5,503.5 489.5,504.4 489.5,505.3 489.5,506.4 489.5,507.4 489.5,508.4 489.5,509.2 489.5,509.7 489.5,510.5 489.5,511.3 489.5,512.1 489.5,513.2 489.5,513.7 489.5,514.4 489.5,515.3 489.5,516.4 489.5,517.1 489.5,517.8 489.5,518.6 489.5,519.7 489.5,520.8 489.5,521.9 489.5,522.7 489.5,523.5 489.5,524 489.5,525.1 489.5,525.6 489.5,526.7 489.5,527.2 489.5,527.7 489.5,528.4 489.5,528.9 489.5,529.9 496.2,482.2 496.2,483.2 496.2,484.3 496.2,484.9 496.2,485.5 496.2,486.2 496.2,487 496.2,487.8 496.2,488.6 496.2,489.1 496.2,490.2 496.2,490.7 496.2,491.3 496.2,492 496.2,492.5 496.2,493.3 496.2,493.8 496.2,494.6 496.2,495.2 496.2,495.6 496.2,496.3 496.2,496.8 496.2,497.6 496.2,498.3 496.2,498.9 496.2,499.8 496.2,500.8 496.2,503.4 496.2,503.9 496.2,504.6 496.2,505.1 496.2,505.5 496.2,506.1 496.2,507.2 496.2,507.9 496.2,508.3 496.2,509.3 496.2,510.3 496.2,511.3 496.2,512.3 496.2,513.2 496.2,513.9 496.2,514.6 496.2,515.3 496.2,515.9 496.2,516.9 496.2,517.7 496.2,518.2 496.2,519.1 496.2,519.7 496.2,520.2 496.2,521.2 496.2,523.9 496.2,525 496.2,525.6 496.2,526 496.2,526.4 496.2,527.3 496.2,527.9 496.2,528.9 496.2,529.7 496.2,530.5 496.2,531.6 503,481.2 503,481.9 503,482.5 503,483 503,483.6 503,484.4 503,485.3 503,486.1 503,486.7 503,487.5 503,488.4 503,489.3 503,490.5 503,490.9 503,493.6 503,494.7 503,495.7 503,496.6 503,497.1 503,498 503,498.9 503,500 503,500.8 503,501.8 503,502.8 503,503.7 503,504.2 503,505.1 503,506.1 503,507.1 503,507.9 503,508.6 503,509.7 503,510.2 503,510.9 503,511.5 503,512.1 503,512.7 503,513.7 503,514.2 503,515.3 503,516.4 503,517.4 503,518 503,518.8 503,519.8 503,520.8 503,521.6 503,522.2 503,523.2 503,523.7 503,524.5 503,525.4 503,528.8 503,529.9 503,532.5 509.8,480.6 509.8,481 509.8,482.1 509.8,482.6 509.8,483.1 509.8,483.8 509.8,484.6 509.8,485.3 509.8,485.8 509.8,486.9 509.8,487.6 509.8,488.4 509.8,492.2 509.8,493 509.8,494.2 509.8,495.1 509.8,495.6 509.8,496.7 509.8,497.4 509.8,498.2 509.8,499.2 509.8,499.8 509.8,500.9 509.8,502.1 509.8,502.9 509.8,503.7 509.8,504.2 509.8,505.3 509.8,505.9 509.8,507 509.8,507.7 509.8,508.4 509.8,509.1 509.8,510.2 509.8,510.9 509.8,511.4 509.8,512.2 509.8,513.2 509.8,513.9 509.8,514.9 509.8,515.7 509.8,516.1 509.8,517.1 509.8,517.6 509.8,518.1 509.8,518.6 509.8,519.5 509.8,520.2 509.8,521.1 509.8,521.9 509.8,522.9 509.8,526.2 509.8,526.7 509.8,529.3 516.5,481.6 516.5,482.7 516.5,483.3 516.5,483.9 516.5,484.8 516.5,485.6 516.5,486.4 516.5,487.1 516.5,487.7 516.5,488.5 516.5,489 516.5,490 516.5,490.7 516.5,491.8 516.5,492.7 516.5,493.8 516.5,494.3 516.5,494.9 516.5,495.3 516.5,496.3 516.5,497.1 516.5,497.7 516.5,498.6 516.5,499.3 516.5,500.3 516.5,501.3 516.5,502 516.5,502.9 516.5,503.9 516.5,504.5 516.5,505.6 516.5,506 516.5,507.1 516.5,507.9 516.5,508.8 516.5,510 516.5,510.7 516.5,511.4 516.5,512 516.5,512.7 516.5,513.4 516.5,513.9 516.5,515 516.5,515.7 516.5,516.5 516.5,517 516.5,517.7 516.5,518.6 516.5,519.2 516.5,520.4 516.5,521.3 516.5,521.7 516.5,522.6 516.5,523.6 516.5,524.5 516.5,525.5 516.5,526.5 516.5,527.3 516.5,528.3 516.5,528.8 516.5,529.7 516.5,529.9 523.2,480.6 523.2,481.4 523.2,482 523.2,482.6 523.2,483.6 523.2,484.2 523.2,485.3 523.2,486.1 523.2,487 523.2,487.5 523.2,488.4 523.2,489.5 523.2,490.6 523.2,491.3 523.2,492.1 523.2,493.1 523.2,493.6 523.2,494.4 523.2,495.3 523.2,496.1 523.2,496.6 523.2,497.3 523.2,498.4 523.2,499.3 523.2,499.9 523.2,500.4 523.2,501.4 523.2,501.8 523.2,502.8 523.2,504 523.2,504.9 523.2,505.8 523.2,506.4 523.2,507.3 523.2,508.1 523.2,509 523.2,509.8 523.2,510.7 523.2,511.2 523.2,511.8 523.2,512.8 523.2,513.8 523.2,514.5 523.2,515.4 523.2,516.5 523.2,519.7 523.2,520.8 523.2,521.8 523.2,522.9 523.2,523.8 523.2,525 523.2,525.7 523.2,526.6 523.2,527.7 523.2,528.3 523.2,529 523.2,529.7 523.2,529.9 523.2,532.5 530,482.9 530,483.8 530,484.8 530,485.6 530,486.5 530,487.4 530,488 530,488.4 530,491.4 530,492.2 530,493.1 530,493.7 530,494.5 530,495.4 530,496.2 530,496.7 530,497.8 530,498.2 530,499.1 530,500 530,500.5 530,501.5 530,502.1 530,503.2 530,503.8 530,505 530,505.5 530,506.2 530,507.2 530,508 530,508.6 530,509.4 530,509.9 530,510.5 530,511 530,512.2 530,513.2 530,514.2 530,514.9 530,515.5 530,516.1 530,516.9 530,517.5 530,518 530,518.5 530,519.1 530,519.7 530,520.8 530,521.4 530,522.2 530,523 530,523.6 530,524.3 530,525.2 530,525.7 530,526.4 530,527.3 530,530.4 530,531.5 530,531.6 536.8,481.2 536.8,482 536.8,483.1 536.8,483.9 536.8,484.9 536.8,486 536.8,487.1 536.8,487.6 536.8,488.3 536.8,489.1 536.8,489.6 536.8,490.1 536.8,491.1 536.8,491.7 536.8,492.2 536.8,493.1 536.8,494 536.8,494.7 536.8,495.4 536.8,496.5 536.8,497.5 536.8,498 536.8,498.8 536.8,499.4 536.8,500.1 536.8,500.9 536.8,501.7 536.8,502.4 536.8,503 536.8,503.4 536.8,504.5 536.8,505.4 536.8,506.2 536.8,506.8 536.8,507.5 536.8,508.3 536.8,509.2 536.8,509.8 536.8,510.6 536.8,511.4 536.8,512.3 536.8,513 536.8,513.8 536.8,514.4 536.8,515.6 536.8,516.5 536.8,517.3 536.8,517.9 536.8,519 536.8,519.5 536.8,520.2 536.8,521.2 536.8,521.8 536.8,522.5 536.8,523.4 536.8,524.3 536.8,525.1 536.8,525.6 536.8,526.8 536.8,527.7 536.8,528.6 536.8,529.6 536.8,530.4 536.8,531.5 536.8,531.6 543.5,482.9 543.5,483.4 543.5,484.1 543.5,484.7 543.5,485.7 543.5,486.5 543.5,487.2 543.5,487.9 543.5,489 543.5,489.5 543.5,490.5 543.5,491.6 543.5,492.1 543.5,492.8 543.5,493.6 543.5,494.5 543.5,495.1 543.5,495.9 543.5,496.9 543.5,497.5 543.5,498.3 543.5,499.4 543.5,500.2 543.5,500.9 543.5,502 543.5,502.6 543.5,503.5 543.5,504.4 543.5,505.4 543.5,506.5 543.5,507 543.5,507.5 543.5,508.7 543.5,509.3 543.5,510.4 543.5,511 543.5,511.5 543.5,512.3 543.5,512.8 543.5,513.4 543.5,514.6 543.5,515.2 543.5,515.9 543.5,516.6 543.5,517.6 543.5,518.6 543.5,519.1 543.5,520.2 543.5,520.9 543.5,521.6 543.5,522.2 543.5,522.5 543.5,527.8 550.2,482.2 550.2,483.1 550.2,483.8 550.2,484.9 550.2,485.4 550.2,486.4 550.2,487.4 550.2,487.9 550.2,488.5 550.2,489.5 550.2,490.1 550.2,491.1 550.2,491.8 550.2,492.4 550.2,493.4 550.2,494 550.2,494.8 550.2,495.9 550.2,497 550.2,497.7 550.2,498.3 550.2,499.3 550.2,500.3 550.2,501.3 550.2,502.3 550.2,502.9 550.2,504 550.2,504.4 550.2,505.6 550.2,506.4 550.2,507.3 550.2,508.1 550.2,509.2 550.2,510.1 550.2,510.7 550.2,511.3 550.2,512.4 550.2,513.5 550.2,514.2 550.2,517 550.2,517.9 550.2,518.8 550.2,519.7 550.2,520.4 550.2,527.8 557,481.2 557,481.9 557,482.4 557,483.3 557,484.3 557,485.2 557,485.9 557,487 557,488 557,488.7 557,489.3 557,490.2 557,490.6 557,491.8 557,492.4 557,492.9 557,493.6 557,494.2 557,495 557,495.5 557,496.1 557,499.8 557,500.9 557,501.4 557,502.2 557,503.1 557,506 557,507 557,507.8 557,508.4 557,509 557,509.7 557,510.8 557,511.4 557,512.1 557,512.9 557,513.9 557,514.9 557,515.5 557,516.1 557,516.8 557,517.3 557,518.4 557,519.1 557,520 557,520.4 557,526.7 557,529.5 557,524.6 563.8,481.2 563.8,481.8 563.8,482.9 563.8,483.8 563.8,484.3 563.8,485.2 563.8,485.9 563.8,486.7 563.8,487.2 563.8,488 563.8,488.6 563.8,489.4 563.8,490.4 563.8,491.3 563.8,492.1 563.8,495.5 563.8,496.4 563.8,497.1 563.8,498.2 563.8,499.3 563.8,500.4 563.8,501.3 563.8,502 563.8,503.1 563.8,504.1 563.8,505 563.8,506.1 563.8,507 563.8,507.5 563.8,508.5 563.8,509.3 563.8,510.3 563.8,510.8 563.8,511.8 563.8,512.4 563.8,513.3 563.8,513.9 563.8,514.5 563.8,515.3 563.8,516.5 563.8,517.5 563.8,518.6 563.8,519.1 563.8,520 563.8,520.5 563.8,520.9 563.8,521.8 563.8,522.5 563.8,526.7 563.8,529.5 570.5,482.2 570.5,482.8 570.5,483.9 570.5,484.5 570.5,484.9 570.5,485.6 570.5,486.7 570.5,489.6 570.5,490.2 570.5,493.1 570.5,493.9 570.5,495 570.5,495.5 570.5,496.2 570.5,496.8 570.5,497.9 570.5,498.4 570.5,499.4 570.5,500 570.5,500.5 570.5,501.5 570.5,502.3 570.5,503.2 570.5,504 570.5,504.6 570.5,505.5 570.5,506 570.5,507 570.5,507.8 570.5,508.4 570.5,509.5 570.5,510.6 570.5,511.1 570.5,511.8 570.5,512.3 570.5,513.4 570.5,513.9 570.5,514.4 570.5,515 570.5,515.5 570.5,516.5 570.5,517.2 570.5,518.3 570.5,519.3 570.5,519.9 570.5,520.3 570.5,520.4 570.5,526.7 570.5,529.5 577.2,482.2 577.2,483 577.2,483.8 577.2,484.8 577.2,485.6 577.2,486.5 577.2,487.5 577.2,488.1 577.2,488.7 577.2,489.3 577.2,490.4 577.2,491 577.2,492.1 577.2,493.2 577.2,493.8 577.2,494.3 577.2,495.3 577.2,496.4 577.2,497.4 577.2,498.2 577.2,499.4 577.2,499.9 577.2,500.8 577.2,501.8 577.2,502.7 577.2,503.4 577.2,504.2 577.2,505.2 577.2,505.7 577.2,506.3 577.2,507.4 577.2,508.4 577.2,509.5 577.2,510.2 577.2,510.8 577.2,511.6 577.2,512.5 577.2,513.5 577.2,514.6 577.2,515.7 577.2,516.8 577.2,517.6 577.2,518.2 577.2,519.2 577.2,519.8 577.2,520.6 577.2,521.6 577.2,522.6 577.2,523.2 577.2,523.6 577.2,526.7 577.2,529.5 577.2,524.6 584,483.7 584,486.5 584,487.1 584,487.7 584,490.2 584,491.3 584,492 584,492.9 584,493.4 584,494.4 584,495.2 584,496 584,497.2 584,498 584,498.7 584,499.6 584,500.3 584,501.3 584,502 584,502.5 584,503.2 584,503.7 584,504.4 584,504.9 584,506 584,506.4 584,507.4 584,507.9 584,509 584,509.5 584,510.5 584,511.5 584,512.5 584,513.5 584,514.5 584,515.2 584,516.4 584,517.2 584,518.2 584,518.8 584,519.3 584,520.1 584,521 584,522.2 584,522.5 584,526.7 584,529.5 590.7,482.2 590.7,483 590.7,484.1 590.7,485 590.7,485.4 590.7,486.5 590.7,487.2 590.7,488 590.7,488.6 590.7,489.5 590.7,490 590.7,490.5 590.7,491.5 590.7,492.4 590.7,493.4 590.7,494.2 590.7,495.1 590.7,495.7 590.7,496.2 590.7,497.1 590.7,498.2 590.7,498.9 590.7,499.7 590.7,500.3 590.7,501.4 590.7,502 590.7,502.5 590.7,506.3 590.7,506.7 590.7,507.6 590.7,508.7 590.7,509.6 590.7,510.5 590.7,511 590.7,511.7 590.7,512.6 590.7,513.6 590.7,514.3 590.7,515 590.7,515.6 590.7,516.4 590.7,517.2 590.7,518.3 590.7,519.1 590.7,519.5 590.7,520.4 590.7,526.7 590.7,529.5 597.5,482.2 597.5,483.4 597.5,484.5 597.5,485.6 597.5,486.7 597.5,487.5 597.5,488.7 597.5,489.5 597.5,490.1 597.5,490.7 597.5,493.8 597.5,494.7 597.5,495.8 597.5,496.5 597.5,497.4 597.5,497.9 597.5,498.8 597.5,499.9 597.5,500.9 597.5,501.9 597.5,503.1 597.5,504.1 597.5,504.6 597.5,505.5 597.5,506 597.5,506.9 597.5,507.4 597.5,508.2 597.5,509.3 597.5,509.9 597.5,510.7 597.5,511.9 597.5,512.3 597.5,512.9 597.5,513.4 597.5,514.2 597.5,515.4 597.5,516.3 597.5,517.2 597.5,517.6 597.5,518.5 597.5,519.3 597.5,520 597.5,521 597.5,521.6 597.5,522.4 597.5,522.9 597.5,523.5 597.5,524.5 597.5,524.6 597.5,526.7 597.5,529.5 597.5,524.6 604.2,481.6 604.2,482.7 604.2,483.3 604.2,484.3 604.2,485.2 604.2,486.1 604.2,486.6 604.2,487.3 604.2,487.9 604.2,488.9 604.2,490.1 604.2,490.8 604.2,491.6 604.2,492.4 604.2,493.4 604.2,493.9 604.2,494.3 604.2,495.2 604.2,495.7 604.2,496.6 604.2,497.6 604.2,498.5 604.2,499 604.2,499.5 604.2,499.9 604.2,500.6 604.2,501.3 604.2,502 604.2,502.5 604.2,503.5 604.2,504 604.2,504.9 604.2,505.8 604.2,506.9 604.2,508 604.2,508.9 604.2,509.4 604.2,510.4 604.2,511.1 604.2,512.1 604.2,512.8 604.2,513.6 604.2,514.2 604.2,514.7 604.2,515.2 604.2,515.8 604.2,516.4 604.2,517.6 604.2,518.4 604.2,519.6 604.2,520.7 604.2,521.7 604.2,522.3 604.2,523 604.2,523.6 604.2,524.2 604.2,524.6 604.2,526.7 604.2,529.5 604.2,524.6 611,481.2 611,481.8 611,482.8 611,483.6 611,484.7 611,485.6 611,486.6 611,487.1 611,488.1 611,488.9 611,490 611,491.2 611,492.3 611,493.1 611,493.7 611,496.2 611,497 611,497.7 611,498.7 611,499.6 611,500.7 611,501.8 611,502.3 611,502.9 611,503.5 611,504.5 611,505.6 611,506.5 611,507.7 611,508.6 611,511.5 611,512.3 611,513 611,516.4 611,516.9 611,517.8 611,518.5 611,519.4 611,520.2 611,520.9 611,521.3 611,521.9 611,522.5 611,523.6 611,526.7 611,529.5 611,524.6 617.7,481.2 617.7,482.3 617.7,483 617.7,485.5 617.7,486.5 617.7,487.3 617.7,488 617.7,489.1 617.7,490.1 617.7,491.2 617.7,491.8 617.7,492.3 617.7,493 617.7,493.6 617.7,494.3 617.7,495.4 617.7,496.4 617.7,497.4 617.7,498.3 617.7,498.9 617.7,499.5 617.7,500.1 617.7,500.7 617.7,503.8 617.7,504.7 617.7,505.5 617.7,506.4 617.7,506.9 617.7,507.4 617.7,508 617.7,508.9 617.7,509.4 617.7,510.4 617.7,510.9 617.7,511.7 617.7,512.7 617.7,513.7 617.7,514.5 617.7,515.1 617.7,515.5 617.7,516.5 617.7,519.2 617.7,520 617.7,521 617.7,521.4 617.7,522 617.7,523.1 617.7,523.8 617.7,524.6 617.7,526.7 617.7,529.5 624.5,483.7 624.5,484.6 624.5,485.7 624.5,486.8 624.5,487.2 624.5,487.8 624.5,488.4 624.5,489.1 624.5,489.5 624.5,490 624.5,490.8 624.5,491.4 624.5,492.2 624.5,493.2 624.5,494.3 624.5,498.1 624.5,498.6 624.5,499.6 624.5,500.1 624.5,501.1 624.5,501.6 624.5,502.3 624.5,503.1 624.5,503.7 624.5,504.8 624.5,505.8 624.5,506.4 624.5,506.9 624.5,507.4 624.5,508.4 624.5,509.4 624.5,510.4 624.5,510.9 624.5,511.4 624.5,512 624.5,512.8 624.5,513.3 624.5,514 624.5,514.6 624.5,515.2 624.5,515.6 624.5,516.5 624.5,517.1 624.5,518.1 624.5,520.4 624.5,526.7 624.5,529.5 631.2,480.6 631.2,481.3 631.2,482.3 631.2,483.2 631.2,484 631.2,485 631.2,485.7 631.2,486.5 631.2,487.4 631.2,488.1 631.2,488.6 631.2,489.3 631.2,490.3 631.2,491.4 631.2,492 631.2,492.9 631.2,494 631.2,495 631.2,496.1 631.2,497.2 631.2,497.6 631.2,498.4 631.2,499.1 631.2,499.6 631.2,500.2 631.2,501.2 631.2,502.1 631.2,502.6 631.2,503.1 631.2,503.6 631.2,504.4 631.2,505 631.2,505.5 631.2,506 631.2,506.7 631.2,507.6 631.2,508.3 631.2,509.1 631.2,509.9 631.2,510.8 631.2,511.4 631.2,512.1 631.2,515 631.2,515.9 631.2,516.4 631.2,517 631.2,517.9 631.2,518.5 631.2,519.4 631.2,520.1 631.2,520.6 631.2,521.5 631.2,526.7 631.2,529.5 638,481.2 638,482.3 638,483.2 638,484.2 638,484.9 638,485.9 638,486.8 638,487.3 638,488.4 638,488.8 638,489.9 638,490.4 638,490.9 638,491.4 638,492.2 638,493.3 638,493.7 638,494.2 638,495.3 638,496 638,496.8 638,497.7 638,498.5 638,502 638,502.7 638,503.6 638,504.2 638,505.4 638,506 638,506.9 638,507.9 638,508.7 638,509.3 638,509.9 638,510.6 638,511.6 638,512.8 638,516.3 638,516.7 638,517.4 638,518.1 638,518.9 638,519.6 638,520.6 638,521.5 638,522.5 638,523.3 638,524.4 638,524.6 638,526.7 638,529.5 644.7,482.2 644.7,483.2 644.7,483.8 644.7,484.5 644.7,485 644.7,485.8 644.7,486.7 644.7,487.2 644.7,487.9 644.7,488.8 644.7,489.5 644.7,490.4 644.7,491.3 644.7,492.1 644.7,492.9 644.7,493.8 644.7,494.3 644.7,494.9 644.7,495.4 644.7,496 644.7,496.7 644.7,497.8 644.7,498.3 644.7,498.7 644.7,499.1 644.7,499.7 644.7,500.3 644.7,501.4 644.7,502 644.7,503 644.7,504 644.7,504.8 644.7,505.8 644.7,506.6 644.7,507.2 644.7,508.1 644.7,508.9 644.7,509.3 644.7,510.4 644.7,510.9 644.7,513.9 644.7,514.7 644.7,515.2 644.7,516.2 644.7,516.7 644.7,517.7 644.7,518.6 644.7,519.3 644.7,519.8 644.7,520.4 644.7,526.7 644.7,529.5 651.5,483.7 651.5,484.6 651.5,485.5 651.5,486.4 651.5,487.4 651.5,487.8 651.5,488.4 651.5,489.3 651.5,490.4 651.5,491.5 651.5,492 651.5,492.9 651.5,493.8 651.5,494.5 651.5,495.6 651.5,496.3 651.5,496.9 651.5,498 651.5,498.9 651.5,499.8 651.5,500.8 651.5,501.4 651.5,501.9 651.5,502.8 651.5,503.9 651.5,504.8 651.5,505.6 651.5,506 651.5,507 651.5,508 651.5,508.4 651.5,509.5 651.5,510 651.5,510.6 651.5,511.1 651.5,512 651.5,512.9 651.5,513.8 651.5,514.4 651.5,515.2 651.5,516 651.5,516.9 651.5,520.4 651.5,521.4 651.5,522.1 651.5,522.5 651.5,526.7 651.5,529.5 651.5,524.6 658.2,483.7 658.2,484.5 658.2,485.4 658.2,486.3 658.2,487.2 658.2,488.2 658.2,488.7 658.2,489.2 658.2,489.7 658.2,490.6 658.2,491.5 658.2,492 658.2,492.7 658.2,493.8 658.2,494.8 658.2,495.8 658.2,496.8 658.2,497.4 658.2,497.9 658.2,498.9 658.2,499.9 658.2,500.7 658.2,501.6 658.2,502.3 658.2,502.9 658.2,503.6 658.2,504.8 658.2,505.9 658.2,506.4 658.2,507.5 658.2,510.1 658.2,510.8 658.2,511.5 658.2,512.1 658.2,512.7 658.2,513.7 658.2,514.7 658.2,515.2 658.2,516.2 658.2,516.9 658.2,517.5 658.2,518.6 658.2,519 658.2,520.1 658.2,520.8 658.2,521.6 658.2,522.3 658.2,523 658.2,523.6 658.2,527.8 658.2,524.6 530,523.6 530,524.3 530,525.1 530,525.8 530,526.6 530,527.3 530,528.1 530,528.8 530,529.6 530,530.3 530,531.1 530,531.9 530,532.6 530,533.4 530,534.1 530,534.9 530,535.6 530,536.4 530,537.1 530,537.9 530,538.6 530,539.4 530,540.1 530,540.9 530,541.7 530,542.4 530,543.2 530,543.9 530,544.7 530,545.4 530,546.2 530,546.9 530,547.7 530,548.4 530,549.2 530,549.9 530,550.7 530,551.4 530,552.2 530,553 530,553.7 530,554.5 530,555.2 530,556 530,556.7 530,557.5 530,559.6 530,561.3 530,562.8 563.8,521.5 563.8,522.2 563.8,522.9 563.8,523.7 563.8,524.4 563.8,525.2 563.8,525.9 563.8,526.7 563.8,527.4 563.8,528.1 563.8,528.9 563.8,529.6 563.8,530.4 563.8,531.1 563.8,531.9 563.8,532.6 563.8,533.3 563.8,534.1 563.8,534.8 563.8,535.6 563.8,536.3 563.8,537.1 563.8,537.8 563.8,538.6 563.8,539.3 563.8,540 563.8,540.8 563.8,541.5 563.8,542.3 563.8,543 563.8,543.8 563.8,544.5 563.8,545.2 563.8,546 563.8,546.7 563.8,547.5 563.8,548.2 563.8,549 563.8,549.7 563.8,550.4 563.8,551.2 563.8,551.9 563.8,552.7 563.8,553.4 563.8,554.2 563.8,554.9 563.8,555.7 563.8,556.4 563.8,557.1 563.8,557.9 563.8,558.6 563.8,559.4 563.8,560.1 563.8,560.9 563.8,561.6 563.8,562.3 563.8,563.1 563.8,563.8 563.8,567 563.8,570.2 563.8,573.4 563.8,576.5 563.8,580.8 563.8,585 563.8,590.3 584,521.5 584,522.4 584,523.4 584,524.3 584,525.3 584,526.2 584,527.2 584,528.1 584,529.1 584,530.1 584,531 584,532 584,532.9 584,533.9 584,534.8 584,535.8 584,536.8 584,537.7 584,538.7 584,539.6 584,540.6 584,541.5 584,542.5 584,543.5 584,544.4 584,545.4 584,546.3 584,547.3 584,548.2 584,549.2 584,550.2 584,551.1 584,559.2 584,481.2 584,479.4 584,477.6 584,475.8 584,474 584,472.2 584,470.4 584,468.6 584,466.8 584,465.1 584,463.3 584,461.5 584,459.7 584,457.9 584,453.6 584,451.5 584,449.4 584,446.2 584,445.2 584,436.7 584,432.5 584,420.8 584,417.6 631.2,477 631.2,472.7 631.2,466.4 631.2,453.6 631.2,443 631.2,436.7 631.2,532 631.2,535.2 631.2,538.4 631.2,542.6 631.2,545.8 631.2,549 631.2,551.1 631.2,553.2 631.2,556.4 631.2,563.8 631.2,568.1 631.2,576.5" fill="none" stroke="none" marker-start="url(#mk)" marker-mid="url(#mk)" marker-end="url(#mk)"/>
<g font-family="'Liberation Sans', Arial, Helvetica, sans-serif" font-size="10.5" fill="#262626" stroke="#262626" stroke-width="0.2">
<g text-anchor="middle">
<text x="408.5" y="642">4</text>
<text x="476" y="642">4.1</text>
<text x="543.5" y="642">4.2</text>
<text x="611" y="642">4.3</text>
<text x="678.5" y="642">4.4</text>
</g><g text-anchor="end">
<text x="404.7" y="631.6">3.6</text>
<text x="404.7" y="589.2">3.8</text>
<text x="404.7" y="546.8">4</text>
<text x="404.7" y="504.4">4.2</text>
<text x="404.7" y="462">4.4</text>
<text x="404.7" y="419.7">4.6</text>
</g></g>
<g font-family="'Liberation Sans', Arial, Helvetica, sans-serif" font-size="11.55" fill="#262626">
<text x="457.3" y="660.4">Actual Heat Capacity, <tspan font-style="italic" font-size="10.5">ρ</tspan>Cp(J/m<tspan dy="-5.8" font-size="8">3</tspan><tspan dy="5.8">K)</tspan></text>
<text text-anchor="middle" transform="translate(385.2 521.5) rotate(-90)">Predicted Heat Capacity, <tspan font-style="italic" font-size="10.5">ρ</tspan>Cp(J/m<tspan dy="-5.8" font-size="8">3</tspan><tspan dy="5.8">K)</tspan></text>
</g>
<g font-family="'Liberation Sans', Arial, Helvetica, sans-serif" font-size="10.3" fill="#262626">
<text x="653.3" y="660"><tspan font-size="12">×</tspan><tspan dx="0.6">10</tspan><tspan dy="-5.3" dx="1" font-size="8.2">6</tspan></text>
<text x="409.6" y="412.5"><tspan font-size="12">×</tspan><tspan dx="0.6">10</tspan><tspan dy="-5.3" dx="1" font-size="8.2">6</tspan></text>
</g>
<path d="M107.5 707.5V917.5M174.5 707.5V917.5M242.5 707.5V917.5M40.5 875.5H309.5M40.5 833.5H309.5M40.5 791.5H309.5M40.5 749.5H309.5" stroke="#e8e8e8" stroke-width="1" fill="none" shape-rendering="crispEdges"/>
<path d="M40.00 707.40H309.50V917.50H40.00Z" stroke="#6e6e6e" stroke-width="1" fill="none"/>
<path d="M107.5 917.50v-2.7M107.5 707.40v2.7M174.5 917.50v-2.7M174.5 707.40v2.7M242.5 917.50v-2.7M242.5 707.40v2.7M40.00 875.5h2.7M309.50 875.5h-2.7M40.00 833.5h2.7M309.50 833.5h-2.7M40.00 791.5h2.7M309.50 791.5h-2.7M40.00 749.5h2.7M309.50 749.5h-2.7" stroke="#6e6e6e" stroke-width="1" fill="none"/>
<polyline points="66.3,902.3 67.5,906.7 67,901.2 66.3,903.6 67.2,902.9 67.3,905.9 66.6,906.3 67,898 67.1,899.6 66.8,899.9 67,896.2 67.7,903.5 67.9,903.4 68.7,904.2 68.8,897.9 67.7,902.5 68.3,905.8 68.2,897.6 67.8,900.5 67.8,900.7 68.8,904.1 68.3,896.2 69.5,901.4 69.8,904.6 69.8,903.8 69.8,895.6 69,899.8 69.8,904 69.3,895.3 70.3,904.3 69.9,895.7 69.3,899.2 69.6,894 70.4,901 71.5,898.6 70.9,900.5 71.6,898.7 70.3,896.5 70.8,900.2 70.6,900 70.8,903.6 71.2,903.5 71.4,904.2 72.2,901.6 73,900 72.2,895.4 72.2,897.3 71.9,895.6 72,903.4 73,902.2 72.9,894.1 72.5,903.8 71.7,901.9 73.2,897.4 73.2,901.7 73.8,896.2 73.1,898.4 74,895.6 73.5,894.5 73.2,896 74.1,894.5 73.7,901.6 73.1,897.7 73.7,891.7 73.7,904.4 75.1,898.1 74.6,897.2 75.6,896.7 75.6,901.4 75.7,893.4 75.1,896.8 75.1,893.2 74.4,895.7 75.1,898.9 75.3,895 75,890.5 75.8,895.1 76.2,892.4 76,892.9 76.7,894.8 76.9,900.6 76.5,895 76.6,897 75.8,899.1 76.5,899.2 75.8,897.5 77.1,890.2 77.9,890 78.4,891.4 77.2,896.3 77.4,892 77.3,897.6 77.2,898.6 78.3,890 77.6,892.3 77.7,894.5 79.1,896.6 79,890 78.4,897.4 79.5,897.8 78.7,890.8 79.2,896.4 78.5,895.9 78.8,891.3 79.7,891.4 79.6,890.1 80.6,893.1 80.2,890 80.3,895.6 80.1,893.4 80.6,892.4 80.3,895.8 80.3,894.6 80,892.6 80,891.2 80.6,896.2 82.1,888.6 82.1,895 81.8,893.8 81.1,891.8 81.7,888.7 81.5,889 81.8,896.1 82.1,894.3 81.8,896.4 81.1,888.2 81.8,886.7 83,887.3 83.1,894.6 83.4,892.5 82.8,892.8 83,894.2 83.3,887.5 83.2,895.9 83.4,895.8 83.1,887.5 83.4,887.1 84.7,892.6 84.2,887.8 84.3,889.2 84.5,886.1 83.8,893 84.8,888.5 83.9,893.5 84.1,889.7 85,892.7 84.1,888.4 85.2,886 85.7,889.2 86,884.5 85.9,884.9 86.4,892.8 85.6,885.2 86.2,884.5 85.4,888.6 86.4,888.5 86,884.4 85.8,883.6 87.6,890.2 86.7,890 86.5,889.1 87.5,888.7 87.8,892.3 86.7,891.4 87.3,890.9 87.4,888.1 87.3,885.3 87.6,884.6 87.2,882.7 88.1,882.9 88.7,891.8 89.1,886.8 88.2,885.7 89.1,888.8 87.9,890.5 87.9,886.7 88.3,882.9 88.1,892.7 88.5,891.4 90,881.5 89.7,884.6 89.6,881.7 89.9,891 90.2,889.1 89.2,891.1 90.3,883.9 89.7,885.5 90.1,890.5 90.1,883.9 89.9,892.8 91.4,882.5 91,886.8 91.7,892.2 91.8,889.1 91.1,889.4 91.6,886.6 91.5,891.4 91.7,883.4 91.4,890.1 90.9,887.5 91.2,879 92.1,883.9 93,884 92.4,892.5 92.5,887.5 93.2,879.5 93.2,879.4 92.1,892.4 92.3,892.7 92,884.9 92.1,884.4 93.9,882.3 93.4,881.2 94.4,888.5 93.9,882.4 93.9,881.1 94.1,886.9 94.1,880.8 93.9,883.2 94.1,884.7 93.3,885.7 95.2,882.8 95.3,887.2 95.4,881.7 95.3,879.3 95.4,888.5 95,881.7 94.7,879 95.5,881 94.8,888.6 95.8,883.6 96.1,876.5 96.9,885 96.6,877.8 96.4,880.1 97.1,876.7 96.3,878.9 96.7,878.7 96,883.8 96.5,878.6 96.5,888.6 96.6,874.1 97.4,879.3 98.4,885.1 97.9,885.1 97.3,879.7 97.5,887.5 98.5,887.4 98.3,878.7 97.6,884.1 97.6,880 98.6,879.6 98.9,880.3 99,877.2 99.6,885.9 98.6,881.4 98.8,882.5 99.4,879.1 99.1,882 99.7,886.4 99.1,879.1 99.1,877.8 99.3,876.5 100.5,883.7 100.6,875.9 101.2,879 100.3,879.5 100.2,885.6 101,883.2 100.2,876.8 100.1,883.5 100.2,875.9 100.9,884.2 100.6,872.4 100.6,888 101.9,882.4 102.2,883.9 102,882.7 101.8,875.3 102.1,878.2 102.2,885.7 102.4,875.5 102.3,879.6 102.5,874.7 101.7,883.8 102,886.8 102.7,880.7 102.7,879.9 103.8,877.6 102.7,877.4 102.9,876.7 103.5,879.3 103.2,874.9 102.9,875.7 102.9,883.8 102.9,884.4 105.1,878.4 104.4,876.2 104.2,884.1 104.9,875 105,876.8 105.3,874.2 104.8,882.6 104.8,879.8 105,880.7 104.1,882.4 104.7,871.4 105.8,875.2 106,878 105.6,872 106,878.2 105.6,878.5 106,878.8 106.4,879.9 106.2,875.9 105.5,874.1 105.4,880.8 106,885 107,876.2 107.8,878 107.1,883 106.8,884.4 106.8,875.1 107.5,884.1 108,871.5 107.3,880.1 107.9,875.9 107.7,882.5 108.1,877.9 108.4,877.9 109.3,876.6 108.3,879.5 108.1,876.5 108.6,879.8 108.7,877.1 108.1,875.9 108.3,878.8 109.1,876.3 110.4,876.8 110.7,881.2 109.6,879.8 109.9,876.6 109.9,872.8 109.9,874.8 110.3,868.8 110.7,876.4 109.9,867.9 110.5,869.4 110.1,866.7 111.4,869.7 111.3,874.5 111.2,873.6 111.5,878.1 110.8,871.8 111.9,876.3 111,878.9 111.6,873.7 112,872.6 111.5,873.5 112.1,869.4 113.4,873 113.1,871.4 113,874.1 113.4,875 112.2,877.6 113.2,870.2 113.2,870 112.4,874.4 112.5,869.3 112.8,866.9 113.4,876.3 113.7,875 114.1,877.3 114.6,872 114.3,873.3 114.6,876.4 114.6,874.7 114.1,870.8 114.3,871 114.4,877.1 114.9,876.6 114.9,864.8 115,868.5 114.9,869.5 115.1,869.6 115.8,868.6 115.5,868.1 114.8,876.5 115.1,871.5 115.8,876.8 115.5,863 116.5,874.8 116.2,866.7 116.6,867.9 116.5,867.7 117.3,874.9 116.9,866 117.2,873.9 117.1,867.5 116.3,868.5 117,873.1 117.5,868.1 118.7,870.3 118.1,863 118.7,862.8 117.6,862.2 117.9,870 117.7,864.5 118.3,868.8 118.1,868.1 118.3,872.5 120.1,871 119.9,864.5 119.4,866 119.2,869.9 120,864.7 119.9,867.5 118.9,864.4 120.1,868.9 119.7,870.5 120.1,865.1 119.5,860.3 121.1,867.7 121.5,865.5 121.2,866.6 121.2,863.6 120.8,867.8 120.4,865.3 121.2,868.6 120.3,864.5 121,865.3 120.4,862.1 121.9,865.6 121.5,861.1 121.8,869.6 122.6,868.7 122.3,864.4 121.8,870.6 122.5,862.1 122.6,870 122,866.5 121.6,862 123.7,859.8 122.9,868.6 124.2,868.4 124.1,865.2 123.2,865.3 124.1,862.3 123,860.4 123.3,860.3 123.5,860 123.6,865.5 124.9,862.9 125.1,866.9 125.5,865.1 125.6,863.3 125.5,859.1 124.6,869.7 125,863.3 124.7,865.9 124.6,869 124.8,863.9 126.2,865 125.9,862.2 126.7,858.5 126.6,858.5 126.4,865.2 126.9,862.3 125.7,860 126.4,860 126.1,862.9 126.4,863.1 128.2,868 128.1,860.5 127.5,868.7 127.6,867.1 127.2,862.8 127.8,857.5 127.8,859.6 127.6,868.8 127.4,867.7 127.7,865.4 128.9,859.3 129,862 129.2,856 129.1,857.5 128.7,864.5 128.3,861 128.3,864.6 128.9,863.2 128.5,862.6 129.5,860.6 130.9,858.2 130.7,859.2 131,860 130.1,858.7 129.7,861.5 130.9,865 130.2,863 130.4,856.2 130,859.7 129.7,863.8 131.3,854.9 132.1,855.3 131.9,857.2 131.5,857.9 131.5,856.3 132.1,861 131.9,863.4 131.1,862.4 131.3,859.5 131.5,853.9 131.6,850.6 132.9,860 133.1,864.5 133.1,864.4 132.5,861.8 133,856.9 132.3,864.5 132.9,862.4 133.3,856 133.5,854.1 133.6,862.2 133,866.4 134.2,859.9 134.9,854.7 133.9,860.3 134.7,864.9 134.8,853.4 134.5,864.1 134.4,863.6 134.8,862.3 133.7,859.5 134,853.9 134.3,851.3 135.7,853.6 135.5,854.6 135.2,859.1 136.2,855.1 135.9,863.7 136.3,860.5 135.9,863.5 135.1,859.9 136.1,856 135.5,861.7 136.5,854.9 137.6,854.7 137.2,858.2 136.7,857.9 136.9,854.4 137.6,858.6 136.7,855.4 137.6,853 137.7,854.8 137.5,858 138,852.5 138.8,850.9 138.2,856.4 137.7,851 138.5,861.1 138.2,857.7 138.3,858.9 138.1,855.9 138.7,856.6 138.3,857.8 139.6,852.9 139.7,860.7 139.8,852.4 139.3,853.9 139.4,861.7 139.1,856.8 139.4,859.5 139.5,851.7 139.7,854.4 140.3,858.7 141.6,859 140.9,854.2 141.1,848.5 140.7,857.6 141.4,851 140.8,860.4 141.1,853.9 141.5,853.8 141.1,851.1 141.3,853.1 141.1,846.4 142,849.8 141.9,850.5 142.9,860.6 142.5,850.5 142.2,859.1 143,858.2 143.1,856.7 143,853.9 141.8,858.1 142.6,861 142.4,847 142.4,863.1 143.6,855.3 143.2,852.5 144,850.8 144.2,849.4 143.6,856.9 143.2,851.4 144,858.3 144.1,849.1 143.1,852.2 144.1,850.8 145.6,854 145.3,846.8 145.4,855.5 144.9,846.8 144.5,852.1 144.9,856 145.2,854.3 144.8,848.1 145.4,847.4 144.4,848.3 146.5,845.4 146.8,856.7 146.9,853.4 146.5,850.7 146.6,856.7 146.5,848.6 146.2,846.9 146.5,851.5 146,855.4 146.3,851.1 147.2,843.9 148.2,844.8 147.4,845 147.8,850.6 147.5,851.9 148.1,852.7 148.4,845.9 148.3,847.4 148.1,853.1 147.3,855.2 149.2,851.1 149.4,844 149.4,848.7 149.7,849.1 149.8,845 149.4,846.6 149,849.8 148.9,846.5 149.6,851.7 149.1,850.8 150,844.1 150.6,841.6 150.4,849.9 149.9,843.5 150.9,853.6 150.5,844.8 150.3,852.4 150.3,846.2 150.5,845.7 149.8,847.8 152.4,848 152.2,845.3 152.4,849 152.1,847.6 151.7,850.4 151.3,849.8 151.9,841.6 151.4,842.4 152.2,844.3 151.8,847.7 153.6,841.5 152.9,849.1 153.7,841.7 153.1,847.6 152.9,851.2 152.7,849.1 152.8,845.2 153.5,846.1 152.9,850.2 153.1,851 154.9,850.9 154.1,848 154.1,840.7 154.5,851.9 154.3,843.8 155.1,847.8 155.1,849.9 154.2,843.1 154.7,847.2 154,845.5 154.5,837.2 155.3,846.4 155.7,843.6 156.5,845.9 156.2,840.7 155.5,850.2 155.4,842.8 156,843.4 156.5,849.3 156,845.6 155.8,845.6 157.7,847.2 157.8,844.5 157.5,845.4 157.5,846 157.5,841.6 156.6,845.8 157,850.5 156.6,842.6 156.6,843.6 156.6,849.4 158.8,849.8 158.5,844.6 157.9,844.2 158.6,842 158.1,840.7 158.8,846.3 157.9,840.5 158.8,838.6 159.2,847.3 158.7,844.6 159.3,838.9 159.3,844.4 160.3,847.4 159.6,842.2 159.4,844 160.6,846.8 160.2,843.9 159.8,844.1 160.6,848.5 160,845.8 159.9,836.9 160.7,842.4 161.8,836.8 161,846.2 161.6,844 160.7,848.4 161.8,842.7 161.8,839.4 161,844.8 161.1,843.8 160.9,845.3 161.3,835.5 162,840.7 163.2,836.8 163,837.6 162.2,838.3 162.4,844.2 162.5,836.9 162.9,839.7 162.4,839.5 162.2,842.5 163,836.3 164.1,846.6 163.8,843.4 164.5,837.5 163.7,843.5 163.8,845.8 163.6,844 163.5,839.1 163.4,837.5 164.3,844.2 163.8,839.6 164,849.1 165.7,837.3 165.1,843.3 165.1,837.8 165.5,842.9 165,841 164.7,839 165.8,844.2 164.7,837.2 165.6,835.8 165.3,834.7 166.8,838.2 166.7,833.9 167.2,841.3 166,843.4 167.3,841.8 167.3,837.3 166,839.1 166.3,840.9 166.5,842.5 166,844.2 167.5,837.9 168.4,833 167.7,832 168.3,840 167.5,840.7 167.6,842 168.2,833.2 168,834.5 168.5,831.9 168,836.1 169.8,833.5 168.8,832.3 169.2,835.8 169.8,842.8 169.5,835.5 169.4,837.3 169.6,838.3 169.4,833.4 169.7,835.9 170,835.5 171.1,833.1 170.7,842.9 170.6,839.6 171.2,834.5 171,833.6 170.8,837.7 170.1,838.5 171.1,841.4 170.7,840 170.3,840.4 170.7,829.4 172.5,830.4 171.7,842.8 172.4,835.4 171.6,830.5 171.8,840.5 172.4,832.8 171.6,838.7 172.2,833.8 172.5,840.3 172.6,838.5 172.1,827.1 173.5,832.6 173.5,836.1 173.2,839.1 172.9,836.9 172.9,831.2 172.8,833.5 173.4,830.7 173.6,835.7 173,833.4 172.9,838.1 174.2,829.6 175.2,837.2 174.7,828.2 174.4,834.7 174.5,827.7 174.1,836.4 174.5,832.6 174.8,826.8 174.1,834.6 174.8,837.4 176.2,825.9 175.8,828 176.4,826.1 175.7,831.3 176.7,828.6 176.2,833.1 176.6,827.1 175.6,827.7 175.8,827.9 175.8,830.9 176.8,834 177,829.1 176.9,832.8 176.8,836.5 177.7,829.3 177.6,831 176.8,832.7 177.1,829.6 177.7,832.8 177.3,836.7 177.4,838.9 179.2,830.2 178.9,833.9 178.7,832.1 178.5,829.1 178.4,834.5 179,835 179.4,830.3 178.2,827 178.9,834.8 178.8,827.8 180,831.3 180.7,825.5 180.2,827.6 180.6,831.8 180.5,835 179.8,832.7 180.3,835.2 180.8,829.4 180.6,831.6 180.7,828.3 181.8,833 181.2,830.1 181.5,833.9 181.2,831.8 181.9,825.5 182,825.1 182.1,824.3 181.4,832.8 181.2,829.9 181.2,834.4 182.5,824.2 182.9,825.1 182.3,828 182.9,831 182.7,828.1 183.2,822.6 183.1,823 182.9,829.5 182.2,830.8 183.3,824.4 182.8,834.3 183.8,825.7 184.3,823.1 184.2,822.6 184.7,824.1 183.7,826.5 183.6,828.4 184.6,828.1 184.7,823.9 184.3,828.7 184,822.8 184.9,827.8 186.2,822 185.5,824.2 185.8,830.4 186.1,825.4 184.9,825.9 185.2,824.8 186.2,829.5 185.8,822.9 185.6,826.8 187,829.4 187.4,820 186.7,825.1 186.5,825.1 186.4,828.8 186.7,819.7 187.2,828.7 187,823 186.7,819.5 187.5,825.9 188.9,820.9 187.9,822.4 188.2,821.6 188.7,827.7 188.5,818 187.7,820 188.3,821.7 188.2,821.2 187.9,828.2 187.8,828.2 188.2,816.8 188.2,830.2 189.2,821.2 189.7,829.2 189.2,822.9 189.9,818 189,824.3 189.9,824.1 189.3,827.9 189.2,821.4 189,827.8 189.2,820.4 189.6,814.8 191,818.1 190.5,827 190.7,825 191.6,816.2 191,821.1 190.4,825.7 190.6,822.8 191.3,823.8 190.8,827.2 191.3,821.2 192.2,819.8 191.7,819.6 192.3,823.8 192,816.3 191.7,818.4 192.6,822 191.7,823.7 192.9,816.3 191.7,819.6 192.9,825.8 193.1,823.5 194.1,824.1 194,815.4 194.2,825.9 193.3,822.3 193.5,826.4 193.6,825 194.1,818.7 193.4,819.2 193.2,815.7 194.6,822.3 195.6,815.8 195.1,825 195.1,815.1 194.3,821.6 195.6,814.4 194.7,825.2 194.7,821.6 194.5,819.3 195.2,816.2 196.5,824.1 196.4,817.1 196.4,814 196.7,823.8 196.9,821.1 196,818.9 196.8,820.7 195.9,820.7 195.6,820.6 196.1,814.3 196.3,825.7 197,822 197.8,819.5 198.1,817.5 198.2,817.2 197.9,823.8 197.8,819.3 197.5,819.9 198,819.8 197.5,814.2 197.7,819.4 197.7,825.6 198.5,815.5 199.2,812.1 199.4,820 198.6,815.7 199.6,816.8 199.2,817.7 199.3,821 198.7,814.8 199.3,816.5 198.6,815.2 200.8,812.7 200.8,813.9 200.4,811 200.7,815.1 199.9,819.9 200.2,809.7 200.8,813.8 200.5,818 199.8,820.8 200.5,816.9 200.4,807.9 201,815 201.2,815.4 202.2,816.7 201.2,813.1 201.2,810.4 202.1,811.9 201.8,817 202.1,818.6 201.9,818.7 201.1,810.6 202.8,813.5 202.8,812 203.6,819.6 202.4,818.1 202.9,812.8 203,817.2 203.7,821.5 202.5,821.4 202.4,811.6 203.3,810.9 203,808 203.8,816.5 204.3,816.6 204,819.4 204.7,821.7 203.8,811.3 204.2,819.1 204.2,815.7 203.8,815.9 205.1,816.9 205,811.6 205.8,811.8 206.4,814 205.2,813.6 205.2,816.3 206,814.3 205.9,816 205.8,812.9 206.3,818.6 205.5,813.6 205.1,816.6 206.6,813.3 206.5,819.6 207.6,819.4 206.5,818.1 207.6,819.6 207.6,817 206.7,818.1 207.4,813.1 207,818.8 206.4,814.4 207.1,822.3 208.6,817.8 207.9,809.9 208.5,806.8 208,814.1 208.3,810.2 208,811.3 208,814.6 208.3,809.7 208.8,811.6 208.1,816.1 209.5,816.3 209.8,809.9 209.3,806.4 209.9,814.4 210.1,808.9 210.2,813.6 210.3,806.8 209.5,808.9 209.4,810.9 210,805.8 211.3,808.5 211.4,807.2 211.4,805.8 211.3,813.7 210.9,813.8 211.5,808.2 210.5,808.8 211.2,812.4 211.5,812.9 211.5,812.8 213.1,814.1 212.5,812.6 213,806.9 212.3,812.7 212.1,814.6 212.6,804.5 212.1,809.4 212.2,807.7 212.8,805.4 212.6,804.9 212.5,801.9 212.5,817 214.1,809.6 213.7,803.4 213.7,808.7 213.5,812.1 213.3,805.5 213.8,812.6 214.3,811.1 213.5,808.2 214.3,806.2 213.4,809.8 214.6,809.8 214.9,804.6 215.7,804.9 215.2,804.2 215.4,812.6 215.3,812.2 214.7,804.7 215.3,812.9 214.7,812.6 215.4,801.3 215.2,799.5 216.7,803.7 216,801.6 216.6,803.4 216.9,808.7 217,811.2 217,812.8 216.5,813.1 216.4,801.7 216.7,810.7 217,805.8 216.5,814.5 217.5,809.6 218.2,809.3 218.4,807.4 217.8,809 218.4,810.4 217.6,806.9 217.9,809.5 218.2,808.5 218.1,810.4 217.9,803.5 219,802.9 219.6,801.5 218.6,804.3 219.7,802.4 219.1,801.2 218.8,805.8 219,801.2 219.4,803.8 219.5,810.6 218.8,807.2 220.9,809.1 220.7,806.9 220.4,811 220.1,801.5 221.1,809.6 220.9,808.5 220.1,807.4 221,807.4 220.1,803.9 221,800.2 222.2,799.2 222.1,810 222.3,797.5 222.3,809.6 221.3,801.7 222.4,800 221.4,804.7 221.3,801.1 222.1,805 222,804.5 221.9,796.4 223,808.4 223.7,801.5 222.7,807.5 223.6,808.8 223.2,803.2 223,803.3 223.6,799.9 222.7,801.1 223.5,798.9 223.1,801.4 224.4,801.1 225.1,802.3 225,799.1 225.2,802 225,799.2 224,798.6 224.8,797.9 224.1,799.9 224,797.2 224.8,806.5 225.6,796.3 225.4,801.1 226.6,798.9 225.5,798.2 226,796.7 225.6,795.8 226.3,804.9 226.5,796.6 225.4,805.2 225.3,798.4 226,793.8 227.3,801.1 228,796 227,795.4 227,801.2 226.7,798.5 227.1,803 227.8,803.5 227.1,802.7 227.8,799.7 226.7,801.3 227.3,807.4 229,803.4 229.1,797.3 228.4,794.4 228,803 228,800.5 228.2,802.7 228.1,802.6 229.2,803.5 228.2,802.6 229.3,802.3 228.6,793.4 229.9,803.8 229.5,798.4 230.5,798.6 229.6,800.4 229.5,797.5 230.2,800.6 230.1,803 230.5,798.1 230.6,794.3 230.3,803.7 231.4,799.3 231.3,800.2 231.2,797 230.9,794.5 231,796.5 231.7,800.3 231.7,792.3 231.1,796.2 231.2,792.9 231.9,798.7 232.3,796.7 232.3,791.9 232.3,797.3 232.2,796.1 233,791.7 232.9,797.2 233,791.2 233.1,795.9 232.4,795 232.4,800.6 232.7,802.9 233.7,790.7 234.4,801 234,789.9 234,801.3 234,791 233.6,791.8 233.8,792.6 234.6,800 234.7,798.8 234.6,797.6 235.3,802.3 235.3,799.4 235.4,794.2 235,797.3 235.7,795.9 235.5,792.9 235.3,802 235.5,793.5 235.7,800.1 235.7,791.1 236.5,788.2 237.2,791.2 236.8,790.1 236.2,787.5 236.4,800.3 236.7,795.6 237.1,791.4 236.2,793.8 236.9,792.4 236.4,792.5 236.7,785.7 237.8,796 237.6,796.2 238.2,793.3 237.8,799.3 238.2,793.3 237.7,795.2 237.7,798.7 237.8,790.3 237.8,786.9 238,787 238.1,783.5 239.9,791.3 239.4,795.1 238.9,788.7 239.1,795.8 239.5,789.3 239.1,792.2 239.8,796.5 239.6,794.2 239.3,791.6 239.4,787.3 239.4,786 239.4,798.8 240.7,790.7 241,793 240.2,789.6 241.1,792 240.6,789.4 240.4,790.2 240.3,787.4 241.1,795 241.3,793.7 240.2,792.6 240.8,798.2 242.1,790.4 242,794 241.8,794.4 241.8,787.9 241.9,787.7 242.5,792.2 242.8,795.2 242,792.3 241.5,796.5 242.8,793.4 243.3,789.1 242.8,793.2 243,790.2 244,792.6 243.3,786.5 243.6,790.1 243.3,790.1 243,794.7 243.7,794.2 242.9,783.4 243.5,781.3 245.1,786.5 244.8,793.8 245,783.3 245.1,785.2 244.9,789.3 244.6,790.5 245.2,785.1 245.4,787.3 244.3,786.8 245.2,793.6 244.8,779.7 246.7,783.5 246.3,780.9 245.6,782.9 246.7,788.3 245.8,788 246.5,784.3 246.2,791.7 245.5,784 246.5,789.4 246.7,785.3 247.9,786.9 247.3,784 247.2,784.7 247.1,788.5 247.7,784.1 247.8,783.9 247.7,790.9 247.1,782.8 247.1,785.1 247.8,783.5 249.5,782.8 249,789.6 249,791.4 248.2,785.5 248.6,786.3 248.2,783.9 248.2,783.9 249,788.4 249.5,786.6 249.5,786.4 248.9,780.3 250.1,782.2 250.2,785.3 249.7,786.1 250.7,781.2 250.5,784.6 250.2,787.6 250.8,790.2 250.3,788.8 250.1,788.5 250.6,784.5 252.1,784.3 251.4,781.8 252,785.8 251.4,786.7 251.4,782.9 251.4,784.3 251.2,789.4 251.7,781.8 251.4,781.4 251.7,780.8 253.4,788.6 252.8,783.6 253,788.2 252.7,789.5 252.6,786.8 253.3,781.4 252.9,779.7 253.2,783.9 252.3,782.3 253.3,787.2 254.2,782.6 254.9,783.5 254,781.9 253.8,782.1 254.2,791.3 253.7,791 253.7,780.1 253.6,791 254.9,791.1 254.6,782.8 255,779.9 256.1,783.4 256.2,789 255.6,783.4 255.3,790.3 256,777.5 255.5,788.5 255.5,781.5 256,788 255,790.3 256.3,782.3 257.5,779.6 257.1,788.2 256.8,778.7 256.3,785.7 257.4,782.2 257.2,780.5 256.7,788.2 256.8,779.6 256.6,788.4 258.7,786.6 258.9,777 258.6,777.6 258.2,776.8 258.2,789.3 258,776.9 258.3,788.5 257.7,784.2 258.2,786.5 257.9,782.9 258.3,775 259.8,780.7 259.5,780.4 259.9,781 259.4,784.9 260.1,784 259.5,777.4 259.4,783.7 259.5,780.3 259.2,784.4 260,780.6 260.7,783.9 260.4,782.8 260.7,779.3 261,783.3 260.5,779.3 261.6,776.9 260.6,783.9 260.9,778.1 261.1,774.9 261.7,782.5 262.1,785 262.8,779.9 262.1,779.5 262.7,782.1 261.7,783.1 261.7,783.6 262.5,778 261.9,779.8 262.2,778.2 261.9,774.5 262.3,787.1 263.5,782.9 264.3,777.9 263.7,782.9 263.1,783.3 263.9,781.5 263.2,780.9 263.7,780.9 263.9,779.4 263,779.8 264.3,782.8 265.1,780.2 265.2,776.3 265.7,771.6 264.6,779.6 264.4,777.9 265.4,781.4 265.2,777.1 265.7,772.8 265.6,774.2 265.3,781.1 266.1,779.8 267,778.7 267,777.6 266.7,772 266.8,773.9 266.1,774.7 266.9,770.4 265.9,774.6 266.3,775.7 266.4,773.2 266.4,784.3 267.5,778.7 267.8,774.3 267.5,774.4 267.6,775.7 268,776.7 267.1,773.8 267.2,776.3 268,770.9 267.7,770.8 267.3,775.7 267.7,768.8 269.3,777.1 269.4,775.2 269.1,769.8 269.1,769 269.4,771.1 269.2,770.3 268.4,773.1 269.2,776.5 268.8,773.3 268.8,774.9 270.7,777.4 269.9,777.2 270.9,776.6 269.9,771.8 270,777.6 270.5,769 270.4,768.9 270.5,776.5 270.8,775.1 270.8,771 272,776.2 271.4,770.5 272.1,778.1 271.3,775.2 271.6,769 271.5,773.2 271.7,777.5 272.3,770.6 271.7,769.8 271.3,776.5 273.7,766.6 273.7,768.3 273.5,775.9 273.3,766.3 272.7,770.8 272.9,769.9 273.3,774.2 273.3,775.1 272.8,768.7 273.5,772.7 273.8,775.1 274.9,769.3 274.3,767.8 274.4,778.1 274,771 274.9,770.5 273.9,778.3 275,767.3 274.2,776.1 275.1,774.8 275.6,773.6 276.2,774.5 276.3,765.3 275.4,765.5 275.7,772.4 276.3,775 276,778.6 276.4,765.4 276.1,771.9 275.2,771.3 276.7,766.7 276.5,774.8 276.5,775.8 276.9,774.1 277.6,773.7 277,776.8 277.1,770.9 277.8,773.9 277.3,770.1 277.3,775.6 278,765.1 278.7,772.8 277.9,774.9 277.9,771.9 278.3,773.4 278.3,776.9 278.1,775.8 278.8,766.2 278.5,776.6 279,774.9 278.5,762.1 279.4,775.1 279.7,765.7 280.5,772.7 279.7,773.7 279.9,773.4 279.7,767.5 279.7,766 280.1,774.1 280.4,769.5 280,771.2 281.2,772.6 281.7,771.3 281.7,764.7 280.7,763.9 281,763.8 281.5,767.2 280.9,772.4 281.2,769.3 281.2,763.6 281.7,765.7 281.2,776.1 283.1,765.8 283,770.5 282.7,762.8 282.1,771.6 282.6,763.8 282,769 282,767.3 283.1,772.3 282.3,771.8 283.2,764.1 282.6,759.8 283.8,769.9 283.3,771.2 283.9,764.3 283.4,770.2 283.4,765.7 284.5,768.6 283.2,770.4 284.4,765.4 284.3,764.6 283.6,766.9 284.9,766.3 285.6,760.7 285.3,760.7 285.7,765.7 284.8,769.1 285.1,765.9 285.1,771.3 285.4,767.2 285.6,761.2 285.4,768 285.2,773.4 286.9,767.5 286.9,767.2 286.4,767.6 286.5,765.8 286.4,761.5 286.8,768.5 286,770.4 287.1,763 286.5,761.3 286.5,763.5 286.6,756.9 288.2,762.9 287.7,763.7 287.9,766.7 288.2,763.6 287.7,761.3 287.8,762.3 287.5,767.2 287.7,761.2 288.5,758.7 287.9,758.2 287.9,756.8 289.3,761.5 289.8,763.1 289.5,760 289.8,759.4 289.5,766.5 289.2,766.4 288.9,760.9 289.8,760.9 289.3,762.3 288.8,760 289.3,756.9 290.8,763.9 290.3,764.1 291,764.7 291.1,768.4 291.2,766.3 290.7,766.1 290.7,765.6 290.1,765.1 290.5,760.1 291.1,764.3 290.6,755.5 290.6,771.5 291.8,762.7 291.8,763.7 291.8,762.2 291.4,757.5 292.2,764.6 292.4,759.2 292.5,764.4 292,764.9 291.8,761.6 292.3,758.3 293.4,766 293,759.8 293,760.9 293.6,762.8 293.6,755.5 293.8,756.1 292.8,758.7 292.7,768.1 294,759.8 293.3,760.5 295.2,756.4 294.3,763.8 294.6,755.6 295,758.1 295.2,762 294.7,755.7 294.2,764.2 294.8,758.4 294.6,759.2 294.1,765.2 295.4,765.8 295.4,759.5 296.6,766.2 295.8,757 296,761.8 296,765.4 296.6,760.9 295.4,762.4 295.7,756.9 296.6,759.7 296,767.8 297.6,761.1 297.9,756.2 298,758.4 296.7,764.3 297.5,758.7 296.9,762.6 297,758.7 297.8,759.5 298,759 297.3,762.4 298.3,759.8 298.8,762.4 298.4,758.8 298.8,765.4 299.3,764.8 298.6,763 299.2,757.5 298.3,759.1 298.3,764.3 299.3,761.3 300.7,758.4 299.6,765.9 300.2,759.2 299.9,757.7 300.5,763.8 300.2,753.4 299.4,756.1 300.4,761.9 300.1,754.4 299.5,758.8 300.1,768 301.8,758.7 300.9,758.6 301.5,758 300.9,759.9 301.8,760.2 301.6,755.7 301.4,764.4 301.2,762.9 302.1,763.9 301.2,756 302.7,758.6 302.1,759.1 303.4,757.4 302.9,755.3 302.2,750.8 302.9,756.7 302.1,756.3 302.2,760.9 303,756.1 302.3,756.5 302.8,748.5 304.6,753.7 304.7,758 303.6,755.5 303.4,755.3 304.3,762.1 304.8,754.5 304.1,753.3 304.2,760.7 304,753.3 303.6,759.5 304.1,750 305.7,757.9 305.5,760.1 305.3,753.5 305.8,752 305.9,752 305.6,761.7 305,756.1 305.6,757.5 305.6,755 305.7,760.1 307.2,754.2 306.5,753 306.9,760 306.1,759.1 307.1,758.6 307.1,753.5 307.1,756.6 306.6,758 307.1,752.3 306.2,755 308,751.7 308.2,758.5 308.1,751.4 307.6,752.3 307.7,756 308.8,759.5 308.4,752.6 308.8,755.7 307.7,754 307.8,759.7 308.2,749.7 309.3,749.3 309,758.8 310.1,747.9 309.5,750.1 308.9,755.2 310.1,759.9 310,761.2 309.2,753.9 309.6,754.2 309,756 309.5,746.3 72.3,896.5 72.3,895.4 72.3,894.4 72.3,893.3 72.3,892.3 72.3,891.2 72.3,890.2 72.3,889.1 72.3,888.1 72.3,887 72.3,886 72.3,884.9 72.3,883.9 72.3,851.9 72.3,848.6 72.3,846.1 72.3,843.5 83.1,902.4 83.1,901.3 83.1,900.3 83.1,899.3 83.1,898.3 83.1,897.2 83.1,896.2 83.1,895.2 83.1,894.2 83.1,893.1 83.1,892.1 83.1,891.1 83.1,890 83.1,889 83.1,888 83.1,887 83.1,885.9 83.1,884.9 83.1,883.9 83.1,882.9 83.1,881.8 83.1,880.8 83.1,879.8 83.1,878.7 83.1,877.7 83.1,876.7 83.1,875.7 83.1,874.6 83.1,873.6 83.1,872.6 83.1,871.6 83.1,870.5 83.1,869.5 83.1,868.5 83.1,867.4 83.1,866.4 83.1,865.4 83.1,863.7 83.1,861.6 127.6,875.5 127.6,874.5 127.6,873.5 127.6,872.5 127.6,871.4 127.6,870.4 127.6,869.4 127.6,868.4 127.6,867.4 127.6,866.4 127.6,865.4 127.6,864.4 127.6,863.4 127.6,862.4 127.6,861.4 127.6,860.4 127.6,859.3 127.6,858.3 127.6,857.3 127.6,856.3 127.6,855.3 127.6,854.3 127.6,853.3 127.6,852.3 127.6,851.3 127.6,850.3 127.6,849.3 127.6,848.3 127.6,847.2 127.6,846.2 127.6,845.2 127.6,844.2 127.6,843.2 127.6,842.2 127.6,841.2 127.6,840.2 127.6,839.2 127.6,838.2 127.6,837.2 127.6,836.1 127.6,835.1 127.6,878.8 127.6,877.2 127.6,832.6 127.6,830.1 127.6,820.9 127.6,818.3 127.6,815 127.6,811.6 201.7,812.5 201.7,811.4 201.7,810.3 201.7,809.2 201.7,808.1 201.7,807 201.7,805.9 201.7,804.8 201.7,803.7 201.7,802.6 201.7,801.5 201.7,799.4" fill="none" stroke="none" marker-start="url(#mk)" marker-mid="url(#mk)" marker-end="url(#mk)"/>
<g font-family="'Liberation Sans', Arial, Helvetica, sans-serif" font-size="10.5" fill="#262626" stroke="#262626" stroke-width="0.2">
<g text-anchor="middle">
<text x="40" y="932.2">0</text>
<text x="107.4" y="932.2">50</text>
<text x="174.8" y="932.2">100</text>
<text x="242.1" y="932.2">150</text>
<text x="309.5" y="932.2">200</text>
</g><g text-anchor="end">
<text x="35.2" y="921.7">0</text>
<text x="35.2" y="879.6">50</text>
<text x="35.2" y="837.6">100</text>
<text x="35.2" y="795.6">150</text>
<text x="35.2" y="753.6">200</text>
<text x="35.2" y="711.6">250</text>
</g></g>
<g font-family="'Liberation Sans', Arial, Helvetica, sans-serif" font-size="11.5" fill="#262626">
<text x="97.8" y="948">Actual Thickness, T<tspan dy="4" dx="0.8" font-size="8.9">topcoat</tspan><tspan dy="-4" dx="0.5">(</tspan><tspan font-style="italic" font-size="12" dx="0.3">μ</tspan><tspan dx="0.3">m)</tspan></text>
<text text-anchor="middle" transform="translate(8.8 812.4) rotate(-90)">Predicted Thickness, T<tspan dy="4" dx="0.8" font-size="8.9">topcoat</tspan><tspan dy="-4" dx="0.5">(</tspan><tspan font-style="italic" font-size="12" dx="0.3">μ</tspan><tspan dx="0.3">m)</tspan></text>
</g>
<path d="M454.5 707.5V920.5M498.5 707.5V920.5M543.5 707.5V920.5M588.5 707.5V920.5M632.5 707.5V920.5M409.5 884.5H677.5M409.5 849.5H677.5M409.5 813.5H677.5M409.5 778.5H677.5M409.5 742.5H677.5" stroke="#e8e8e8" stroke-width="1" fill="none" shape-rendering="crispEdges"/>
<path d="M409.80 707.00H677.15V920.40H409.80Z" stroke="#6e6e6e" stroke-width="1" fill="none"/>
<path d="M454.5 920.40v-2.7M454.5 707.00v2.7M498.5 920.40v-2.7M498.5 707.00v2.7M543.5 920.40v-2.7M543.5 707.00v2.7M588.5 920.40v-2.7M588.5 707.00v2.7M632.5 920.40v-2.7M632.5 707.00v2.7M409.80 884.5h2.7M677.15 884.5h-2.7M409.80 849.5h2.7M677.15 849.5h-2.7M409.80 813.5h2.7M677.15 813.5h-2.7M409.80 778.5h2.7M677.15 778.5h-2.7M409.80 742.5h2.7M677.15 742.5h-2.7" stroke="#6e6e6e" stroke-width="1" fill="none"/>
<polyline points="436.5,788.9 436.5,789.8 436.5,791 436.5,791.9 436.5,792.5 436.5,795.2 436.5,795.6 436.5,796.2 436.5,796.6 436.5,797.7 436.5,798.8 436.5,801.4 436.5,801.8 436.5,802.6 436.5,803.8 436.5,805.2 436.5,806.1 436.5,807 436.5,807.4 436.5,808 436.5,808.6 436.5,809.9 436.5,811 436.5,812.2 436.5,813 436.5,813.6 436.5,814.9 436.5,815.7 436.5,816.4 436.5,817.2 436.5,819.5 436.5,820.9 436.5,821.7 436.5,822.9 436.5,823.9 436.5,824.9 436.5,825.5 436.5,826.8 436.5,827.8 436.5,828.3 436.5,829.5 436.5,830.2 436.5,831.3 436.5,832.7 436.5,834.1 436.5,835.1 436.5,836 436.5,836.6 436.5,837.1 436.5,837.9 441,792.1 441,792.8 441,793.3 441,794 441,795.4 441,796.3 441,797.7 441,798.8 441,801.2 441,802.4 441,803.4 441,804.4 441,805.1 441,805.8 441,806.1 441,807.5 441,810.5 441,811.7 441,812.4 441,813.7 441,814.2 441,814.7 441,817.5 441,818.7 441,819.2 441,819.9 441,820.5 441,821.1 441,822.2 441,822.6 441,823.9 441,825.1 441,827.9 441,829.1 441,830.2 441,831.3 441,831.7 441,832.4 441,833 441,834 441,834.4 441,835 445.4,788.9 445.4,789.8 445.4,791.1 445.4,791.8 445.4,793.2 445.4,793.6 445.4,794.9 445.4,795.7 445.4,796.1 445.4,796.9 445.4,797.7 445.4,798.3 445.4,801 445.4,802.1 445.4,803.3 445.4,803.9 445.4,804.7 445.4,806.1 445.4,807 445.4,808.1 445.4,809.3 445.4,810.5 445.4,811.7 445.4,812.8 445.4,814.2 445.4,815.2 445.4,816.6 445.4,816.9 445.4,817.6 445.4,818.1 445.4,818.6 445.4,819.9 445.4,820.8 445.4,822.1 445.4,822.7 445.4,823.8 445.4,824.4 445.4,825.1 445.4,826.3 445.4,827.4 445.4,828.4 445.4,829.2 445.4,830 445.4,831.1 445.4,831.6 445.4,832.2 445.4,833.6 445.4,836.9 445.4,837.3 445.4,786.2 445.4,784.9 449.9,791.2 449.9,794.1 449.9,794.8 449.9,796.1 449.9,796.6 449.9,797.8 449.9,798.2 449.9,799 449.9,799.6 449.9,800.8 449.9,802.1 449.9,805.1 449.9,806.4 449.9,807.6 449.9,808 449.9,809 449.9,809.9 449.9,810.6 449.9,811.3 449.9,812.3 449.9,812.8 449.9,813.7 449.9,814.2 449.9,814.7 449.9,817.5 449.9,818.5 449.9,819 449.9,819.9 449.9,821 449.9,821.9 449.9,823.2 449.9,823.6 449.9,824.5 449.9,825.1 449.9,825.9 449.9,827.2 449.9,828.5 449.9,829.1 449.9,830.4 449.9,831.8 449.9,832.5 449.9,833.9 449.9,834.2 449.9,835.3 449.9,835.6 449.9,839 449.9,842 454.4,791.3 454.4,792.3 454.4,793.4 454.4,794.2 454.4,795 454.4,795.9 454.4,796.6 454.4,797 454.4,798 454.4,801.1 454.4,801.5 454.4,802.5 454.4,803.4 454.4,804 454.4,805 454.4,806.2 454.4,806.8 454.4,807.5 454.4,808.2 454.4,809 454.4,812.3 454.4,813.5 454.4,814.7 454.4,815.4 454.4,815.8 454.4,816.8 454.4,818.2 454.4,818.8 454.4,820 454.4,820.4 454.4,821.7 454.4,822.5 454.4,823.5 454.4,824.6 454.4,825.8 454.4,826.4 454.4,827.6 454.4,828.2 454.4,829.5 454.4,830.2 454.4,830.7 454.4,831.3 454.4,832 454.4,832.6 454.4,833.7 454.4,834.8 454.4,834.8 454.4,789.4 454.4,836.4 454.4,841.8 458.8,791.7 458.8,792.8 458.8,796 458.8,796.8 458.8,798.2 458.8,799.2 458.8,800 458.8,801.1 458.8,802 458.8,802.6 458.8,802.9 458.8,803.8 458.8,804.8 458.8,805.2 458.8,805.7 458.8,806.4 458.8,807 458.8,809.4 458.8,810.4 458.8,811 458.8,812 458.8,812.8 458.8,813.3 458.8,814.3 458.8,814.9 458.8,815.3 458.8,816.3 458.8,817.2 458.8,817.6 458.8,818.3 458.8,819 458.8,819.4 458.8,820.7 458.8,821.7 458.8,823 458.8,824.4 458.8,825.5 458.8,826.1 458.8,827.1 458.8,827.9 458.8,828.3 458.8,828.8 458.8,830 458.8,830.5 458.8,831 458.8,831.8 458.8,832.5 458.8,833.3 458.8,834.4 458.8,835.3 458.8,835.9 458.8,836.6 458.8,836.8 458.8,838.7 463.3,791.3 463.3,792 463.3,792.6 463.3,793.4 463.3,794.4 463.3,795 463.3,796.3 463.3,797.1 463.3,798.4 463.3,798.9 463.3,800.1 463.3,801.5 463.3,802.1 463.3,802.8 463.3,804.2 463.3,805 463.3,805.7 463.3,806.9 463.3,808 463.3,809.3 463.3,810.5 463.3,811.4 463.3,812.3 463.3,813.4 463.3,814.4 463.3,814.9 463.3,815.4 463.3,817.7 463.3,818.9 463.3,821.9 463.3,822.8 463.3,823.6 463.3,824.4 463.3,825.6 463.3,826.3 463.3,827.6 463.3,828.2 463.3,828.9 463.3,830.1 463.3,830.9 463.3,831.6 463.3,832.8 463.3,834 463.3,836.6 463.3,837.3 463.3,837.7 463.3,838.3 463.3,838.5 467.7,791.5 467.7,792 467.7,792.7 467.7,793.3 467.7,794.5 467.7,795.6 467.7,796.2 467.7,796.9 467.7,798.2 467.7,798.6 467.7,800 467.7,801.1 467.7,801.6 467.7,803 467.7,804.3 467.7,805.5 467.7,806.8 467.7,807.7 467.7,808.9 467.7,809.3 467.7,809.8 467.7,810.9 467.7,812.2 467.7,813.1 467.7,813.8 467.7,814.6 467.7,815.7 467.7,816.4 467.7,817 467.7,818.3 467.7,819.1 467.7,819.8 467.7,820.7 467.7,821.6 467.7,823.9 467.7,824.5 467.7,825.2 467.7,826.2 467.7,827.4 467.7,828.1 467.7,829.2 467.7,830.4 467.7,831.7 467.7,832.8 467.7,833.7 467.7,834.2 467.7,834.8 467.7,835.6 467.7,835.9 467.7,787.9 472.2,791.8 472.2,793.2 472.2,794.1 472.2,795 472.2,796.4 472.2,797 472.2,797.8 472.2,798.9 472.2,800 472.2,800.3 472.2,801.1 472.2,802.2 472.2,803.5 472.2,804.8 472.2,805.8 472.2,806.2 472.2,807 472.2,807.8 472.2,810.9 472.2,811.5 472.2,812.2 472.2,812.8 472.2,813.3 472.2,814.4 472.2,814.9 472.2,816.2 472.2,817.4 472.2,818 472.2,819.2 472.2,819.6 472.2,820.1 472.2,821.2 472.2,822 472.2,822.7 472.2,823.3 472.2,823.8 472.2,824.5 472.2,825.3 472.2,826.2 472.2,827.1 472.2,828.2 472.2,829.4 472.2,830.3 472.2,831 472.2,831.7 472.2,832.5 472.2,833.7 472.2,835 472.2,835.8 472.2,835.9 476.6,790 476.6,791.2 476.6,792.4 476.6,793.6 476.6,794.3 476.6,795.6 476.6,796.4 476.6,797.5 476.6,798.4 476.6,798.8 476.6,799.9 476.6,801.2 476.6,802.4 476.6,803.2 476.6,803.8 476.6,804.3 476.6,805.6 476.6,806.7 476.6,808.1 476.6,808.9 476.6,810.1 476.6,811.3 476.6,812.7 476.6,813.6 476.6,814.2 476.6,814.7 476.6,815.9 476.6,818.9 476.6,820 476.6,821.4 476.6,821.8 476.6,822.5 476.6,823.8 476.6,825 476.6,825.9 476.6,826.6 476.6,827.5 476.6,827.9 476.6,828.4 476.6,829.3 476.6,830 476.6,831.1 476.6,832.1 476.6,833.1 476.6,836.3 476.6,837.4 476.6,837.5 476.6,788.5 476.6,840.7 481.1,789.8 481.1,791.2 481.1,792.3 481.1,793.5 481.1,794.3 481.1,794.9 481.1,796 481.1,796.6 481.1,797.2 481.1,798 481.1,799.1 481.1,799.6 481.1,800.5 481.1,801.8 481.1,802.4 481.1,805.5 481.1,806.1 481.1,807.1 481.1,808.5 481.1,809.2 481.1,809.7 481.1,810.5 481.1,811.1 481.1,811.7 481.1,812.3 481.1,813 481.1,814.3 481.1,815.2 481.1,816.2 481.1,817.2 481.1,817.7 481.1,820.7 481.1,821.9 481.1,823 481.1,823.9 481.1,824.8 481.1,825.9 481.1,827.2 481.1,827.6 481.1,828.9 481.1,829.8 481.1,831.1 481.1,831.5 481.1,832.3 481.1,832.8 481.1,833.9 481.1,834.4 481.1,835.3 481.1,836.1 481.1,836.9 485.5,789.9 485.5,790.7 485.5,792 485.5,793.1 485.5,794.1 485.5,795 485.5,795.4 485.5,796.4 485.5,797.3 485.5,798 485.5,799.2 485.5,799.6 485.5,800 485.5,800.4 485.5,801 485.5,801.4 485.5,802.5 485.5,802.9 485.5,803.7 485.5,804.2 485.5,806.4 485.5,807.3 485.5,807.8 485.5,809.1 485.5,810.3 485.5,811.7 485.5,812.7 485.5,813.9 485.5,815 485.5,816.4 485.5,816.8 485.5,817.6 485.5,818.7 485.5,819.6 485.5,820.3 485.5,821.1 485.5,821.6 485.5,822.7 485.5,823.1 485.5,824.3 485.5,825.4 485.5,825.9 485.5,826.6 485.5,827.7 485.5,829 485.5,830.3 485.5,831.2 485.5,832.5 485.5,833.5 485.5,834.3 485.5,834.7 485.5,835.3 485.5,835.5 490,791.8 490,792.7 490,794.1 490,794.9 490,795.7 490,797 490,797.7 490,798.6 490,799.4 490,800.1 490,801.3 490,802.1 490,802.8 490,803.3 490,804.2 490,805.5 490,806.9 490,808.3 490,809.1 490,810.4 490,811.6 490,812.1 490,813.2 490,813.6 490,817.2 490,817.6 490,818 490,818.9 490,820.3 490,820.9 490,821.9 490,822.6 490,824 490,825.3 490,825.8 490,829.1 490,830 490,831.4 490,831.9 490,833.2 490,833.7 490,834.5 490,835.5 490,836.3 490,836.7 490,839.9 494.5,790.6 494.5,791.2 494.5,792.6 494.5,793.7 494.5,794.5 494.5,795.2 494.5,798.6 494.5,799.7 494.5,800.3 494.5,801 494.5,802.4 494.5,803.1 494.5,803.7 494.5,804.8 494.5,807 494.5,808.3 494.5,809.2 494.5,810.1 494.5,810.8 494.5,813.7 494.5,814.3 494.5,814.8 494.5,817.1 494.5,817.5 494.5,818.3 494.5,819 494.5,820.2 494.5,821 494.5,821.6 494.5,822.6 494.5,823.5 494.5,823.9 494.5,824.7 494.5,825.1 494.5,825.9 494.5,826.7 494.5,827.3 494.5,828.1 494.5,828.6 494.5,829.5 494.5,830.1 494.5,831.5 494.5,832.9 494.5,833.7 494.5,834.6 494.5,834.9 494.5,836.1 494.5,836.7 494.5,788.9 498.9,789.1 498.9,789.7 498.9,790 498.9,790.7 498.9,791.7 498.9,792.3 498.9,793.6 498.9,794.5 498.9,795.9 498.9,796.6 498.9,797.3 498.9,798.2 498.9,799.5 498.9,800.1 498.9,800.6 498.9,801.1 498.9,802.3 498.9,803.6 498.9,804.8 498.9,805.5 498.9,806.5 498.9,806.9 498.9,808.1 498.9,811.5 498.9,812.9 498.9,813.9 498.9,815.1 498.9,816 498.9,816.6 498.9,817.9 498.9,819.1 498.9,819.9 498.9,821.1 498.9,823.5 498.9,826.3 498.9,826.7 498.9,827.4 498.9,828.1 498.9,829.2 498.9,829.7 498.9,830.5 498.9,830.9 498.9,832 498.9,832.8 498.9,835.7 498.9,836.2 498.9,837.3 498.9,786.5 498.9,784 498.9,839.6 503.4,789.5 503.4,790.5 503.4,791.7 503.4,792.1 503.4,794.9 503.4,798.4 503.4,799.4 503.4,800.2 503.4,800.7 503.4,801.8 503.4,802.4 503.4,803.1 503.4,803.8 503.4,804.3 503.4,805.7 503.4,806.5 503.4,807.9 503.4,808.5 503.4,809.5 503.4,809.9 503.4,811.3 503.4,812.5 503.4,813.8 503.4,814.3 503.4,815.7 503.4,816.3 503.4,816.7 503.4,817.3 503.4,818 503.4,818.5 503.4,819.7 503.4,820.7 503.4,821.2 503.4,822 503.4,823.3 503.4,825.8 503.4,829 503.4,830.1 503.4,831.5 503.4,832.3 503.4,833.2 503.4,834.2 503.4,835.1 503.4,835.2 503.4,786 503.4,838.7 507.8,790 507.8,791.3 507.8,792.1 507.8,792.6 507.8,793.8 507.8,794.5 507.8,795.4 507.8,796.8 507.8,798.1 507.8,798.9 507.8,799.4 507.8,800.4 507.8,802.8 507.8,803.4 507.8,804.2 507.8,805.5 507.8,806.7 507.8,807.7 507.8,808.4 507.8,809 507.8,809.6 507.8,810.7 507.8,811.7 507.8,812.9 507.8,814.3 507.8,815 507.8,815.9 507.8,816.9 507.8,817.9 507.8,819.1 507.8,819.7 507.8,820.9 507.8,821.4 507.8,822.6 507.8,823.7 507.8,824.6 507.8,825.6 507.8,828.6 507.8,830 507.8,831.3 507.8,832.2 507.8,832.7 507.8,836.2 507.8,837.1 512.3,792.2 512.3,793 512.3,795.6 512.3,796.1 512.3,796.6 512.3,797.8 512.3,798.9 512.3,800.1 512.3,801 512.3,803.4 512.3,804.1 512.3,805 512.3,805.5 512.3,807 512.3,807.5 512.3,808.7 512.3,809.7 512.3,810.6 512.3,811.1 512.3,812.1 512.3,813.1 512.3,813.9 512.3,815 512.3,816.4 512.3,817.3 512.3,817.8 512.3,818.5 512.3,819.7 512.3,821.1 512.3,821.7 512.3,822.8 512.3,823.4 512.3,824.8 512.3,826.2 512.3,827.1 512.3,828.3 512.3,828.7 512.3,829.8 512.3,830.6 512.3,831.2 512.3,832 512.3,833.2 512.3,834.5 512.3,835.4 512.3,836.2 512.3,790.4 516.7,792.2 516.7,792.9 516.7,793.3 516.7,794.5 516.7,795.5 516.7,796.6 516.7,797.2 516.7,797.7 516.7,799.1 516.7,800.5 516.7,801.6 516.7,802.7 516.7,803.6 516.7,804.9 516.7,805.3 516.7,806.2 516.7,806.6 516.7,807.8 516.7,808.5 516.7,810.7 516.7,811.3 516.7,812 516.7,812.9 516.7,815.8 516.7,816.7 516.7,817.3 516.7,818.5 516.7,819.7 516.7,820.6 516.7,821.7 516.7,822.4 516.7,823.6 516.7,824.8 516.7,826.1 516.7,826.7 516.7,827.5 516.7,830.3 516.7,830.7 516.7,832.1 516.7,832.9 516.7,833.7 516.7,834.3 516.7,835.5 516.7,836.5 516.7,836.7 521.2,787.8 521.2,788.3 521.2,789.4 521.2,790.4 521.2,791.6 521.2,792.1 521.2,792.7 521.2,794 521.2,794.7 521.2,795.7 521.2,796.5 521.2,797 521.2,797.8 521.2,798.9 521.2,799.3 521.2,800.2 521.2,801.2 521.2,801.6 521.2,802.7 521.2,803.1 521.2,804.5 521.2,805.8 521.2,806.3 521.2,807.1 521.2,808 521.2,808.6 521.2,809.3 521.2,809.7 521.2,810.1 521.2,810.5 521.2,811.3 521.2,812.1 521.2,813.2 521.2,814.4 521.2,815.4 521.2,815.9 521.2,816.8 521.2,818.2 521.2,819.6 521.2,820 521.2,820.6 521.2,821.4 521.2,822.8 521.2,824.1 521.2,824.6 521.2,825.4 521.2,827.7 521.2,828.3 521.2,828.9 521.2,829.9 521.2,831 521.2,832.4 521.2,835.5 521.2,836.3 521.2,836.7 521.2,837.2 521.2,837.7 521.2,838.1 521.2,786.1 521.2,783.2 521.2,839.9 525.7,791.2 525.7,791.7 525.7,792.2 525.7,793.4 525.7,794.1 525.7,794.9 525.7,796.2 525.7,796.6 525.7,797.2 525.7,798.1 525.7,798.7 525.7,799.2 525.7,800.4 525.7,801.2 525.7,802.2 525.7,802.6 525.7,803.1 525.7,804.5 525.7,805.2 525.7,805.7 525.7,806.1 525.7,807.2 525.7,808.1 525.7,808.9 525.7,809.8 525.7,811 525.7,811.7 525.7,813.1 525.7,813.8 525.7,814.5 525.7,815.1 525.7,816.4 525.7,817.7 525.7,818.3 525.7,819.4 525.7,820.3 525.7,821.3 525.7,821.7 525.7,822.2 525.7,823.1 525.7,823.8 525.7,824.5 525.7,825.5 525.7,827.9 525.7,829 525.7,830.1 525.7,831.5 525.7,832.4 525.7,833.6 525.7,834.2 525.7,835.1 525.7,838 525.7,838.2 530.1,792 530.1,792.9 530.1,793.9 530.1,794.6 530.1,795.8 530.1,797.1 530.1,800.4 530.1,802.9 530.1,804.2 530.1,805.1 530.1,806.2 530.1,808.8 530.1,809.2 530.1,809.9 530.1,810.4 530.1,811.5 530.1,812.2 530.1,813.3 530.1,813.9 530.1,814.4 530.1,815.4 530.1,816.6 530.1,817.1 530.1,818.4 530.1,819.7 530.1,820.6 530.1,821.3 530.1,821.9 530.1,822.8 530.1,823.4 530.1,824.7 530.1,825.4 530.1,826.5 530.1,827.8 530.1,828.5 530.1,831.7 530.1,832.4 530.1,833.7 530.1,834.7 530.1,835.2 530.1,836.4 530.1,837 534.6,791.9 534.6,792.5 534.6,793.4 534.6,794.4 534.6,795.4 534.6,796.7 534.6,797.8 534.6,799.1 534.6,802.1 534.6,803.4 534.6,804.3 534.6,805.5 534.6,806.5 534.6,807 534.6,807.5 534.6,808 534.6,809.1 534.6,809.6 534.6,810.9 534.6,812 534.6,813.3 534.6,814 534.6,815.1 534.6,817.3 534.6,818.5 534.6,819.4 534.6,820.4 534.6,821.1 534.6,822.1 534.6,823 534.6,824 534.6,825.1 534.6,828.6 534.6,829 534.6,830.2 534.6,831.2 534.6,834.4 534.6,835.6 534.6,836.9 534.6,837.3 534.6,838 534.6,838.1 534.6,788.9 534.6,786.7 539,789.9 539,790.9 539,791.7 539,794.3 539,797.4 539,798.3 539,799.3 539,799.8 539,800.6 539,801.1 539,801.8 539,803.1 539,805.5 539,806.6 539,807.1 539,808.3 539,809.7 539,810.1 539,811 539,811.3 539,814.2 539,814.9 539,815.3 539,816.6 539,817.9 539,818.7 539,819.6 539,820.8 539,821.6 539,822.6 539,823.6 539,824.4 539,825.7 539,826.8 539,827.4 539,828.1 539,828.7 539,829.8 539,830.8 539,831.4 539,834.2 539,835.1 539,835.7 539,836.4 539,836.9 539,837.1 539,786.5 539,839.6 539,843.7 543.5,788.8 543.5,789.3 543.5,789.7 543.5,790.9 543.5,791.5 543.5,792.1 543.5,793.4 543.5,794.4 543.5,794.8 543.5,795.2 543.5,795.7 543.5,796.2 543.5,797 543.5,797.9 543.5,799.1 543.5,799.7 543.5,800.8 543.5,801.8 543.5,802.5 543.5,803.2 543.5,803.8 543.5,804.2 543.5,805.5 543.5,806.9 543.5,807.6 543.5,808.5 543.5,809.7 543.5,810.2 543.5,813.6 543.5,814.8 543.5,816.1 543.5,816.5 543.5,817.4 543.5,817.8 543.5,818.5 543.5,819.9 543.5,820.6 543.5,821.4 543.5,822.4 543.5,825.5 543.5,826.5 543.5,826.9 543.5,827.8 543.5,829 543.5,829.5 543.5,830.3 543.5,830.9 543.5,832 543.5,832.8 543.5,833.5 543.5,834.7 543.5,835.6 543.5,836.8 543.5,837.4 543.5,837.7 543.5,785.2 543.5,839.5 543.5,843.4 547.9,790 547.9,790.6 547.9,791.5 547.9,792.8 547.9,794 547.9,795 547.9,796.2 547.9,796.9 547.9,798.1 547.9,799 547.9,799.7 547.9,800.6 547.9,801.7 547.9,802.6 547.9,804 547.9,804.6 547.9,806 547.9,809.2 547.9,811.7 547.9,812.8 547.9,813.4 547.9,814.7 547.9,815.6 547.9,816.9 547.9,818 547.9,819.2 547.9,819.6 547.9,820.5 547.9,821.5 547.9,822.8 547.9,824.2 547.9,825.1 547.9,826.4 547.9,826.9 547.9,827.9 547.9,830.2 547.9,831.3 547.9,834.6 547.9,834.7 547.9,836.5 547.9,841.6 552.4,789.3 552.4,789.9 552.4,791.2 552.4,792 552.4,792.4 552.4,792.9 552.4,794.3 552.4,794.9 552.4,796.1 552.4,797.2 552.4,798.2 552.4,801.3 552.4,802.5 552.4,803 552.4,804.5 552.4,805.1 552.4,805.7 552.4,806.8 552.4,807.8 552.4,808.4 552.4,809.3 552.4,810.2 552.4,810.8 552.4,811.2 552.4,811.9 552.4,814.1 552.4,815.1 552.4,816.3 552.4,816.7 552.4,817.8 552.4,818.5 552.4,819.2 552.4,820.4 552.4,821.4 552.4,822.8 552.4,823.2 552.4,824.6 552.4,824.9 552.4,825.9 552.4,826.8 552.4,827.6 552.4,828.4 552.4,828.9 552.4,831.9 552.4,833.1 552.4,833.6 552.4,834.2 552.4,834.8 552.4,835.7 552.4,786.4 552.4,837.7 552.4,842.6 556.8,789.6 556.8,791 556.8,792.2 556.8,792.9 556.8,793.4 556.8,793.8 556.8,794.5 556.8,795.4 556.8,796.1 556.8,797.3 556.8,798.4 556.8,799.8 556.8,801 556.8,801.6 556.8,802.7 556.8,803.3 556.8,804.2 556.8,805.1 556.8,805.6 556.8,806.4 556.8,807.2 556.8,808.5 556.8,809.8 556.8,810.6 556.8,811.9 556.8,813.3 556.8,814.5 556.8,815.1 556.8,816.1 556.8,816.9 556.8,817.5 556.8,819.9 556.8,820.6 556.8,821.2 556.8,822.6 556.8,823.7 556.8,824.7 556.8,825.2 556.8,825.7 556.8,826.4 556.8,827.2 556.8,828.1 556.8,829 556.8,829.4 556.8,830.1 556.8,831.5 556.8,831.9 556.8,832.7 556.8,833.7 556.8,835 556.8,836.2 556.8,836.9 556.8,838.4 561.3,791.2 561.3,792.4 561.3,793.3 561.3,794.3 561.3,794.8 561.3,796.1 561.3,797.4 561.3,797.8 561.3,799.2 561.3,800.3 561.3,803.7 561.3,804.7 561.3,805.7 561.3,806.2 561.3,807.3 561.3,807.7 561.3,808.2 561.3,808.6 561.3,809.9 561.3,810.6 561.3,811 561.3,811.4 561.3,812.9 561.3,814.1 561.3,816.5 561.3,819.3 561.3,820.6 561.3,821.8 561.3,822.7 561.3,823.4 561.3,824.2 561.3,824.9 561.3,827.6 561.3,828.5 561.3,829.4 561.3,829.9 561.3,830.6 561.3,831.2 561.3,832.3 561.3,835.1 561.3,836.4 561.3,836.6 561.3,789.4 565.8,787.4 565.8,788.5 565.8,789.4 565.8,789.9 565.8,790.7 565.8,791.2 565.8,792.2 565.8,793.1 565.8,794.3 565.8,795 565.8,795.5 565.8,796.3 565.8,796.8 565.8,797.9 565.8,798.6 565.8,799.5 565.8,800.4 565.8,803.9 565.8,805.2 565.8,806 565.8,806.6 565.8,807 565.8,807.7 565.8,809.1 565.8,810.4 565.8,810.8 565.8,811.5 565.8,812.1 565.8,813.4 565.8,814.2 565.8,815.3 565.8,815.6 565.8,816.9 565.8,818 565.8,819 565.8,822 565.8,823 565.8,824.1 565.8,824.9 565.8,825.9 565.8,827.3 565.8,830.3 565.8,830.7 565.8,831.7 565.8,832.6 565.8,833.8 565.8,834.2 565.8,834.7 565.8,835.2 565.8,835.6 570.2,791.8 570.2,792.4 570.2,795.6 570.2,798.7 570.2,799.3 570.2,800.5 570.2,800.9 570.2,801.8 570.2,802.7 570.2,803.9 570.2,804.5 570.2,805.7 570.2,806.6 570.2,807.6 570.2,808.2 570.2,809.4 570.2,810.3 570.2,811.6 570.2,812.8 570.2,813.4 570.2,814 570.2,815.4 570.2,815.8 570.2,816.3 570.2,817.3 570.2,818.6 570.2,819.4 570.2,822.5 570.2,823 570.2,823.5 570.2,824.2 570.2,825.2 570.2,826.4 570.2,827.6 570.2,828.1 570.2,828.7 570.2,829.9 570.2,830.8 570.2,831.8 570.2,832.6 570.2,833.6 570.2,834.5 570.2,835.2 570.2,835.8 570.2,837.2 570.2,837.4 570.2,788.9 570.2,838.9 574.7,788 574.7,788.4 574.7,789.1 574.7,790.2 574.7,792.8 574.7,793.4 574.7,794.7 574.7,795.5 574.7,796.5 574.7,797.9 574.7,799.2 574.7,800.4 574.7,800.8 574.7,801.8 574.7,803.2 574.7,804.2 574.7,805.5 574.7,809 574.7,810.2 574.7,811.3 574.7,812.1 574.7,813 574.7,814 574.7,815.2 574.7,818.6 574.7,819.3 574.7,820.2 574.7,820.6 574.7,821.5 574.7,822.3 574.7,823.7 574.7,824.4 574.7,825 574.7,825.6 574.7,826.4 574.7,826.9 574.7,828.2 574.7,828.8 574.7,829.3 574.7,829.8 574.7,830.9 574.7,832 574.7,833.2 574.7,834.3 574.7,835.4 574.7,836.6 574.7,837.7 579.1,788.1 579.1,789.5 579.1,793 579.1,793.5 579.1,794.1 579.1,794.7 579.1,795.6 579.1,796.4 579.1,796.8 579.1,800.3 579.1,800.9 579.1,801.3 579.1,801.7 579.1,802.1 579.1,802.7 579.1,803.4 579.1,804.7 579.1,805.2 579.1,806.2 579.1,807.1 579.1,807.7 579.1,809.1 579.1,809.9 579.1,811.1 579.1,812.2 579.1,812.7 579.1,813.5 579.1,814.8 579.1,816.1 579.1,817 579.1,817.4 579.1,817.9 579.1,818.8 579.1,819.9 579.1,820.8 579.1,822.2 579.1,823 579.1,823.4 579.1,824 579.1,824.4 579.1,825.5 579.1,826.9 579.1,827.6 579.1,828.4 579.1,829.5 579.1,830 579.1,830.9 579.1,831.8 579.1,832.6 579.1,833.5 579.1,834.5 579.1,835.3 579.1,836.5 579.1,836.7 579.1,839.3 583.6,791.9 583.6,793 583.6,793.7 583.6,794 583.6,795.2 583.6,796.1 583.6,797.3 583.6,798.4 583.6,800.6 583.6,801 583.6,802.1 583.6,802.6 583.6,803.1 583.6,804.2 583.6,805.3 583.6,805.7 583.6,806.7 583.6,807.4 583.6,808.5 583.6,809.1 583.6,810.5 583.6,811.8 583.6,813.2 583.6,813.8 583.6,817.2 583.6,818.1 583.6,821.3 583.6,822.6 583.6,823.2 583.6,824.1 583.6,825.1 583.6,826.2 583.6,827 583.6,827.4 583.6,827.8 583.6,828.8 583.6,829.9 583.6,831.3 583.6,832.2 583.6,832.9 583.6,833.8 583.6,835.2 583.6,835.8 583.6,789.1 588,791.1 588,794.3 588,794.7 588,795.5 588,796.7 588,797.6 588,798.3 588,799 588,799.7 588,800.6 588,801 588,801.7 588,802.9 588,803.9 588,804.3 588,805.6 588,806.3 588,807.5 588,808.2 588,808.6 588,810 588,810.5 588,811.2 588,812 588,813.3 588,814.1 588,814.6 588,815.6 588,816.8 588,817.6 588,818.2 588,819 588,819.7 588,821.1 588,824.6 588,825.6 588,826.7 588,827.1 588,828.1 588,829.4 588,829.8 588,830.9 588,831.4 588,831.8 588,833.1 588,833.8 588,834.3 588,834.9 588,788.1 592.5,791.3 592.5,792 592.5,792.5 592.5,793.7 592.5,794.2 592.5,795.2 592.5,796.2 592.5,797.1 592.5,797.9 592.5,798.3 592.5,798.8 592.5,800.2 592.5,801.5 592.5,802 592.5,802.4 592.5,803.5 592.5,806.6 592.5,807.2 592.5,808.2 592.5,810.7 592.5,811.3 592.5,811.8 592.5,813 592.5,813.4 592.5,814.1 592.5,815.3 592.5,815.7 592.5,817.1 592.5,817.7 592.5,818.5 592.5,819.5 592.5,819.9 592.5,821 592.5,822 592.5,822.9 592.5,825.8 592.5,826.2 592.5,827 592.5,830 592.5,830.6 592.5,831.4 592.5,832 592.5,832.9 592.5,833.8 592.5,835.1 592.5,835.6 592.5,788.8 592.5,838 592.5,842.7 596.9,789.8 596.9,790.8 596.9,791.7 596.9,792.4 596.9,793.6 596.9,794.8 596.9,796.1 596.9,796.8 596.9,797.7 596.9,798.8 596.9,799.7 596.9,800.4 596.9,803.1 596.9,804.4 596.9,805.1 596.9,808.4 596.9,809.4 596.9,809.8 596.9,810.8 596.9,811.9 596.9,815.4 596.9,818.7 596.9,820.1 596.9,821 596.9,821.7 596.9,822.8 596.9,823.9 596.9,825.3 596.9,825.9 596.9,827 596.9,827.4 596.9,828 596.9,829.3 596.9,830.1 596.9,830.6 596.9,831.2 596.9,832 596.9,833.3 596.9,833.8 596.9,835.1 596.9,787.9 596.9,836.8 601.4,791.6 601.4,792.2 601.4,792.8 601.4,793.5 601.4,794.3 601.4,795.4 601.4,797.9 601.4,799.2 601.4,800.5 601.4,801.7 601.4,802.6 601.4,803.8 601.4,804.5 601.4,805.8 601.4,806.2 601.4,807.2 601.4,808 601.4,808.6 601.4,809.4 601.4,809.8 601.4,810.8 601.4,811.9 601.4,812.4 601.4,813.1 601.4,814.5 601.4,814.9 601.4,816.2 601.4,816.6 601.4,817.9 601.4,818.6 601.4,819.4 601.4,822 601.4,822.4 601.4,823.2 601.4,824.6 601.4,825.8 601.4,829.2 601.4,830.3 601.4,831.2 601.4,832.5 601.4,833.9 601.4,834.5 601.4,835.6 601.4,789.6 601.4,838.8 601.4,842.4 605.9,787.4 605.9,788.1 605.9,788.6 605.9,791.1 605.9,791.6 605.9,792.8 605.9,795.8 605.9,796.2 605.9,797.3 605.9,798.6 605.9,799.9 605.9,800.6 605.9,801 605.9,801.4 605.9,802 605.9,802.4 605.9,802.8 605.9,803.7 605.9,804.3 605.9,805.5 605.9,806.6 605.9,807.7 605.9,808.3 605.9,809.3 605.9,810.1 605.9,811.4 605.9,811.9 605.9,812.6 605.9,813.6 605.9,814.3 605.9,814.8 605.9,815.8 605.9,816.9 605.9,817.7 605.9,818.6 605.9,819.9 605.9,820.8 605.9,821.7 605.9,822.3 605.9,823.5 605.9,824.3 605.9,825.5 605.9,826.5 605.9,827 605.9,828.2 605.9,828.9 605.9,829.6 605.9,830 605.9,830.6 605.9,831.9 605.9,832.7 605.9,834.1 605.9,836.2 605.9,836.9 605.9,837.5 605.9,784.3 610.3,792.3 610.3,793.2 610.3,794.3 610.3,795.1 610.3,795.9 610.3,796.7 610.3,798 610.3,799.3 610.3,800.4 610.3,801.2 610.3,802.4 610.3,803.2 610.3,806.1 610.3,806.8 610.3,807.7 610.3,808.9 610.3,809.7 610.3,810.3 610.3,811.4 610.3,812.6 610.3,813.7 610.3,814.2 610.3,815.2 610.3,815.6 610.3,817.8 610.3,819.3 610.3,820.6 610.3,821.8 610.3,824.2 610.3,825.2 610.3,825.6 610.3,826.6 610.3,827.5 610.3,828 610.3,828.7 610.3,829.3 610.3,829.7 610.3,830.1 610.3,830.6 610.3,831.1 610.3,832.1 610.3,832.9 610.3,833.4 610.3,835.5 614.8,789.2 614.8,790.1 614.8,791.5 614.8,792.2 614.8,792.7 614.8,793.3 614.8,793.8 614.8,796.4 614.8,797.4 614.8,798.7 614.8,799.8 614.8,800.2 614.8,801 614.8,802.4 614.8,803.6 614.8,804.9 614.8,805.9 614.8,807.2 614.8,808.6 614.8,809.4 614.8,809.9 614.8,811.1 614.8,812.4 614.8,812.9 614.8,813.9 614.8,814.8 614.8,815.6 614.8,816 614.8,817.2 614.8,818.5 614.8,819.5 614.8,820.8 614.8,821.8 614.8,822.9 614.8,823.8 614.8,824.5 614.8,824.9 614.8,825.5 614.8,827 614.8,827.9 614.8,828.9 614.8,829.9 614.8,831.2 614.8,831.6 614.8,832.6 614.8,833.5 614.8,834.6 614.8,835.3 614.8,836.4 614.8,836.8 614.8,837.9 614.8,838 614.8,786.3 619.2,790.1 619.2,791 619.2,792.1 619.2,793.1 619.2,795.4 619.2,795.8 619.2,796.8 619.2,797.2 619.2,798.1 619.2,798.6 619.2,799 619.2,799.9 619.2,800.4 619.2,801.3 619.2,801.9 619.2,804.2 619.2,805 619.2,805.7 619.2,806.4 619.2,807.3 619.2,807.9 619.2,809.3 619.2,810 619.2,810.6 619.2,811.7 619.2,812.5 619.2,813.5 619.2,814.8 619.2,815.3 619.2,816.6 619.2,817.8 619.2,818.6 619.2,819.1 619.2,820.2 619.2,821.3 619.2,822 619.2,822.9 619.2,823.5 619.2,824.4 619.2,825.8 619.2,826.8 619.2,829.8 619.2,830.3 619.2,830.7 619.2,831.3 619.2,832.1 619.2,832.9 619.2,833.8 619.2,834.5 619.2,835 619.2,836.3 619.2,837.6 619.2,838 619.2,838.4 619.2,788.2 619.2,841.5 623.7,789.4 623.7,789.8 623.7,790.9 623.7,791.7 623.7,792.4 623.7,793.8 623.7,794.7 623.7,795.1 623.7,795.6 623.7,796.4 623.7,797.8 623.7,798.3 623.7,801.1 623.7,802.5 623.7,803.9 623.7,804.6 623.7,805.6 623.7,806.3 623.7,807.7 623.7,808.8 623.7,810.2 623.7,813 623.7,813.9 623.7,815.2 623.7,816.4 623.7,817.6 623.7,818.1 623.7,818.8 623.7,820.1 623.7,820.5 623.7,821.1 623.7,822.4 623.7,823.3 623.7,823.7 623.7,824.1 623.7,824.9 623.7,825.9 623.7,826.7 623.7,829.2 623.7,830.2 623.7,831.4 623.7,832.5 623.7,833.3 623.7,833.7 623.7,834.1 623.7,834.6 623.7,834.9 623.7,835.9 623.7,836.8 623.7,837.4 623.7,838.2 623.7,840.4 628.1,787.8 628.1,788.2 628.1,789.2 628.1,790 628.1,790.4 628.1,791.7 628.1,792.9 628.1,793.9 628.1,794.8 628.1,795.8 628.1,796.8 628.1,797.5 628.1,800.9 628.1,801.6 628.1,802.2 628.1,803.3 628.1,805.5 628.1,805.9 628.1,807.2 628.1,808.1 628.1,810.8 628.1,811.9 628.1,812.6 628.1,813.1 628.1,814.3 628.1,815.7 628.1,818.8 628.1,819.5 628.1,821.7 628.1,822.6 628.1,823.1 628.1,824.1 628.1,824.5 628.1,825.6 628.1,826.8 628.1,828.1 628.1,829.2 628.1,830.5 628.1,831.8 628.1,832.3 628.1,833.5 628.1,834.5 628.1,835.2 628.1,785.9 632.6,791.8 632.6,793.1 632.6,793.7 632.6,794.8 632.6,795.8 632.6,796.6 632.6,797.2 632.6,798.1 632.6,799.2 632.6,799.7 632.6,800.8 632.6,802.1 632.6,802.7 632.6,803.2 632.6,804.4 632.6,805.1 632.6,805.8 632.6,806.8 632.6,807.3 632.6,808.4 632.6,808.8 632.6,809.7 632.6,810.1 632.6,811.1 632.6,812 632.6,814.6 632.6,815.4 632.6,816.4 632.6,816.9 632.6,818.1 632.6,818.9 632.6,820.1 632.6,820.7 632.6,821.4 632.6,822 632.6,823.4 632.6,824.9 632.6,825.3 632.6,826 632.6,827.1 632.6,827.9 632.6,830.9 632.6,831.4 632.6,832.6 632.6,833.4 632.6,834.1 632.6,834.7 632.6,835.2 632.6,836.6 632.6,837.1 637,787.8 637,788.4 637,789.2 637,789.9 637,790.9 637,791.5 637,791.9 637,793.3 637,794.2 637,794.8 637,795.3 637,796.3 637,797.1 637,797.7 637,798.9 637,799.8 637,800.8 637,801.7 637,802.3 637,805.7 637,808.6 637,811.8 637,812.4 637,813.2 637,814.5 637,815.1 637,816.1 637,817 637,819.5 637,820.1 637,820.9 637,822.2 637,823.4 637,823.9 637,824.9 637,825.3 637,826.1 637,827 637,827.8 637,829 637,829.5 637,830.4 637,831.2 637,832.2 637,833.2 637,834.5 637,834.7 641.5,791.1 641.5,791.6 641.5,792.1 641.5,792.8 641.5,793.9 641.5,794.7 641.5,795.2 641.5,796.5 641.5,797.7 641.5,798.1 641.5,798.8 641.5,800.1 641.5,801.3 641.5,802.2 641.5,803 641.5,803.4 641.5,804.2 641.5,805.3 641.5,806.1 641.5,806.5 641.5,808.9 641.5,809.7 641.5,810.2 641.5,811.2 641.5,812.5 641.5,813.8 641.5,814.9 641.5,816 641.5,817.4 641.5,817.9 641.5,819.3 641.5,820 641.5,820.5 641.5,821.3 641.5,822.2 641.5,823.1 641.5,823.5 641.5,823.9 641.5,824.9 641.5,825.9 641.5,826.7 641.5,827.5 641.5,828.2 641.5,828.6 641.5,829.5 641.5,830.1 641.5,832.5 641.5,832.9 641.5,833.5 641.5,834.1 641.5,835.3 641.5,835.9 641.5,838.1 641.5,839.7 646,787.9 646,788.7 646,789.6 646,790.3 646,790.9 646,791.3 646,792.3 646,793.3 646,793.6 646,794.2 646,795.1 646,796.4 646,796.9 646,797.9 646,799.2 646,800.2 646,801.3 646,801.8 646,802.5 646,802.9 646,803.4 646,804.8 646,806 646,807 646,807.4 646,808.5 646,809.8 646,810.8 646,811.5 646,812.8 646,813.5 646,814.2 646,815.1 646,815.6 646,816.2 646,818.9 646,820.2 646,821.5 646,822.4 646,823.2 646,824.5 646,825.6 646,826.4 646,826.8 646,827.9 646,828.3 646,828.8 646,829.8 646,831.1 646,832.2 646,833.4 646,834.2 646,835.6 646,836.5 646,837.4 646,838.2 646,838.4 646,841.1 646,843 650.4,790.3 650.4,791.4 650.4,791.9 650.4,792.6 650.4,793.9 650.4,794.8 650.4,797.3 650.4,797.9 650.4,798.8 650.4,799.3 650.4,800.6 650.4,800.9 650.4,801.7 650.4,802.7 650.4,803.9 650.4,805 650.4,806.2 650.4,808.9 650.4,810.2 650.4,811 650.4,812.2 650.4,813.1 650.4,814.3 650.4,815.6 650.4,816.8 650.4,817.7 650.4,818.2 650.4,818.8 650.4,820.2 650.4,823 650.4,824.3 650.4,826.7 650.4,827.7 650.4,830.5 650.4,831.5 650.4,832.8 650.4,834.1 650.4,835.1 650.4,835.6 650.4,836.3 543.5,849.3 543.5,848.6 543.5,847.8 543.5,847.1 543.5,846.4 543.5,845.7 543.5,845 543.5,844.3 543.5,843.6 543.5,842.9 543.5,842.2 543.5,841.4 543.5,840.7 543.5,840 543.5,839.3 543.5,838.6 543.5,837.9 543.5,837.2 543.5,836.5 543.5,835.8 543.5,835 543.5,834.3 543.5,833.6 543.5,832.9 543.5,832.2 543.5,831.5 543.5,830.8 543.5,830.1 543.5,829.3 543.5,828.6 543.5,827.9 543.5,827.2 543.5,826.5 543.5,825.8 543.5,825.1 543.5,824.4 543.5,823.7 543.5,822.9 543.5,822.2 543.5,821.5 543.5,820.8 543.5,820.1 543.5,819.4 543.5,818.7 543.5,818 543.5,817.3 543.5,816.5 543.5,815.8 543.5,815.1 543.5,814.4 543.5,813.7 543.5,813 543.5,812.3 543.5,811.6 543.5,810.9 543.5,810.1 543.5,809.4 543.5,808.7 543.5,808 543.5,807.3 543.5,806.6 543.5,805.9 543.5,805.2 543.5,804.5 543.5,803.7 543.5,803 543.5,802.3 543.5,801.6 543.5,800.9 543.5,800.2 543.5,799.5 543.5,798.8 543.5,798.1 543.5,797.3 543.5,796.6 543.5,795.9 543.5,795.2 543.5,794.5 543.5,793.8 543.5,793.1 543.5,792.4 543.5,791.6 543.5,790.9 543.5,790.2 543.5,789.5 543.5,788.8 543.5,788.1 543.5,787.4 543.5,786.7 543.5,786 543.5,785.2 543.5,784.5 543.5,783.8 543.5,783.1 543.5,782.4 543.5,781.7 543.5,781 543.5,780.3 543.5,779.6 543.5,778.8 543.5,778.1 543.5,891.9 543.5,890.7 543.5,889.4 543.5,888.2 543.5,886.9 543.5,885.7 543.5,884.4 543.5,883.2 543.5,881.9 543.5,880.6 543.5,879.4 543.5,878.1 543.5,876.9 543.5,875.6 543.5,874.4 543.5,873.1 543.5,871.9 543.5,870.6 543.5,869.4 543.5,868.1 543.5,866.8 543.5,865.6 543.5,864.3 543.5,863.1 543.5,861.8 543.5,860.6 543.5,859.3 543.5,858.1 543.5,856.8 543.5,855.5 543.5,854.3 543.5,853 543.5,851.8 543.5,850.5 543.5,849.3 543.5,778.1 543.5,776.5 543.5,774.8 543.5,773.2 543.5,771.5 543.5,769.8 543.5,768.2 543.5,766.5 543.5,764.9 543.5,763.2 543.5,761.5 543.5,759.9 543.5,758.2 543.5,756.6 543.5,754.9 543.5,753.2 543.5,897.3 543.5,898.7 543.5,739" fill="none" stroke="none" marker-start="url(#mk)" marker-mid="url(#mk)" marker-end="url(#mk)"/>
<g font-family="'Liberation Sans', Arial, Helvetica, sans-serif" font-size="10.3" fill="#262626" stroke="#262626" stroke-width="0.2">
<g text-anchor="middle">
<text x="409.8" y="935">4.5</text>
<text x="454.4" y="935">4.6</text>
<text x="498.9" y="935">4.7</text>
<text x="543.5" y="935">4.8</text>
<text x="588" y="935">4.9</text>
<text x="632.6" y="935">5</text>
<text x="677.1" y="935">5.1</text>
</g><g text-anchor="end">
<text x="405.5" y="924.5">4.2</text>
<text x="405.5" y="888.9">4.4</text>
<text x="405.5" y="853.4">4.6</text>
<text x="405.5" y="817.8">4.8</text>
<text x="405.5" y="782.2">5</text>
<text x="405.5" y="746.7">5.2</text>
<text x="405.5" y="711.1">5.4</text>
</g></g>
<g font-family="'Liberation Sans', Arial, Helvetica, sans-serif" font-size="11.3" fill="#262626" text-anchor="middle">
<text x="543.3" y="949.8">Actual refractive index, n</text>
<text transform="translate(387 813.8) rotate(-90)">Predicted refractive index, n</text>
</g>
<rect x="363" y="662" width="1" height="1" fill="#d6d6a8"/>
</svg></body></html>
